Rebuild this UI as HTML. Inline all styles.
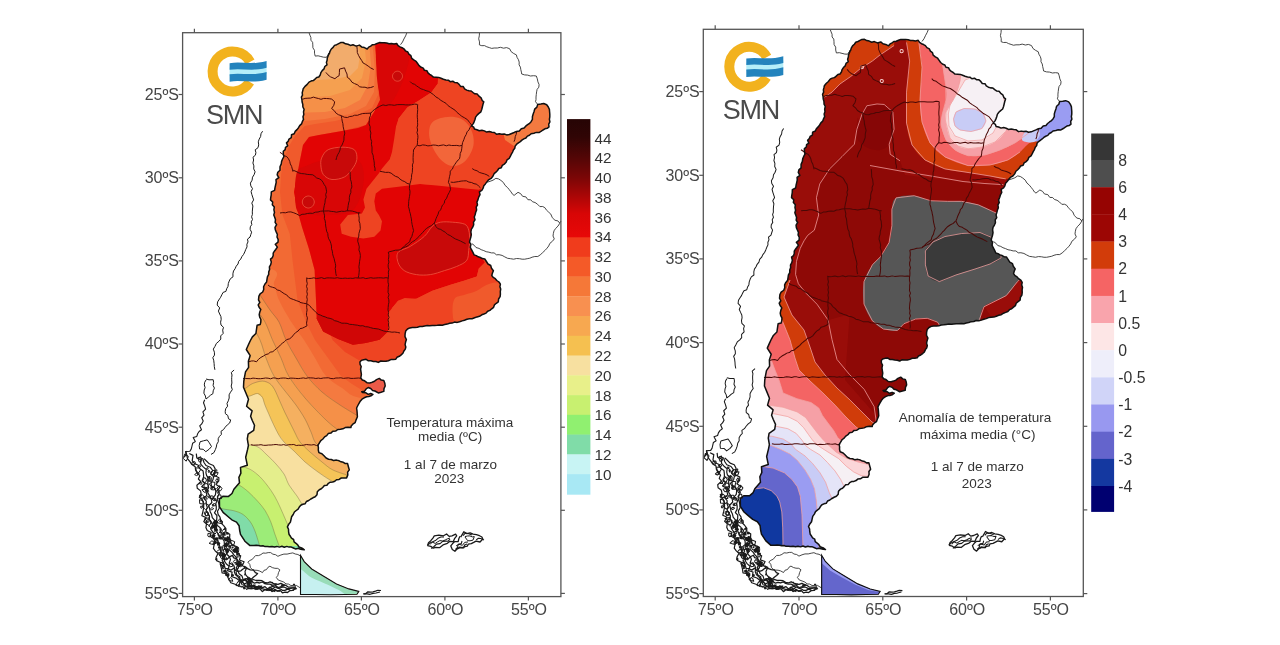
<!DOCTYPE html><html><head><meta charset="utf-8"><style>html,body{margin:0;padding:0;background:#fff;overflow:hidden}svg{display:block;filter:blur(0.35px)}</style></head><body><svg width="1280" height="645" viewBox="0 0 1280 645" style="font-family:'Liberation Sans',Arial,sans-serif">
<rect width="1280" height="645" fill="#fff"/>
<defs>
<clipPath id="arg"><path d="M329.3,53.8 L330.0,51.3 L331.3,49.0 L333.1,47.4 L334.5,45.4 L336.7,44.7 L338.7,43.6 L340.6,42.6 L343.2,42.5 L345.5,43.8 L348.0,44.3 L350.4,45.4 L353.0,44.8 L356.1,46.1 L359.4,45.1 L361.6,46.9 L364.4,47.6 L367.2,49.0 L368.7,47.1 L370.7,46.1 L372.5,44.7 L374.8,44.4 L377.1,43.5 L379.4,42.6 L381.9,42.7 L384.3,42.7 L386.7,43.0 L389.1,43.7 L391.5,43.6 L394.0,44.1 L396.7,43.5 L398.1,45.6 L400.0,46.9 L402.1,47.7 L403.9,48.8 L405.4,50.8 L407.8,52.0 L408.9,54.2 L410.9,55.7 L411.7,58.3 L413.8,59.9 L416.1,61.3 L417.6,63.5 L419.1,65.6 L421.2,67.3 L423.3,68.1 L424.4,70.3 L426.9,70.7 L428.0,72.9 L429.7,74.4 L431.6,75.5 L433.4,77.1 L436.1,77.2 L438.7,77.4 L441.0,78.3 L443.4,79.3 L445.9,80.0 L448.3,80.2 L450.2,81.7 L452.8,81.2 L454.8,82.6 L457.3,82.8 L459.1,84.4 L460.6,86.4 L463.3,86.6 L464.6,88.9 L466.7,90.1 L468.9,90.8 L471.2,91.0 L473.0,92.5 L474.8,93.8 L477.3,94.1 L479.0,96.2 L481.1,97.8 L482.2,100.5 L483.8,101.8 L483.0,104.3 L482.4,106.8 L481.8,109.3 L480.9,111.8 L478.9,113.4 L477.1,115.1 L475.6,117.1 L475.0,119.5 L474.2,121.6 L473.3,123.6 L471.5,125.8 L473.7,127.1 L474.4,129.1 L476.9,129.7 L479.3,130.8 L481.9,130.2 L484.4,130.9 L486.7,132.1 L489.4,131.6 L491.9,132.2 L494.4,132.5 L496.7,134.3 L499.3,133.8 L501.8,134.2 L504.2,134.0 L506.7,134.9 L509.3,134.5 L511.7,133.5 L514.1,132.5 L516.5,131.4 L519.3,130.9 L521.3,128.7 L524.1,128.1 L525.7,126.2 L527.6,124.7 L529.6,123.3 L531.1,121.7 L532.4,119.4 L532.4,116.7 L533.1,114.2 L534.0,111.7 L534.7,109.1 L536.9,107.1 L537.7,104.4 L540.8,104.0 L543.7,103.5 L546.7,104.7 L548.3,107.0 L549.4,109.4 L549.6,111.8 L549.8,114.3 L549.8,116.8 L549.4,119.3 L549.9,121.9 L548.7,124.2 L549.0,126.9 L547.2,128.3 L544.9,128.8 L543.0,130.0 L541.3,131.2 L539.0,132.6 L536.3,132.4 L533.9,133.2 L531.1,133.7 L529.4,135.2 L527.4,136.1 L525.9,138.0 L523.8,138.9 L521.9,140.1 L520.3,141.6 L518.4,142.9 L516.7,144.2 L515.2,145.9 L514.8,148.2 L513.4,149.9 L512.6,152.1 L511.5,153.9 L510.4,156.2 L509.2,158.4 L507.0,159.9 L506.1,162.3 L504.3,164.1 L502.3,165.4 L501.3,167.7 L498.8,168.5 L497.5,170.5 L495.9,172.2 L494.1,173.7 L492.9,176.3 L491.1,178.4 L488.6,179.8 L486.9,181.9 L485.4,183.9 L483.8,185.7 L483.1,188.2 L481.8,190.3 L479.4,191.8 L480.0,194.7 L478.7,197.1 L478.0,199.6 L476.9,202.1 L477.5,204.9 L476.2,207.2 L476.6,209.9 L475.7,212.3 L475.1,214.7 L474.3,217.1 L475.0,219.8 L473.5,222.1 L473.7,224.8 L472.7,227.2 L471.3,229.4 L470.9,232.0 L471.3,234.7 L470.8,237.3 L470.1,239.5 L469.5,242.1 L470.9,244.4 L470.3,247.2 L471.5,249.7 L472.8,252.1 L474.1,254.9 L476.3,255.6 L478.2,256.8 L480.4,257.5 L482.3,258.6 L484.8,259.0 L486.4,261.5 L488.0,264.0 L490.7,265.5 L491.5,268.2 L493.4,270.7 L492.4,273.1 L491.8,275.5 L493.2,277.4 L495.3,278.7 L496.8,280.5 L499.0,282.0 L500.4,284.2 L499.9,286.7 L500.7,289.1 L500.3,291.6 L500.4,294.1 L500.1,296.7 L498.6,299.0 L498.3,301.9 L496.3,303.3 L494.4,304.9 L493.6,307.3 L491.7,308.8 L489.9,310.4 L487.7,311.3 L486.1,313.1 L483.9,314.0 L481.8,314.8 L479.5,316.3 L477.0,316.9 L474.6,317.8 L472.1,318.7 L469.4,318.8 L466.9,319.2 L464.5,320.2 L462.1,320.9 L459.6,321.7 L457.2,322.4 L454.5,322.1 L452.1,323.1 L449.6,323.2 L447.2,324.1 L444.7,324.6 L442.3,325.2 L439.7,325.1 L437.2,325.3 L434.7,325.4 L432.2,325.5 L429.7,325.7 L427.2,325.6 L424.7,326.0 L422.3,326.4 L419.8,326.6 L417.4,327.2 L414.9,327.6 L412.3,327.5 L409.8,327.9 L407.5,329.0 L405.7,331.1 L405.1,333.8 L405.0,336.7 L406.4,339.6 L405.6,342.1 L405.1,344.6 L405.8,347.0 L405.3,349.1 L403.9,351.0 L402.9,353.3 L401.2,354.9 L399.3,356.3 L397.0,357.3 L395.8,359.2 L393.3,359.6 L390.8,359.6 L388.4,360.7 L385.9,361.3 L383.4,361.3 L380.8,361.0 L378.3,362.4 L375.9,361.5 L373.4,361.4 L370.9,360.8 L368.4,360.8 L366.1,359.3 L363.7,359.7 L361.3,360.4 L359.9,361.9 L360.1,364.3 L361.2,366.5 L360.6,369.2 L361.0,371.8 L361.4,374.4 L360.8,378.0 L362.3,380.0 L364.6,380.8 L366.9,382.7 L369.8,382.9 L372.2,382.3 L374.5,381.3 L376.5,379.6 L379.3,378.4 L381.3,380.1 L383.8,380.6 L384.8,383.2 L385.2,386.0 L384.0,388.6 L383.8,391.4 L381.0,392.2 L378.3,392.9 L374.9,391.0 L372.6,390.5 L370.7,388.5 L368.2,387.5 L366.2,388.9 L364.5,391.2 L361.7,391.7 L362.7,392.6 L365.6,392.7 L368.2,394.4 L370.7,393.5 L372.9,394.4 L371.0,395.8 L368.9,396.5 L366.6,396.7 L364.2,397.8 L362.0,399.2 L360.0,401.6 L358.1,405.0 L356.6,408.0 L357.0,410.9 L357.2,413.8 L357.4,416.7 L356.2,419.6 L355.1,422.7 L352.8,424.2 L351.2,426.0 L350.9,427.5 L348.1,427.3 L345.2,427.6 L342.9,428.8 L340.4,429.2 L337.8,429.5 L335.6,431.1 L332.8,431.3 L330.9,433.1 L328.2,433.6 L326.7,435.6 L324.6,436.9 L322.9,439.0 L320.8,440.6 L319.4,442.9 L317.9,445.4 L318.4,447.7 L318.3,450.0 L318.9,452.6 L321.9,453.7 L324.0,455.8 L326.1,458.0 L328.6,459.2 L331.3,459.5 L333.7,460.6 L336.5,460.1 L339.1,460.8 L341.1,461.8 L343.3,462.3 L345.3,463.6 L347.6,463.6 L348.4,466.7 L349.3,469.9 L347.6,472.1 L347.8,474.9 L346.6,477.9 L344.0,478.0 L341.3,478.0 L339.1,479.4 L336.5,479.7 L334.8,481.2 L332.7,482.0 L330.3,482.2 L328.4,483.3 L326.9,485.2 L324.4,485.4 L322.9,487.2 L321.3,488.8 L319.3,489.7 L317.3,491.8 L317.0,494.8 L315.2,496.8 L312.9,497.8 L310.8,499.0 L308.7,500.5 L306.4,501.5 L305.2,503.7 L302.8,504.3 L300.8,505.2 L299.3,507.0 L298.1,509.1 L296.2,510.5 L294.4,512.0 L293.2,514.5 L291.6,516.8 L291.0,519.5 L290.4,522.1 L288.7,524.3 L287.4,526.9 L288.5,529.3 L288.6,531.8 L289.1,534.5 L290.4,536.3 L291.5,538.2 L293.6,539.5 L294.1,541.9 L296.0,543.3 L297.7,544.9 L299.0,547.0 L302.1,548.1 L304.3,549.8 L302.1,549.5 L299.9,549.0 L297.8,548.4 L295.4,548.9 L293.4,548.0 L291.3,547.1 L289.0,547.1 L286.8,546.4 L284.3,547.2 L281.9,546.3 L279.4,547.1 L276.9,546.4 L274.4,547.0 L272.0,546.5 L269.5,546.7 L267.3,546.4 L265.1,546.6 L262.9,545.7 L260.7,545.9 L258.5,545.4 L256.2,545.3 L254.0,545.4 L251.8,545.4 L249.7,545.4 L244.9,541.2 L240.5,534.4 L239.6,530.0 L239.1,525.8 L236.5,522.1 L231.8,519.8 L227.9,516.5 L223.1,512.4 L219.5,506.9 L219.4,499.1 L222.8,496.3 L228.5,496.4 L232.0,493.5 L233.9,489.3 L239.5,482.8 L238.9,477.4 L240.9,473.1 L240.5,467.4 L247.3,465.2 L245.7,457.3 L247.6,449.4 L248.4,445.5 L247.3,438.9 L248.1,434.2 L253.7,430.4 L254.5,425.3 L252.3,420.5 L250.6,416.3 L252.1,410.9 L246.6,406.2 L248.5,399.3 L245.9,393.0 L243.5,387.2 L243.8,381.3 L244.6,376.6 L245.5,371.9 L248.6,367.4 L248.4,361.2 L250.2,355.6 L246.3,349.5 L248.4,344.8 L250.4,340.5 L252.4,336.9 L255.9,333.5 L256.6,328.6 L257.1,325.3 L260.2,324.5 L260.8,322.1 L260.9,319.5 L259.7,317.2 L259.2,314.7 L259.8,312.0 L260.8,309.5 L259.1,307.2 L258.2,304.9 L259.8,302.4 L258.5,299.9 L258.9,296.2 L260.1,293.9 L262.7,292.0 L263.7,289.5 L263.6,286.7 L264.8,284.2 L266.6,282.0 L267.0,279.3 L267.4,276.8 L268.7,274.4 L268.7,271.9 L269.6,269.5 L269.4,266.9 L270.7,264.6 L271.3,262.1 L270.5,259.1 L272.4,257.6 L273.2,255.5 L273.2,253.1 L274.4,251.2 L275.7,249.5 L277.4,247.1 L275.3,244.4 L278.0,242.1 L278.2,239.6 L277.0,237.0 L277.4,234.5 L276.3,232.1 L275.3,229.7 L275.0,227.3 L276.6,224.6 L275.1,222.3 L275.5,219.7 L274.7,217.3 L273.8,214.9 L274.5,212.4 L273.9,209.8 L274.3,206.9 L272.3,204.8 L272.7,202.0 L270.5,199.9 L270.7,197.8 L271.2,194.9 L271.3,191.9 L274.6,190.3 L275.0,187.6 L275.6,185.0 L276.2,182.4 L276.0,179.7 L278.8,177.7 L277.2,174.8 L277.8,172.3 L280.0,170.3 L280.0,166.8 L281.3,163.9 L281.6,161.4 L282.6,159.0 L283.9,156.7 L283.3,154.0 L283.3,151.2 L285.2,149.6 L285.5,147.3 L287.7,145.8 L286.5,142.9 L288.2,141.2 L289.0,139.1 L291.3,137.7 L291.5,134.8 L294.2,133.7 L295.2,131.4 L297.0,129.6 L298.5,127.7 L299.7,125.6 L301.5,123.9 L302.3,121.7 L303.5,119.4 L303.0,116.8 L303.8,114.4 L303.5,112.0 L304.1,109.3 L302.9,107.0 L302.8,104.4 L302.1,102.0 L301.9,99.5 L301.4,97.2 L302.5,95.1 L302.2,92.8 L302.8,90.6 L303.2,88.7 L305.0,86.4 L307.2,84.4 L309.0,82.1 L311.0,81.1 L313.3,80.6 L315.0,79.1 L316.7,77.5 L318.8,77.0 L320.2,75.0 L320.9,72.6 L322.2,70.6 L324.0,68.9 L324.8,66.5 L327.0,64.8 L326.4,62.4 L327.1,60.2 L327.3,57.9 L328.2,55.8 L328.9,53.6 Z"/><path d="M300.5,555.4 L304.2,561.6 L311.7,569.0 L324.1,576.5 L336.5,583.9 L348.9,588.9 L358.8,591.4 L357.0,594.2 L345.0,594.5 L330.0,594.8 L315.0,594.5 L300.5,594.5 Z"/></clipPath>
</defs>
<g>
<g clip-path="url(#arg)"><rect x="150" y="20" width="420" height="600" fill="#ee4422"/>
<path d="M376.0,40.0 L380.0,100.0 L374.0,112.0 L366.0,125.0 L342.0,131.0 L319.0,135.0 L309.0,137.0 L303.0,145.0 L300.0,160.0 L294.0,192.0 L297.0,209.0 L302.0,227.0 L309.0,249.0 L314.6,270.0 L316.0,300.0 L325.0,322.0 L332.5,340.0 L345.0,352.0 L362.0,362.0 L422.0,362.0 L422.0,620.0 L150.0,620.0 L150.0,20.0 L376.0,20.0 Z" fill="#f05a2c"/>
<path d="M374.0,40.0 L377.0,75.0 L378.0,95.0 L372.0,108.0 L355.0,116.0 L335.0,121.0 L315.0,124.0 L304.7,126.0 L295.0,136.0 L289.8,144.7 L283.6,159.6 L281.1,174.5 L280.0,191.9 L282.3,214.2 L289.8,234.1 L292.5,260.0 L297.5,300.0 L306.0,322.0 L315.0,340.0 L328.0,358.0 L341.0,376.0 L352.0,384.0 L365.0,392.0 L425.0,392.0 L425.0,620.0 L150.0,620.0 L150.0,20.0 L374.0,20.0 Z" fill="#f26a34"/>
<path d="M266.0,268.0 C286.7,270.8 271.8,279.7 274.0,285.0 C276.2,290.3 276.3,294.2 279.0,300.0 C281.7,305.8 285.8,313.3 290.0,320.0 C294.2,326.7 299.8,333.7 304.0,340.0 C308.2,346.3 311.3,352.0 315.0,358.0 C318.7,364.0 321.5,371.0 326.0,376.0 C330.5,381.0 336.0,384.3 342.0,388.0 C348.0,391.7 348.7,396.3 362.0,398.0 C375.3,399.7 412.0,371.0 422.0,398.0 C432.0,425.0 467.3,533.0 422.0,560.0 C376.7,587.0 195.3,608.7 150.0,560.0 C104.7,511.3 130.7,316.7 150.0,268.0 C169.3,219.3 245.3,265.2 266.0,268.0 Z" fill="#f47a40"/>
<path d="M372.0,40.0 L375.0,70.0 L374.0,92.0 L366.0,106.0 L350.0,114.0 L325.0,119.0 L305.0,121.0 L290.0,121.0 L250.0,121.0 L250.0,20.0 L372.0,20.0 Z" fill="#f47a40"/>
<path d="M258.0,292.0 L270.0,310.0 L279.0,322.0 L286.0,340.0 L296.0,358.0 L307.0,376.0 L322.0,392.0 L340.0,405.0 L358.0,416.0 L418.0,416.0 L418.0,560.0 L150.0,560.0 L150.0,292.0 Z" fill="#f59048"/>
<path d="M369.0,40.0 L371.0,65.0 L368.0,85.0 L360.0,100.0 L345.0,108.0 L325.0,112.0 L290.0,113.0 L250.0,113.0 L250.0,20.0 L369.0,20.0 Z" fill="#f59048"/>
<path d="M255.0,308.0 L265.0,322.0 L272.5,340.0 L281.0,358.0 L288.7,376.0 L305.0,398.0 L326.0,420.0 L338.0,430.0 L398.0,430.0 L398.0,560.0 L150.0,560.0 L150.0,308.0 Z" fill="#f5a050"/>
<path d="M364.0,40.0 L366.0,60.0 L362.0,78.0 L350.0,90.0 L330.0,96.0 L310.0,97.0 L290.0,99.0 L250.0,99.0 L250.0,20.0 L364.0,20.0 Z" fill="#f5a050"/>
<path d="M250.0,322.0 L260.0,340.0 L266.0,358.0 L274.0,376.0 L285.0,391.0 L296.0,405.0 L305.0,419.0 L311.0,432.0 L315.0,442.0 L322.0,448.0 L330.0,455.0 L345.0,462.0 L405.0,462.0 L405.0,560.0 L150.0,560.0 L150.0,322.0 Z" fill="#f5b060"/>
<path d="M358.0,40.0 L360.0,55.0 L358.0,68.0 L350.0,76.0 L335.0,79.0 L318.0,80.0 L290.0,86.0 L250.0,86.0 L250.0,20.0 L358.0,20.0 Z" fill="#f2ac6c"/>
<path d="M240.0,389.0 L245.0,388.5 L252.4,383.6 L262.3,381.1 L269.8,383.6 L274.7,389.8 L279.7,400.9 L284.7,412.1 L289.6,422.0 L294.6,432.0 L300.0,442.0 L310.0,452.0 L322.0,462.0 L333.0,470.0 L350.0,476.0 L410.0,476.0 L410.0,560.0 L150.0,560.0 L150.0,389.0 Z" fill="#f5c458"/>
<path d="M244.0,397.0 L250.0,396.0 L257.4,393.5 L262.3,397.2 L264.8,404.7 L268.5,413.3 L273.5,424.5 L278.5,434.4 L284.0,442.0 L294.0,451.0 L305.0,462.0 L318.0,472.0 L330.0,480.0 L345.0,488.0 L405.0,488.0 L405.0,560.0 L150.0,560.0 L150.0,397.0 Z" fill="#f8e0a0"/>
<path d="M240.0,445.0 L256.0,446.0 L267.0,455.0 L276.0,464.0 L284.0,474.0 L289.0,485.0 L297.0,496.0 L304.0,507.0 L312.0,514.0 L372.0,514.0 L372.0,560.0 L150.0,560.0 L150.0,445.0 Z" fill="#e4ee8c"/>
<path d="M232.0,466.0 L247.0,468.0 L258.0,475.0 L267.0,485.0 L274.5,496.0 L280.0,507.0 L285.7,520.0 L291.3,533.0 L296.0,542.0 L356.0,542.0 L356.0,560.0 L150.0,560.0 L150.0,466.0 Z" fill="#c8f070"/>
<path d="M230.0,482.0 L239.0,485.0 L248.5,492.0 L257.8,501.4 L265.2,510.7 L270.8,521.9 L274.5,533.0 L279.2,546.0 L339.2,546.0 L339.2,560.0 L150.0,560.0 L150.0,482.0 Z" fill="#9cec78"/>
<path d="M215.0,506.0 L222.4,508.8 L233.6,510.7 L242.9,514.4 L250.3,521.9 L255.0,531.2 L259.7,546.0 L319.7,546.0 L319.7,560.0 L150.0,560.0 L150.0,506.0 Z" fill="#80dca8"/>
<path d="M374.7,40.0 L440.0,40.0 L437.7,83.8 L431.2,92.4 L418.1,101.1 L407.3,107.6 L398.6,118.5 L396.0,126.4 L394.0,140.0 L392.0,152.0 L389.8,159.3 L420.0,184.0 L478.0,186.0 L490.0,200.0 L480.0,255.0 L484.8,262.5 L478.8,268.5 L476.8,276.6 L464.7,280.6 L450.6,284.7 L432.4,290.7 L416.3,298.8 L404.7,297.9 L398.1,300.8 L392.0,308.0 L387.9,331.4 L379.5,339.8 L365.6,343.1 L352.9,344.7 L338.0,339.1 L323.1,331.6 L316.6,318.6 L316.0,300.0 L314.6,270.0 L309.0,249.0 L302.0,227.0 L297.0,209.0 L294.0,192.0 L300.0,160.0 L303.0,145.0 L309.0,137.0 L319.0,135.0 L342.0,131.0 L358.0,128.0 L366.0,125.0 L374.0,112.0 L380.0,100.0 L378.0,80.0 Z" fill="#e20404"/>
<path d="M389.8,159.3 L394.4,150.0 L397.0,126.4 L398.6,118.5 L407.3,107.6 L418.1,101.1 L431.2,92.4 L437.7,83.8 L460.0,80.0 L500.0,100.0 L560.0,100.0 L560.0,180.0 L490.0,185.0 L478.7,189.7 L465.5,188.4 L439.2,185.8 L420.0,184.1 L406.8,185.7 L394.4,187.2 L382.0,188.8 L375.8,193.4 L374.3,201.2 L375.8,210.5 L378.9,215.1 L382.0,221.3 L380.5,230.6 L374.3,236.8 L363.4,238.4 L351.0,236.8 L341.7,233.7 L340.2,224.4 L347.9,215.1 L361.9,213.6 L365.0,207.4 L363.4,199.6 L366.5,188.8 L378.9,173.3 L382.0,168.6 Z" fill="#ee4422"/>
<path d="M388.1,312.9 L398.1,300.8 L416.3,298.8 L432.4,290.7 L450.6,284.7 L464.7,280.6 L476.8,276.6 L478.8,268.5 L484.8,262.5 L520.0,262.0 L520.0,340.0 L388.0,340.0 Z" fill="#ee4422"/>
<path d="M454.6,298.8 C456.6,295.8 461.0,296.2 464.7,294.8 C468.4,293.4 473.1,292.4 476.8,290.7 C480.5,289.0 483.5,286.0 486.9,284.7 C490.2,283.4 494.2,282.0 496.9,282.7 C499.6,283.4 502.3,285.7 503.0,288.7 C503.7,291.7 502.5,296.6 501.0,300.8 C499.5,305.0 497.2,310.5 494.0,314.0 C490.8,317.5 486.2,320.0 482.0,322.0 C477.8,324.0 472.9,325.2 468.7,326.0 C464.5,326.8 459.3,329.2 456.6,327.0 C453.9,324.8 452.9,317.6 452.6,312.9 C452.3,308.2 452.6,301.8 454.6,298.8 Z" fill="#f05a2c"/>
<path d="M431.2,123.7 C433.6,120.0 439.5,118.1 444.4,117.2 C449.2,116.3 455.9,116.5 460.3,118.5 C464.7,120.5 468.6,124.6 470.8,129.0 C473.0,133.4 474.4,139.6 473.5,144.9 C472.6,150.2 469.0,157.2 465.5,160.7 C462.0,164.2 456.7,166.4 452.3,166.0 C447.9,165.6 442.9,162.4 439.2,158.0 C435.5,153.6 431.2,145.3 429.9,139.6 C428.6,133.9 428.8,127.4 431.2,123.7 Z" fill="#f2663a"/>
<path d="M378.8,45.8 C383.4,41.6 398.8,42.7 403.8,44.5 C408.9,46.3 408.9,51.3 409.1,56.4 C409.3,61.5 406.9,69.1 405.0,75.0 C403.1,80.9 400.5,87.2 398.0,92.0 C395.5,96.8 392.5,101.7 390.0,104.0 C387.5,106.3 384.8,108.0 383.0,106.0 C381.2,104.0 380.1,98.1 379.0,92.0 C377.9,85.9 376.5,77.2 376.5,69.5 C376.5,61.8 374.2,50.0 378.8,45.8 Z" fill="#d80606"/>
<path d="M298.0,552.0 L330.0,568.0 L365.0,585.0 L365.0,600.0 L298.0,600.0 Z" fill="#98dcb8"/>
<path d="M298.0,570.0 C300.2,566.2 306.2,574.9 311.3,577.4 C316.4,579.9 323.1,582.5 328.4,585.1 C333.7,587.7 340.1,590.3 342.9,592.8 C345.7,595.3 352.5,598.8 345.0,600.0 C337.5,601.2 305.8,605.0 298.0,600.0 C290.2,595.0 295.8,573.8 298.0,570.0 Z" fill="#c6f0f0"/>
<path d="M500.0,120.0 L530.0,100.0 L560.0,100.0 L560.0,140.0 L520.0,150.0 L505.0,140.0 Z" fill="#f47a40"/>
<path d="M368.0,378.0 L376.0,376.0 L388.0,380.0 L388.0,396.0 L374.0,398.0 L369.0,386.0 Z" fill="#ec5a48"/>
<path d="M297.0,172.0 C298.8,167.2 302.2,167.8 306.0,166.0 C309.8,164.2 314.3,162.3 320.0,161.0 C325.7,159.7 333.7,158.2 340.0,158.0 C346.3,157.8 354.0,157.2 358.0,160.0 C362.0,162.8 363.7,168.7 364.0,175.0 C364.3,181.3 362.3,191.8 360.0,198.0 C357.7,204.2 355.0,209.2 350.0,212.0 C345.0,214.8 336.7,214.5 330.0,215.0 C323.3,215.5 315.3,215.5 310.0,215.0 C304.7,214.5 300.5,215.3 298.0,212.0 C295.5,208.7 295.2,201.7 295.0,195.0 C294.8,188.3 295.2,176.8 297.0,172.0 Z" fill="#d80606"/>
<path d="M398.1,252.4 C400.1,249.7 405.8,249.1 410.2,246.4 C414.6,243.7 420.7,239.7 424.4,236.3 C428.1,232.9 429.7,228.5 432.4,226.2 C435.1,223.8 437.1,222.9 440.5,222.2 C443.9,221.5 448.6,221.9 452.6,222.2 C456.6,222.5 462.0,222.9 464.7,224.2 C467.4,225.5 467.9,227.5 468.7,230.2 C469.5,232.9 469.7,236.9 469.7,240.3 C469.7,243.7 469.2,247.0 468.7,250.4 C468.2,253.8 468.7,257.8 466.7,260.5 C464.7,263.2 460.3,264.8 456.6,266.5 C452.9,268.2 448.9,269.2 444.5,270.6 C440.1,272.0 435.1,273.9 430.4,274.6 C425.7,275.3 420.7,275.3 416.3,274.6 C411.9,273.9 407.2,272.6 404.2,270.6 C401.2,268.6 399.1,265.5 398.1,262.5 C397.1,259.5 396.1,255.1 398.1,252.4 Z" fill="#c80909"/>
<path d="M322.0,157.1 C323.2,154.6 324.9,151.3 328.2,149.7 C331.5,148.0 337.5,147.2 341.9,147.2 C346.2,147.2 351.8,147.6 354.3,149.7 C356.8,151.8 357.2,156.3 356.8,159.6 C356.4,162.9 353.9,166.7 351.8,169.6 C349.7,172.5 347.7,175.3 344.4,177.0 C341.1,178.7 335.5,179.9 332.0,179.5 C328.5,179.1 325.2,177.0 323.3,174.5 C321.4,172.0 321.0,167.5 320.8,164.6 C320.6,161.7 320.8,159.6 322.0,157.1 Z" fill="#c80909"/>
<path d="M318.0,314.6 L341.8,323.0 L362.8,325.8 L386.5,331.4 L387.9,331.4 L379.5,339.8 L365.6,343.1 L352.9,344.7 L338.0,339.1 L323.1,331.6 L316.6,318.6 Z" fill="#d00606"/>
<path d="M314.3,202.0 C314.3,203.4 313.5,205.2 312.5,206.2 C311.5,207.2 309.7,208.0 308.3,208.0 C306.9,208.0 305.1,207.2 304.1,206.2 C303.1,205.2 302.3,203.4 302.3,202.0 C302.3,200.6 303.1,198.8 304.1,197.8 C305.1,196.8 306.9,196.0 308.3,196.0 C309.7,196.0 311.5,196.8 312.5,197.8 C313.5,198.8 314.3,200.6 314.3,202.0 Z" fill="#c80909"/>
<path d="M402.5,76.2 C402.5,77.4 401.9,78.9 401.0,79.7 C400.2,80.6 398.7,81.2 397.5,81.2 C396.3,81.2 394.8,80.6 394.0,79.7 C393.1,78.9 392.5,77.4 392.5,76.2 C392.5,75.0 393.1,73.5 394.0,72.7 C394.8,71.8 396.3,71.2 397.5,71.2 C398.7,71.2 400.2,71.8 401.0,72.7 C401.9,73.5 402.5,75.0 402.5,76.2 Z" fill="#c80909"/>
<path d="M258.0,292.0 C260.0,295.0 266.5,305.0 270.0,310.0 C273.5,315.0 276.3,317.0 279.0,322.0 C281.7,327.0 283.2,334.0 286.0,340.0 C288.8,346.0 292.5,352.0 296.0,358.0 C299.5,364.0 302.7,370.3 307.0,376.0 C311.3,381.7 316.5,387.2 322.0,392.0 C327.5,396.8 334.0,401.0 340.0,405.0 C346.0,409.0 355.0,414.2 358.0,416.0" fill="none" stroke="#6a5a38" stroke-width="0.75" opacity="0.5"/>
<path d="M255.0,308.0 C256.7,310.3 262.1,316.7 265.0,322.0 C267.9,327.3 269.8,334.0 272.5,340.0 C275.2,346.0 278.3,352.0 281.0,358.0 C283.7,364.0 284.7,369.3 288.7,376.0 C292.7,382.7 298.8,390.7 305.0,398.0 C311.2,405.3 320.5,414.7 326.0,420.0 C331.5,425.3 336.0,428.3 338.0,430.0" fill="none" stroke="#6a5a38" stroke-width="0.75" opacity="0.5"/>
<path d="M250.0,322.0 C251.7,325.0 257.3,334.0 260.0,340.0 C262.7,346.0 263.7,352.0 266.0,358.0 C268.3,364.0 270.8,370.5 274.0,376.0 C277.2,381.5 281.3,386.2 285.0,391.0 C288.7,395.8 292.7,400.3 296.0,405.0 C299.3,409.7 302.5,414.5 305.0,419.0 C307.5,423.5 309.3,428.2 311.0,432.0 C312.7,435.8 313.2,439.3 315.0,442.0 C316.8,444.7 319.5,445.8 322.0,448.0 C324.5,450.2 326.2,452.7 330.0,455.0 C333.8,457.3 342.5,460.8 345.0,462.0" fill="none" stroke="#6a5a38" stroke-width="0.75" opacity="0.5"/>
<path d="M240.0,389.0 C240.8,388.9 242.9,389.4 245.0,388.5 C247.1,387.6 249.5,384.8 252.4,383.6 C255.3,382.4 259.4,381.1 262.3,381.1 C265.2,381.1 267.7,382.2 269.8,383.6 C271.9,385.1 273.1,386.9 274.7,389.8 C276.3,392.7 278.0,397.2 279.7,400.9 C281.4,404.6 283.0,408.6 284.7,412.1 C286.4,415.6 288.0,418.7 289.6,422.0 C291.2,425.3 292.9,428.7 294.6,432.0 C296.3,435.3 297.4,438.7 300.0,442.0 C302.6,445.3 306.3,448.7 310.0,452.0 C313.7,455.3 318.2,459.0 322.0,462.0 C325.8,465.0 328.3,467.7 333.0,470.0 C337.7,472.3 347.2,475.0 350.0,476.0" fill="none" stroke="#6a5a38" stroke-width="0.75" opacity="0.5"/>
<path d="M244.0,397.0 C245.0,396.8 247.8,396.6 250.0,396.0 C252.2,395.4 255.3,393.3 257.4,393.5 C259.4,393.7 261.1,395.3 262.3,397.2 C263.5,399.1 263.8,402.0 264.8,404.7 C265.8,407.4 267.1,410.0 268.5,413.3 C269.9,416.6 271.8,421.0 273.5,424.5 C275.2,428.0 276.8,431.5 278.5,434.4 C280.2,437.3 281.4,439.2 284.0,442.0 C286.6,444.8 290.5,447.7 294.0,451.0 C297.5,454.3 301.0,458.5 305.0,462.0 C309.0,465.5 313.8,469.0 318.0,472.0 C322.2,475.0 325.5,477.3 330.0,480.0 C334.5,482.7 342.5,486.7 345.0,488.0" fill="none" stroke="#6a5a38" stroke-width="0.75" opacity="0.5"/>
<path d="M240.0,445.0 C242.7,445.2 251.5,444.3 256.0,446.0 C260.5,447.7 263.7,452.0 267.0,455.0 C270.3,458.0 273.2,460.8 276.0,464.0 C278.8,467.2 281.8,470.5 284.0,474.0 C286.2,477.5 286.8,481.3 289.0,485.0 C291.2,488.7 294.5,492.3 297.0,496.0 C299.5,499.7 301.5,504.0 304.0,507.0 C306.5,510.0 310.7,512.8 312.0,514.0" fill="none" stroke="#6a5a38" stroke-width="0.75" opacity="0.5"/>
<path d="M232.0,466.0 C234.5,466.3 242.7,466.5 247.0,468.0 C251.3,469.5 254.7,472.2 258.0,475.0 C261.3,477.8 264.2,481.5 267.0,485.0 C269.8,488.5 272.3,492.3 274.5,496.0 C276.7,499.7 278.1,503.0 280.0,507.0 C281.9,511.0 283.8,515.7 285.7,520.0 C287.6,524.3 289.6,529.3 291.3,533.0 C293.0,536.7 295.2,540.5 296.0,542.0" fill="none" stroke="#6a5a38" stroke-width="0.75" opacity="0.5"/>
<path d="M230.0,482.0 C231.5,482.5 235.9,483.3 239.0,485.0 C242.1,486.7 245.4,489.3 248.5,492.0 C251.6,494.7 255.0,498.3 257.8,501.4 C260.6,504.5 263.0,507.3 265.2,510.7 C267.4,514.1 269.2,518.2 270.8,521.9 C272.4,525.6 273.1,529.0 274.5,533.0 C275.9,537.0 278.4,543.8 279.2,546.0" fill="none" stroke="#6a5a38" stroke-width="0.75" opacity="0.5"/>
<path d="M215.0,506.0 C216.2,506.5 219.3,508.0 222.4,508.8 C225.5,509.6 230.2,509.8 233.6,510.7 C237.0,511.6 240.1,512.5 242.9,514.4 C245.7,516.3 248.3,519.1 250.3,521.9 C252.3,524.7 253.4,527.2 255.0,531.2 C256.6,535.2 258.9,543.5 259.7,546.0" fill="none" stroke="#6a5a38" stroke-width="0.75" opacity="0.5"/>
<path d="M398.1,252.4 C400.1,249.7 405.8,249.1 410.2,246.4 C414.6,243.7 420.7,239.7 424.4,236.3 C428.1,232.9 429.7,228.5 432.4,226.2 C435.1,223.8 437.1,222.9 440.5,222.2 C443.9,221.5 448.6,221.9 452.6,222.2 C456.6,222.5 462.0,222.9 464.7,224.2 C467.4,225.5 467.9,227.5 468.7,230.2 C469.5,232.9 469.7,236.9 469.7,240.3 C469.7,243.7 469.2,247.0 468.7,250.4 C468.2,253.8 468.7,257.8 466.7,260.5 C464.7,263.2 460.3,264.8 456.6,266.5 C452.9,268.2 448.9,269.2 444.5,270.6 C440.1,272.0 435.1,273.9 430.4,274.6 C425.7,275.3 420.7,275.3 416.3,274.6 C411.9,273.9 407.2,272.6 404.2,270.6 C401.2,268.6 399.1,265.5 398.1,262.5 C397.1,259.5 396.1,255.1 398.1,252.4 Z" fill="none" stroke="#f06048" stroke-width="0.9" opacity="0.8"/>
<path d="M322.0,157.1 C323.2,154.6 324.9,151.3 328.2,149.7 C331.5,148.0 337.5,147.2 341.9,147.2 C346.2,147.2 351.8,147.6 354.3,149.7 C356.8,151.8 357.2,156.3 356.8,159.6 C356.4,162.9 353.9,166.7 351.8,169.6 C349.7,172.5 347.7,175.3 344.4,177.0 C341.1,178.7 335.5,179.9 332.0,179.5 C328.5,179.1 325.2,177.0 323.3,174.5 C321.4,172.0 321.0,167.5 320.8,164.6 C320.6,161.7 320.8,159.6 322.0,157.1 Z" fill="none" stroke="#f06048" stroke-width="0.9" opacity="0.8"/>
<path d="M314.3,202.0 C314.3,203.4 313.5,205.2 312.5,206.2 C311.5,207.2 309.7,208.0 308.3,208.0 C306.9,208.0 305.1,207.2 304.1,206.2 C303.1,205.2 302.3,203.4 302.3,202.0 C302.3,200.6 303.1,198.8 304.1,197.8 C305.1,196.8 306.9,196.0 308.3,196.0 C309.7,196.0 311.5,196.8 312.5,197.8 C313.5,198.8 314.3,200.6 314.3,202.0 Z" fill="none" stroke="#f06048" stroke-width="0.9" opacity="0.8"/>
<path d="M402.5,76.2 C402.5,77.4 401.9,78.9 401.0,79.7 C400.2,80.6 398.7,81.2 397.5,81.2 C396.3,81.2 394.8,80.6 394.0,79.7 C393.1,78.9 392.5,77.4 392.5,76.2 C392.5,75.0 393.1,73.5 394.0,72.7 C394.8,71.8 396.3,71.2 397.5,71.2 C398.7,71.2 400.2,71.8 401.0,72.7 C401.9,73.5 402.5,75.0 402.5,76.2 Z" fill="none" stroke="#f06048" stroke-width="0.9" opacity="0.8"/>
</g>
<path d="M219.1,548.5 L218.1,548.3 L217.9,546.5 L219.1,546.2 L220.4,547.0 L220.8,548.1 Z" fill="#1a1a1a"/>
<path d="M228.8,545.4 L230.6,545.2 L231.4,546.3 L230.4,547.3 L229.4,547.2 L227.8,546.4 Z" fill="#1a1a1a"/>
<path d="M239.0,551.2 L239.0,552.5 L236.4,553.4 L234.5,551.8 L235.9,550.6 L237.7,549.7 Z" fill="#1a1a1a"/>
<path d="M229.0,576.2 L227.8,577.5 L226.7,576.8 L226.9,575.1 L227.8,574.2 L229.6,575.0 Z" fill="#1a1a1a"/>
<path d="M245.4,566.0 L245.9,567.5 L244.7,568.1 L243.9,568.0 L243.6,567.1 L244.0,565.7 Z" fill="#1a1a1a"/>
<path d="M245.6,573.6 L246.3,574.2 L245.6,575.0 L244.7,575.8 L244.1,574.3 L244.6,573.6 Z" fill="#1a1a1a"/>
<path d="M248.0,580.8 L247.3,578.9 L249.4,577.0 L251.6,578.9 L252.0,580.8 L249.7,581.5 Z" fill="#1a1a1a"/>
<path d="M226.6,570.7 L226.9,572.8 L224.6,572.8 L222.9,571.4 L223.7,570.0 L225.9,569.3 Z" fill="#1a1a1a"/>
<path d="M228.1,539.0 L226.9,541.4 L225.2,541.2 L223.6,539.4 L225.1,537.3 L226.4,537.2 Z" fill="#1a1a1a"/>
<path d="M239.3,566.6 L237.3,565.6 L236.8,564.2 L238.7,562.0 L241.2,563.7 L241.6,565.5 Z" fill="#1a1a1a"/>
<path d="M222.4,534.4 L222.9,532.0 L225.3,532.5 L225.6,533.7 L225.7,535.7 L223.5,535.8 Z" fill="#1a1a1a"/>
<path d="M224.6,543.5 L226.3,542.0 L228.2,544.3 L228.2,545.9 L226.2,547.4 L223.4,546.5 Z" fill="#1a1a1a"/>
<path d="M237.1,549.9 L235.5,549.0 L235.6,547.5 L237.1,546.5 L238.8,547.8 L238.0,548.8 Z" fill="#1a1a1a"/>
<path d="M219.4,537.2 L218.6,536.3 L219.4,535.2 L220.6,535.4 L220.8,536.3 L220.3,536.8 Z" fill="#1a1a1a"/>
<path d="M219.3,545.4 L217.3,545.7 L216.8,543.4 L217.2,541.7 L219.2,541.9 L220.4,543.2 Z" fill="#1a1a1a"/>
<path d="M240.1,562.9 L241.2,563.7 L242.3,564.5 L241.1,565.9 L239.9,565.5 L239.2,564.3 Z" fill="#1a1a1a"/>
<path d="M213.4,542.3 L214.5,541.6 L216.4,542.6 L214.8,544.1 L213.7,544.1 L212.2,543.4 Z" fill="#1a1a1a"/>
<path d="M236.8,551.7 L234.2,553.1 L232.5,551.2 L233.0,549.2 L234.1,548.6 L237.0,548.6 Z" fill="#1a1a1a"/>
<path d="M231.8,575.6 L231.3,574.5 L232.6,574.0 L234.0,574.7 L233.9,575.9 L232.4,576.6 Z" fill="#1a1a1a"/>
<path d="M219.3,522.5 L219.5,520.6 L220.3,520.2 L221.9,520.6 L222.0,521.8 L220.7,522.1 Z" fill="#1a1a1a"/>
<path d="M226.7,534.7 L225.9,534.0 L226.8,532.6 L227.8,531.9 L229.3,533.6 L228.3,534.6 Z" fill="#1a1a1a"/>
<path d="M223.9,529.0 L224.4,527.5 L225.5,528.2 L226.5,529.0 L225.6,529.8 L224.0,529.8 Z" fill="#1a1a1a"/>
<path d="M238.3,563.3 L238.8,564.8 L237.5,566.1 L236.3,565.3 L234.8,563.9 L236.7,562.1 Z" fill="#1a1a1a"/>
<path d="M207.1,522.9 L206.2,523.4 L205.9,521.8 L206.4,520.6 L207.3,521.2 L207.6,522.2 Z" fill="#1a1a1a"/>
<path d="M222.2,538.2 L221.6,539.7 L219.1,539.2 L218.4,537.3 L219.4,536.5 L221.5,536.3 Z" fill="#1a1a1a"/>
<path d="M239.4,562.2 L239.3,563.8 L238.1,563.2 L236.9,562.2 L237.8,561.4 L239.4,560.8 Z" fill="#1a1a1a"/>
<path d="M216.9,540.0 L214.1,540.3 L214.9,537.8 L216.1,537.3 L218.8,537.6 L218.6,539.5 Z" fill="#1a1a1a"/>
<path d="M227.0,536.0 L229.0,536.7 L230.2,539.8 L228.6,540.6 L226.4,541.3 L226.3,538.4 Z" fill="#1a1a1a"/>
<path d="M228.4,552.2 L227.3,554.2 L225.8,552.5 L224.8,549.5 L227.3,547.7 L228.9,549.5 Z" fill="#1a1a1a"/>
<path d="M245.4,586.7 L245.9,588.8 L243.8,589.6 L243.1,588.4 L242.5,586.6 L244.3,586.2 Z" fill="#1a1a1a"/>
<path d="M224.4,557.1 L222.0,558.7 L221.5,555.9 L221.5,553.5 L224.2,552.6 L226.4,555.7 Z" fill="#1a1a1a"/>
<path d="M226.1,550.9 L226.5,549.0 L227.9,548.4 L228.5,549.9 L229.1,552.0 L226.9,552.9 Z" fill="#1a1a1a"/>
<path d="M233.7,547.5 L232.7,548.8 L231.4,547.6 L232.1,546.4 L232.8,546.4 L233.8,546.6 Z" fill="#1a1a1a"/>
<path d="M209.8,525.2 L210.0,526.1 L209.8,527.1 L208.8,526.9 L208.7,526.0 L208.5,524.6 Z" fill="#1a1a1a"/>
<path d="M247.7,580.2 L250.2,579.8 L251.6,581.5 L251.4,583.8 L249.0,584.5 L247.5,582.5 Z" fill="#1a1a1a"/>
<path d="M212.6,522.5 L215.2,519.7 L217.7,521.3 L217.3,524.1 L215.9,524.8 L214.3,524.2 Z" fill="#1a1a1a"/>
<path d="M212.3,525.6 L213.5,524.6 L216.5,524.0 L216.1,526.7 L214.9,529.4 L212.8,527.6 Z" fill="#1a1a1a"/>
<path d="M212.5,537.9 L211.9,536.8 L211.1,535.2 L213.9,533.8 L215.6,535.3 L214.7,537.6 Z" fill="#1a1a1a"/>
<path d="M215.9,531.3 L213.8,530.4 L214.0,528.9 L216.3,527.8 L217.5,528.7 L218.3,530.4 Z" fill="#1a1a1a"/>
<path d="M229.4,574.6 L228.2,576.5 L226.6,576.1 L225.2,575.7 L225.6,574.1 L227.7,573.2 Z" fill="#1a1a1a"/>
<path d="M282.3,587.0 L282.6,587.5 L280.8,587.9 L279.8,587.0 L281.1,586.3 L282.4,586.2 Z" fill="#1a1a1a"/>
<path d="M248.7,582.3 L248.3,583.0 L247.2,582.7 L247.0,582.3 L247.3,582.0 L248.3,581.7 Z" fill="#1a1a1a"/>
<path d="M257.0,587.4 L255.8,588.3 L254.6,588.0 L253.0,587.4 L254.6,587.0 L255.7,586.3 Z" fill="#1a1a1a"/>
<path d="M259.7,589.0 L257.4,590.1 L256.1,589.8 L255.0,589.0 L255.4,588.1 L257.5,588.3 Z" fill="#1a1a1a"/>
<path d="M261.4,586.6 L259.8,587.7 L258.0,587.2 L257.4,586.6 L258.5,585.2 L259.9,586.0 Z" fill="#1a1a1a"/>
<path d="M297.2,588.9 L295.9,589.4 L294.6,589.9 L293.8,588.9 L294.6,588.2 L296.1,587.5 Z" fill="#1a1a1a"/>
<path d="M255.5,585.4 L255.1,586.8 L253.5,586.3 L251.7,585.4 L253.0,584.6 L255.7,584.5 Z" fill="#1a1a1a"/>
<path d="M295.1,584.8 L295.0,585.3 L293.1,585.6 L292.8,584.8 L293.1,583.8 L294.9,583.8 Z" fill="#1a1a1a"/>
<path d="M272.7,589.8 L270.3,590.8 L268.7,591.2 L267.9,589.8 L268.9,588.3 L270.3,588.3 Z" fill="#1a1a1a"/>
<path d="M275.2,586.3 L273.6,587.0 L271.2,587.5 L271.2,586.3 L271.2,584.9 L273.8,585.8 Z" fill="#1a1a1a"/>
<path d="M277.0,584.2 L276.4,584.8 L274.9,584.7 L274.0,584.2 L275.4,583.6 L276.2,583.3 Z" fill="#1a1a1a"/>
<path d="M294.5,590.2 L293.2,591.0 L292.2,590.7 L291.3,590.2 L292.2,589.5 L293.5,589.9 Z" fill="#1a1a1a"/>
<path d="M273.0,582.3 L273.1,582.9 L271.5,582.9 L270.8,582.3 L271.8,581.8 L272.8,581.9 Z" fill="#1a1a1a"/>
<path d="M286.0,585.2 L284.1,586.0 L282.1,586.7 L280.7,585.2 L281.9,583.9 L284.2,584.5 Z" fill="#1a1a1a"/>
<path d="M262.3,585.9 L262.0,586.7 L260.8,586.7 L260.7,585.9 L260.9,585.4 L262.1,585.5 Z" fill="#1a1a1a"/>
<path d="M275.6,590.8 L275.1,592.3 L273.5,591.4 L272.9,590.8 L273.8,589.9 L275.3,590.0 Z" fill="#1a1a1a"/>
<path d="M253.0,586.3 L251.7,587.3 L250.1,587.1 L249.7,586.3 L249.5,585.2 L251.4,585.5 Z" fill="#1a1a1a"/>
<path d="M262.3,587.1 L260.1,588.4 L258.2,588.4 L256.4,587.1 L257.9,586.3 L260.5,585.8 Z" fill="#1a1a1a"/>
<path d="M262.6,131.2 L261.0,133.7 L260.6,136.6 L259.2,139.1 L258.3,141.8 L258.7,144.9 L258.0,147.7 L255.2,149.8 L255.9,152.6 L255.4,155.2 L253.0,157.2 L253.6,160.0 L252.9,163.0 L253.9,165.9 L253.7,168.9 L255.1,171.8 L254.1,174.7 L252.5,177.2 L252.1,180.2 L250.4,183.1 L250.8,185.9 L252.5,188.6 L251.1,191.6 L251.8,194.4 L252.7,197.1 L253.6,199.9 L251.8,203.1 L252.9,206.0 L252.5,209.0 L252.3,211.9 L252.4,214.4 L251.6,216.8 L252.5,219.5 L251.2,221.9 L251.8,224.5 L250.3,226.8 L250.1,229.3 L251.6,232.2 L250.8,234.6 L250.0,237.1 L247.5,239.1 L248.0,241.9 L246.9,244.2 L247.0,246.9 L245.8,249.3 L244.8,251.9 L243.6,254.4 L241.9,256.6 L240.7,259.1 L238.7,261.3 L238.0,264.0 L236.2,266.2 L235.1,268.7 L233.5,271.0 L232.9,273.8 L233.0,276.8 L230.4,278.7 L229.2,281.1 L228.3,283.6 L228.0,286.4 L226.7,288.7 L225.9,291.4 L223.1,292.4 L221.8,294.8 L220.6,297.3 L219.5,298.9 L217.6,301.9 L217.2,305.1 L219.7,307.9 L218.4,311.1 L219.7,314.0 L220.9,316.5 L221.2,319.3 L220.6,322.2 L221.0,325.0 L223.5,327.3 L222.7,330.1 L223.2,333.4 L220.7,335.9 L220.8,339.1 L218.9,341.3 L216.4,343.4 L214.9,346.5 L213.3,349.1 L214.4,352.2 L214.5,355.1 L212.8,357.7 L213.7,360.2 L214.1,363.4 L214.3,366.6 L214.9,369.8" fill="none" stroke="#1a1a1a" stroke-width="1.0" stroke-linejoin="round"/>
<path d="M309.0,32.7 L309.9,35.1 L310.9,37.5 L310.9,40.2 L312.6,42.3 L312.8,44.9 L312.9,47.8 L314.5,50.3 L314.5,53.2 L315.2,56.1 L318.1,55.8 L320.8,56.5 L323.6,57.2 L326.4,57.3 L328.9,53.6" fill="none" stroke="#333" stroke-width="0.9" stroke-linejoin="round"/>
<path d="M406.9,32.7 L405.6,35.9 L403.9,39.0 L402.5,42.0 L400.5,44.7" fill="none" stroke="#333" stroke-width="0.9" stroke-linejoin="round"/>
<path d="M479.5,32.7 L479.3,35.8 L478.7,38.8 L479.5,41.9 L479.4,44.9 L481.8,45.7 L484.5,45.6 L486.8,46.8 L489.3,47.6 L491.7,48.4 L494.2,48.0 L497.4,48.0 L500.4,47.3 L503.6,48.2 L506.5,47.6 L509.6,48.7 L511.2,51.7 L513.7,53.5 L516.4,54.9 L517.0,57.3 L518.4,59.6 L519.2,62.1 L519.1,64.8 L520.4,67.1 L520.8,69.6 L521.4,72.1 L521.7,74.0 L524.6,74.9 L527.6,75.1 L530.5,76.0 L533.5,75.7 L536.3,76.0 L537.3,78.8 L537.9,81.8 L539.1,84.6 L538.8,87.2 L537.1,89.4 L536.6,91.9 L536.3,94.4 L536.0,97.0 L536.0,99.6 L535.5,101.7 L537.7,104.4" fill="none" stroke="#333" stroke-width="0.9" stroke-linejoin="round"/>
<path d="M487.2,182.2 L490.1,181.3 L493.0,180.2 L495.9,178.3 L498.5,178.9 L500.9,180.4 L503.4,182.5 L505.1,185.4 L507.5,187.5 L509.3,189.7 L511.0,191.9 L512.6,194.3 L514.1,195.4 L518.0,192.3 L520.7,193.7 L522.6,196.3 L525.9,196.9 L527.9,199.7 L530.7,199.8 L532.6,201.8 L535.1,202.5 L537.6,204.3 L539.9,206.6 L542.7,206.5 L544.9,207.7 L546.3,209.9 L548.6,212.1 L550.8,214.1 L552.3,217.7 L555.0,220.3 L557.9,220.9 L559.8,223.2 L558.0,226.1 L555.7,228.4 L554.0,230.8 L553.4,233.3 L553.0,236.0 L554.3,238.9 L552.4,241.3 L549.9,243.3 L548.7,246.0 L547.0,248.2 L545.1,250.3 L542.7,252.6 L540.2,254.9 L537.8,256.5 L534.8,256.5 L532.1,257.2 L529.8,258.2 L527.2,258.7 L524.7,259.2 L522.1,259.2 L519.6,258.7 L516.6,258.5 L513.6,259.2 L510.6,258.7 L507.6,258.3 L504.8,256.9 L502.1,255.4 L499.1,254.7 L496.4,254.8 L494.1,252.9 L491.4,252.9 L488.9,252.2 L486.2,251.7 L483.8,250.6 L481.2,249.7 L479.0,248.4 L476.0,247.5 L474.1,245.2 L471.8,243.6" fill="none" stroke="#333" stroke-width="0.9" stroke-linejoin="round"/>
<path d="M559.7,223.1 L561.0,221.0" fill="none" stroke="#333" stroke-width="0.9" stroke-linejoin="round"/>
<path d="M300.4,556.0 L297.9,554.5 L295.3,554.0 L292.8,552.9 L290.1,553.4 L287.1,554.1 L283.9,554.1 L280.9,555.0 L277.9,556.3 L275.6,554.7 L272.9,554.2 L270.7,552.6 L268.2,552.6 L265.7,553.2 L263.0,553.0 L260.9,554.6 L258.5,555.6 L255.7,555.6 L253.9,557.3 L252.3,559.4 L250.0,560.4 L247.8,562.1 L249.8,564.4 L250.4,567.4 L252.1,569.4 L254.6,570.2 L257.1,570.3 L259.6,571.0 L262.5,572.6 L263.9,570.4 L266.5,569.6 L267.9,567.4 L269.9,566.2 L272.3,567.6 L274.9,568.3 L277.7,568.4 L279.9,569.9 L278.5,572.6 L277.8,575.6 L276.3,577.4 L278.2,580.0 L281.0,581.0 L283.8,582.1 L286.0,583.9 L288.6,584.1 L290.9,585.5 L293.5,585.5 L296.3,585.4 L300.5,588.0" fill="none" stroke="#333" stroke-width="0.9" stroke-linejoin="round"/>
<path d="M243.0,378.7 L245.5,378.5 L248.0,378.6 L250.5,378.7 L253.0,378.1 L255.6,378.4 L258.1,378.7 L260.6,378.7 L263.1,378.4 L265.6,378.0 L268.1,378.2 L270.6,378.8 L273.1,377.9 L275.6,378.1 L278.1,378.8 L280.7,378.2 L283.2,378.0 L285.7,378.1 L288.2,378.7 L290.7,378.1 L293.2,378.2 L295.7,378.4 L298.2,378.6 L300.7,378.3 L303.3,377.9 L305.8,378.4 L308.3,377.8 L310.8,377.9 L313.3,378.0 L315.8,378.5 L318.3,378.1 L320.8,378.5 L323.3,378.0 L325.9,377.9 L328.4,377.8 L330.9,378.5 L333.4,378.7 L335.9,378.0 L338.4,378.0 L340.9,377.8 L343.4,378.4 L345.9,378.1 L348.4,377.9 L351.0,378.4 L353.5,378.4 L356.0,378.2 L358.5,378.0 L361.0,378.3" fill="none" stroke="#4a0806" stroke-width="1.0" stroke-linejoin="round"/>
<path d="M250.9,444.7 L253.4,445.2 L255.9,445.1 L258.5,445.0 L261.0,444.7 L263.5,445.3 L266.0,445.3 L268.6,445.0 L271.1,445.0 L273.6,444.7 L276.1,444.5 L278.6,444.9 L281.2,445.1 L283.7,444.6 L286.2,445.3 L288.7,444.7 L291.3,444.7 L293.8,444.5 L296.3,445.5 L298.8,445.2 L301.3,445.4 L303.9,445.1 L306.4,444.5 L308.9,444.8 L311.4,445.0 L314.0,444.6 L316.5,445.5 L319.0,445.0" fill="none" stroke="#4a0806" stroke-width="1.0" stroke-linejoin="round"/>
<path d="M248.7,361.9 L251.2,361.0 L253.7,360.9 L256.5,361.8 L258.5,359.3 L260.9,357.4 L263.7,355.9 L265.8,354.5 L268.3,353.9 L270.2,352.2 L272.8,351.7 L274.7,350.1 L276.7,348.4 L278.8,346.8 L280.5,344.8 L282.4,343.2 L284.6,341.6 L286.6,339.6 L289.4,338.9 L291.6,337.3 L293.5,334.9 L295.5,332.7 L298.1,331.0 L300.0,328.7 L302.5,328.1 L304.8,327.0 L307.0,325.8" fill="none" stroke="#4a0806" stroke-width="1.0" stroke-linejoin="round"/>
<path d="M299.9,302.4 L303.4,303.2 L306.7,303.8 L309.6,305.5 L311.6,308.2 L314.1,310.3 L316.0,312.5 L318.1,314.3 L320.5,315.1 L322.8,316.2 L325.2,316.9 L327.5,317.9 L330.1,318.4 L332.4,319.2 L334.6,320.7 L337.1,321.2 L339.4,322.2 L341.8,323.2 L344.4,323.2 L347.1,323.3 L349.6,324.3 L352.3,324.5 L354.9,324.9 L357.5,325.2 L360.1,325.9 L362.8,325.7 L365.4,326.7 L368.1,326.9 L370.7,327.7 L373.3,328.4 L376.0,328.7 L378.7,329.1 L381.2,330.1 L383.8,331.0 L386.5,331.5 L389.2,331.7 L391.9,332.2 L394.6,332.0 L397.3,332.4 L400.0,333.0" fill="none" stroke="#4a0806" stroke-width="1.0" stroke-linejoin="round"/>
<path d="M306.8,278.4 L306.7,281.0 L307.3,283.7 L306.5,286.3 L307.3,288.9 L306.8,291.6 L307.4,294.2 L306.7,296.8 L307.3,299.5 L306.8,302.1 L306.8,304.7 L306.7,307.4 L307.1,310.0 L306.6,312.6 L306.5,315.3 L307.4,317.9 L307.0,320.5 L306.5,323.2 L307.0,325.8" fill="none" stroke="#4a0806" stroke-width="1.0" stroke-linejoin="round"/>
<path d="M306.0,278.0 L308.6,278.5 L311.2,278.4 L313.8,277.8 L316.4,278.5 L319.0,278.2 L321.6,277.6 L324.2,278.6 L326.8,277.9 L329.4,277.9 L332.1,278.0 L334.7,278.2 L337.3,277.7 L339.9,278.3 L342.5,278.4 L345.1,278.1 L347.7,278.4 L350.3,278.2 L352.9,278.4 L355.5,277.8 L358.1,278.0 L360.6,278.1 L363.2,277.7 L365.7,278.6 L368.2,278.2 L370.8,277.7 L373.3,278.2 L375.8,278.0 L378.4,277.8 L380.9,277.8 L383.4,278.1 L386.0,277.7 L388.5,278.1" fill="none" stroke="#4a0806" stroke-width="1.0" stroke-linejoin="round"/>
<path d="M388.3,252.0 L388.8,254.5 L388.8,257.0 L388.4,259.5 L388.9,262.1 L388.2,264.6 L388.2,267.1 L389.0,269.6 L388.3,272.1 L388.5,274.6 L388.4,277.2 L388.0,279.7 L388.0,282.2 L388.6,284.7 L388.2,287.2 L388.2,289.7 L388.0,292.3 L389.0,294.8 L388.1,297.3 L388.8,299.8 L388.9,302.3 L388.4,304.8 L388.2,307.4 L388.0,309.9 L388.6,312.4 L388.2,314.9 L389.0,317.4 L388.0,319.9 L388.7,322.5 L388.5,325.0 L388.9,327.5 L388.5,330.0" fill="none" stroke="#4a0806" stroke-width="1.0" stroke-linejoin="round"/>
<path d="M300.0,301.9 L296.8,300.8 L293.7,299.6 L290.9,298.6 L288.6,297.2 L286.7,294.9 L284.2,293.7 L281.9,292.1 L279.8,290.6 L277.2,289.9 L275.2,288.1 L272.7,287.3 L270.1,286.6 L268.0,285.0" fill="none" stroke="#4a0806" stroke-width="1.0" stroke-linejoin="round"/>
<path d="M293.1,170.2 L296.0,171.4 L298.8,172.9 L301.7,173.6 L304.5,173.8 L307.2,174.4 L309.9,174.6 L312.8,174.8 L314.8,176.3 L316.7,178.0 L319.2,178.7 L321.5,180.2 L323.0,182.3 L324.2,184.6 L325.7,186.7 L326.2,189.1 L326.6,191.8 L325.7,194.5 L326.2,197.2 L325.2,199.8 L325.0,202.6 L324.3,205.3 L323.8,208.0 L323.4,210.8" fill="none" stroke="#4a0806" stroke-width="1.0" stroke-linejoin="round"/>
<path d="M280.0,213.0 L282.7,212.6 L285.5,212.8 L288.2,212.0 L290.9,211.9 L293.8,212.8 L296.7,214.0 L299.6,215.6 L302.1,214.3 L304.7,214.2 L307.3,213.5 L310.0,213.2 L312.7,213.4 L315.3,212.2 L318.0,212.0 L320.7,211.2 L323.4,211.0 L326.0,211.0 L328.6,210.9 L331.2,211.4 L333.8,211.6 L336.4,212.2 L339.0,211.7 L341.6,211.2 L344.3,211.4 L346.9,210.8 L349.5,210.8 L352.3,211.1 L354.9,211.8 L357.5,212.7 L360.3,212.9" fill="none" stroke="#4a0806" stroke-width="1.0" stroke-linejoin="round"/>
<path d="M323.4,210.8 L324.0,213.3 L324.6,215.8 L324.3,218.4 L325.2,220.9 L325.5,223.4 L325.7,226.0 L326.2,228.6 L326.6,231.2 L327.8,233.6 L328.0,236.3 L328.7,238.8 L330.1,241.1 L330.9,243.6 L331.5,246.1 L331.5,248.7 L332.3,251.1 L332.6,253.7 L333.2,256.1 L334.1,258.5 L334.6,261.0 L335.3,263.4 L335.7,265.9 L335.2,268.5 L335.6,270.9 L335.8,273.4 L336.4,275.9" fill="none" stroke="#4a0806" stroke-width="1.0" stroke-linejoin="round"/>
<path d="M350.0,171.6 L350.2,174.2 L350.3,176.8 L350.4,179.3 L351.3,181.8 L351.6,184.3 L351.9,187.0 L350.8,189.6 L350.9,192.4 L349.8,195.0 L349.3,197.8 L349.4,200.5 L348.6,203.0 L348.2,205.6 L347.8,208.2 L347.3,210.8" fill="none" stroke="#4a0806" stroke-width="1.0" stroke-linejoin="round"/>
<path d="M358.5,212.9 L358.8,215.6 L359.2,218.2 L359.0,220.9 L359.9,223.4 L360.1,226.0 L360.3,228.6 L359.6,231.1 L358.9,233.6 L358.8,236.1 L358.0,238.6 L357.7,241.2 L358.6,244.1 L359.3,246.9 L358.9,249.9 L359.9,252.7 L360.4,255.6 L360.1,258.5 L359.6,261.3 L359.3,264.1 L358.9,266.8 L359.3,269.7 L359.1,272.5 L358.8,275.3 L358.1,278.1" fill="none" stroke="#4a0806" stroke-width="1.0" stroke-linejoin="round"/>
<path d="M380.0,171.3 L382.8,171.8 L385.5,172.4 L388.4,172.3 L391.1,173.1 L393.2,174.8 L395.4,176.3 L398.0,177.2 L400.0,179.1 L402.2,180.6 L404.8,181.7 L407.1,183.4 L409.8,184.2" fill="none" stroke="#4a0806" stroke-width="1.0" stroke-linejoin="round"/>
<path d="M413.5,150.0 L413.4,152.5 L413.2,155.0 L413.1,157.5 L413.1,160.0 L413.3,162.5 L412.4,164.9 L412.6,167.5 L412.4,170.0 L412.3,172.5 L411.6,174.9 L411.5,177.7 L410.9,180.5 L410.1,183.2 L409.5,186.0 L409.4,188.6 L410.0,191.1 L409.9,193.7 L409.5,196.3 L409.1,198.8 L408.7,201.4 L408.6,203.9 L408.4,206.6 L409.2,209.0 L409.6,211.5 L410.4,213.9 L410.8,216.4 L411.4,218.9 L411.6,221.4 L412.1,224.5 L412.8,227.6 L413.6,230.7 L412.6,233.5 L411.9,236.4 L410.4,239.0 L409.7,241.8 L407.3,243.6 L405.0,245.4 L403.0,247.6 L400.6,249.7 L398.1,250.1 L395.4,250.2 L392.9,250.9 L388.5,252.0" fill="none" stroke="#4a0806" stroke-width="1.0" stroke-linejoin="round"/>
<path d="M458.1,160.0 L456.4,162.1 L454.9,164.3 L453.4,166.5 L452.4,169.1 L450.2,171.1 L450.2,174.0 L449.5,176.7 L449.0,179.5 L448.4,182.4 L449.7,184.7 L450.2,187.3 L450.5,189.7 L449.2,192.5 L447.7,195.2 L446.6,198.2 L444.7,200.7 L444.3,203.3 L442.4,205.2 L441.5,207.5 L440.6,209.9 L438.8,211.7 L438.1,214.2 L437.0,216.4 L436.0,218.7 L435.2,221.1 L434.3,223.2 L436.0,226.6 L437.9,228.7 L440.7,229.4 L442.9,230.9 L445.3,232.2 L447.5,234.4 L450.3,235.6 L452.7,237.3 L455.3,238.9 L458.1,240.0 L460.6,241.1 L463.1,242.4 L465.6,243.7" fill="none" stroke="#4a0806" stroke-width="1.0" stroke-linejoin="round"/>
<path d="M450.7,182.1 L453.4,182.4 L456.0,182.0 L458.6,181.6 L461.1,181.1 L463.6,180.9 L466.4,180.8 L468.9,182.1 L471.6,182.5 L474.0,183.7 L476.7,184.2 L478.6,186.1 L480.5,187.9" fill="none" stroke="#4a0806" stroke-width="1.0" stroke-linejoin="round"/>
<path d="M433.9,223.2 L431.7,225.5 L428.9,226.9 L426.3,228.6 L424.4,230.4 L422.8,232.5 L420.8,234.3 L419.2,236.3 L417.2,238.1 L415.1,240.3 L412.4,241.7 L410.2,243.6 L408.0,245.8 L405.5,246.9 L402.9,247.9 L400.5,249.3" fill="none" stroke="#4a0806" stroke-width="1.0" stroke-linejoin="round"/>
<path d="M279.9,152.3 L282.2,153.8 L284.2,155.6 L286.8,156.7 L288.5,158.8 L289.7,161.3 L290.3,163.9 L291.6,166.4 L292.3,169.1 L293.0,171.7" fill="none" stroke="#4a0806" stroke-width="1.0" stroke-linejoin="round"/>
<path d="M417.7,104.4 L417.5,107.0 L417.7,109.5 L417.5,112.1 L417.3,114.7 L417.3,117.2 L417.6,119.8 L417.5,122.3 L417.7,124.9 L417.1,127.5 L417.6,130.0 L417.0,132.6 L417.8,135.2 L417.9,137.7 L417.5,140.3 L417.5,142.8 L417.2,145.2 L415.2,147.5 L413.5,150.0" fill="none" stroke="#4a0806" stroke-width="1.0" stroke-linejoin="round"/>
<path d="M417.4,145.4 L420.0,145.8 L422.6,144.9 L425.3,145.2 L427.9,145.9 L430.5,145.6 L433.1,145.0 L435.8,145.2 L438.4,145.8 L441.0,145.3 L443.6,144.9 L446.3,145.8 L448.9,145.0 L451.5,145.5 L454.1,145.5 L456.8,145.4 L459.4,145.9 L462.0,145.4" fill="none" stroke="#4a0806" stroke-width="1.0" stroke-linejoin="round"/>
<path d="M462.1,145.4 L461.8,148.2 L461.4,150.9 L460.2,153.5 L460.0,156.3 L459.5,158.8 L458.1,160.0" fill="none" stroke="#4a0806" stroke-width="1.0" stroke-linejoin="round"/>
<path d="M462.1,145.4 L462.6,142.5 L463.8,139.8 L464.7,137.1 L466.2,134.5 L467.1,131.8 L469.0,129.9 L470.0,127.3 L472.0,125.5" fill="none" stroke="#4a0806" stroke-width="1.0" stroke-linejoin="round"/>
<path d="M410.2,81.6 L412.1,83.5 L414.6,84.3 L416.6,85.9 L418.7,87.3 L420.9,88.8 L423.5,89.6 L426.0,90.7 L428.7,91.4 L431.0,92.9 L433.6,94.7 L435.8,96.9 L438.5,98.4 L440.9,100.4 L443.5,101.9 L446.1,103.4 L448.1,105.7 L450.6,107.4 L453.0,108.9 L455.3,110.4 L457.1,112.5 L459.2,114.2 L461.8,116.3 L464.7,117.9 L467.5,119.7 L469.7,122.6 L472.0,125.5" fill="none" stroke="#4a0806" stroke-width="1.0" stroke-linejoin="round"/>
<path d="M356.8,46.2 L357.2,49.3 L357.3,52.5 L358.5,55.3 L360.0,58.0 L361.7,60.5 L363.1,63.0 L365.7,64.4 L368.2,66.1 L370.6,67.9 L373.7,69.5" fill="none" stroke="#4a0806" stroke-width="1.0" stroke-linejoin="round"/>
<path d="M325.9,72.4 L328.0,74.9 L330.4,76.8 L334.9,78.7 L337.1,76.9 L339.1,75.7 L339.4,72.6 L339.5,69.1 L344.5,67.8 L345.6,71.1 L347.0,74.0 L347.3,77.3 L350.0,79.3 L351.9,82.2 L354.5,83.6 L357.3,84.7 L359.7,86.8 L362.3,87.2 L365.0,87.2 L367.5,88.0 L370.7,87.5 L373.7,86.5" fill="none" stroke="#4a0806" stroke-width="1.0" stroke-linejoin="round"/>
<path d="M302.5,99.3 L305.1,98.4 L307.9,98.2 L310.6,98.1 L313.4,97.1 L315.9,97.9 L318.4,98.5 L321.0,99.3 L323.7,98.4 L326.4,98.5 L329.2,98.7 L331.7,99.1 L334.7,101.8 L333.8,105.3 L331.6,108.5 L334.2,110.6 L336.2,113.3 L338.6,114.8 L341.3,115.6 L344.2,117.2 L347.4,117.5 L349.8,116.5 L352.4,116.2 L354.7,115.2 L357.4,115.3 L359.8,114.4 L362.4,113.6 L365.2,113.4 L367.9,113.3 L370.8,113.1 L372.5,111.2 L374.5,109.5 L376.7,108.1 L379.7,106.3 L383.0,104.9 L385.8,105.5 L388.7,104.8 L391.5,104.9 L394.3,105.3 L397.2,104.7 L400.0,104.6 L402.9,104.6 L405.8,104.9 L408.7,104.9 L411.6,104.8 L414.5,104.1 L417.4,104.4" fill="none" stroke="#4a0806" stroke-width="1.0" stroke-linejoin="round"/>
<path d="M341.3,116.0 L341.8,118.6 L342.2,121.1 L342.9,123.7 L343.2,126.8 L343.9,129.9 L344.8,133.1 L344.0,136.5 L343.9,140.2 L343.0,142.6 L342.0,145.1 L340.4,147.3 L340.0,150.0 L339.0,152.5 L337.6,154.8 L336.6,157.4 L336.0,160.0" fill="none" stroke="#4a0806" stroke-width="1.0" stroke-linejoin="round"/>
<path d="M370.6,112.9 L370.5,115.5 L369.4,118.0 L369.3,120.6 L369.0,123.8 L370.2,126.8 L370.0,129.9 L370.9,133.0 L370.4,135.9 L370.7,138.7 L371.7,141.5 L371.4,144.3 L372.0,147.1 L372.0,150.0 L372.0,152.7 L373.1,155.2 L373.4,157.8 L373.9,160.4 L374.3,163.1 L374.3,165.7 L375.0,168.3 L375.0,171.0" fill="none" stroke="#4a0806" stroke-width="1.0" stroke-linejoin="round"/>
<path d="M472.2,168.6 L474.5,170.0 L477.1,170.8 L479.3,172.4 L481.9,173.2 L484.5,173.9 L487.0,174.9 L489.3,176.4" fill="none" stroke="#4a0806" stroke-width="1.0" stroke-linejoin="round"/>
<path d="M516.6,131.7 L516.2,134.3 L515.2,136.7 L514.9,139.3 L514.0,141.7" fill="none" stroke="#4a0806" stroke-width="1.0" stroke-linejoin="round"/>
<path d="M185.8,451.0 L186.7,454.9 L187.5,458.7 L189.9,461.6 L191.9,464.6 L195.2,466.8 L195.6,470.2 L197.2,473.0 L199.8,475.7 L198.4,479.0 L200.8,481.7 L196.9,485.3 L197.3,488.3 L200.6,490.9 L201.1,493.9 L199.3,497.2 L202.4,499.7 L203.1,502.7 L203.7,505.7 L203.5,508.9 L202.8,512.1 L201.9,515.7 L206.2,517.6 L203.8,521.6 L206.5,524.1 L205.9,527.6 L207.2,530.5 L211.2,532.5 L210.0,536.2 L213.4,538.4 L214.9,541.2 L214.1,544.8 L213.4,548.4 L215.4,551.1 L218.0,553.6 L216.0,557.5 L216.6,560.6 L220.6,562.5 L220.8,565.9 L221.6,569.3 L222.1,572.9 L226.7,573.7 L228.3,578.2 L230.8,582.8 L235.8,584.5 L239.0,586.5 L242.8,587.0" fill="none" stroke="#1a1a1a" stroke-width="1.2" stroke-linejoin="round"/>
<path d="M189.3,453.5 L193.0,455.4 L192.2,460.6 L194.4,463.5 L198.3,465.2 L199.6,468.6 L203.1,471.1 L203.5,474.1 L203.6,477.1 L202.1,480.4 L204.9,483.1 L201.7,486.6 L206.3,489.1 L206.1,492.1 L206.9,495.1 L204.0,498.5 L206.3,501.2 L206.2,504.3 L207.3,507.2 L206.2,510.4 L207.8,513.2 L209.5,515.9 L209.4,519.2 L210.9,522.0 L212.7,524.6 L210.6,528.9 L212.5,531.6 L213.7,534.6 L214.0,538.0 L217.4,540.1 L218.6,543.1 L219.7,546.2 L220.9,549.1 L220.8,552.6 L224.9,554.5 L223.9,558.2 L224.6,561.4 L226.4,564.0 L229.1,566.3 L227.6,570.7 L232.1,572.1 L231.5,576.5 L236.0,578.1 L239.2,580.5 L241.0,582.5 L242.4,585.3" fill="none" stroke="#1a1a1a" stroke-width="1.2" stroke-linejoin="round"/>
<path d="M196.3,453.6 L196.8,457.9 L200.7,459.7 L200.7,464.2 L203.2,466.9 L206.3,469.5 L205.9,472.7 L206.6,475.7 L209.6,478.2 L207.8,481.6 L207.9,484.7 L208.7,487.6 L207.2,490.8 L208.2,493.7 L210.2,496.5 L211.3,499.5 L211.9,502.5 L208.8,505.7 L209.6,508.7 L210.2,511.7 L211.6,514.5 L212.3,517.6 L214.5,520.2 L214.0,523.7 L216.8,525.9 L216.1,529.8 L217.5,532.9 L218.7,536.0 L222.0,538.1 L224.1,540.8 L224.4,544.3 L224.3,548.0 L226.4,550.6 L226.5,554.0 L229.2,556.5 L230.5,559.4 L229.2,563.2 L233.6,565.0 L234.7,568.0 L234.3,571.8 L235.6,574.9 L238.4,577.4 L240.4,580.8 L243.6,583.4 L245.2,585.8 L247.8,586.6" fill="none" stroke="#1a1a1a" stroke-width="1.2" stroke-linejoin="round"/>
<path d="M198.5,457.3 L202.8,458.8 L204.0,462.5 L206.0,465.5 L210.2,467.2 L212.7,470.5 L210.7,474.0 L213.6,476.6 L212.9,479.8 L211.0,483.2 L211.5,486.0 L215.4,488.7 L215.8,491.7 L215.4,494.8 L212.8,498.0 L216.8,500.9 L215.8,503.9 L216.3,506.9 L216.2,509.8 L214.5,512.9 L216.9,515.5 L216.8,518.8 L216.2,522.2 L217.3,525.4 L220.2,527.7 L220.2,531.5 L222.7,534.1 L223.2,537.7 L227.3,539.3 L228.4,542.6 L229.2,546.1 L229.1,549.8 L231.9,552.1 L233.9,554.8 L236.3,557.4 L237.4,560.6 L238.7,563.4 L236.3,567.7 L237.9,570.6 L239.1,573.7 L242.0,576.0 L243.1,579.4 L246.5,581.2 L248.9,584.8 L252.4,587.9" fill="none" stroke="#1a1a1a" stroke-width="1.2" stroke-linejoin="round"/>
<path d="M204.0,458.6 L206.7,461.2 L209.3,463.8 L213.4,465.5 L215.2,468.9 L214.4,472.4 L214.6,475.5 L218.9,477.7 L218.8,480.9 L216.0,484.4 L220.0,487.1 L217.6,490.2 L219.4,493.1 L218.0,496.2 L217.2,499.1 L218.4,502.2 L219.1,505.2 L219.2,508.3 L217.5,511.3 L218.1,514.4 L220.0,517.1 L220.7,520.2 L221.3,523.3 L223.7,525.6 L225.8,528.4 L226.0,532.4 L229.8,534.2 L229.6,538.4 L230.6,542.0 L232.3,545.0 L236.6,546.6 L237.5,550.0 L236.8,554.1 L240.7,555.9 L239.4,560.0 L244.1,561.7 L242.2,565.7 L246.8,567.5 L245.0,571.5 L245.5,574.7 L247.9,577.3 L248.7,580.5 L249.5,584.5 L253.5,586.2" fill="none" stroke="#1a1a1a" stroke-width="1.2" stroke-linejoin="round"/>
<path d="M202.3,494.5 L204.7,497.3 L201.3,498.5 L200.4,495.7 L202.3,494.5" fill="none" stroke="#1a1a1a" stroke-width="1.0" stroke-linejoin="round"/>
<path d="M197.8,458.2 L200.6,456.7 L201.8,460.9 L199.3,462.1 L197.8,458.2" fill="none" stroke="#1a1a1a" stroke-width="1.0" stroke-linejoin="round"/>
<path d="M221.2,565.4 L221.8,564.0 L223.0,562.8 L224.3,564.2 L223.6,566.0 L221.2,565.4" fill="none" stroke="#1a1a1a" stroke-width="1.0" stroke-linejoin="round"/>
<path d="M233.5,561.3 L235.2,559.6 L236.0,560.6 L237.4,561.8 L236.0,562.2 L234.5,563.1 L233.5,561.3" fill="none" stroke="#1a1a1a" stroke-width="1.0" stroke-linejoin="round"/>
<path d="M222.8,530.3 L224.3,528.7 L225.5,530.3 L224.8,532.1 L224.1,533.5 L222.3,531.6 L222.8,530.3" fill="none" stroke="#1a1a1a" stroke-width="1.0" stroke-linejoin="round"/>
<path d="M212.4,506.0 L212.4,505.2 L212.3,504.6 L213.4,504.3 L213.6,504.8 L213.8,505.5 L213.3,506.3 L212.4,506.0" fill="none" stroke="#1a1a1a" stroke-width="1.0" stroke-linejoin="round"/>
<path d="M238.7,549.1 L238.7,550.4 L237.5,552.0 L236.2,550.1 L235.4,549.1 L236.3,546.5 L238.5,547.4 L238.7,549.1" fill="none" stroke="#1a1a1a" stroke-width="1.0" stroke-linejoin="round"/>
<path d="M222.7,537.8 L222.6,537.1 L222.8,536.3 L223.7,536.2 L224.0,537.0 L224.3,538.3 L223.4,537.8 L222.7,537.8" fill="none" stroke="#1a1a1a" stroke-width="1.0" stroke-linejoin="round"/>
<path d="M202.9,480.0 L204.8,477.4 L206.5,480.0 L205.6,482.4 L204.3,482.8 L202.2,481.6 L202.9,480.0" fill="none" stroke="#1a1a1a" stroke-width="1.0" stroke-linejoin="round"/>
<path d="M217.1,478.4 L217.9,480.4 L216.9,482.7 L215.7,480.3 L217.1,478.4" fill="none" stroke="#1a1a1a" stroke-width="1.0" stroke-linejoin="round"/>
<path d="M215.9,524.1 L216.4,526.8 L215.4,527.7 L214.1,527.6 L213.6,525.1 L215.9,524.1" fill="none" stroke="#1a1a1a" stroke-width="1.0" stroke-linejoin="round"/>
<path d="M244.6,583.5 L243.7,585.2 L241.9,587.0 L238.5,585.1 L240.4,581.8 L243.2,582.6 L244.6,583.5" fill="none" stroke="#1a1a1a" stroke-width="1.0" stroke-linejoin="round"/>
<path d="M230.4,543.6 L231.1,540.2 L234.7,541.7 L233.9,544.9 L231.4,544.6 L230.4,543.6" fill="none" stroke="#1a1a1a" stroke-width="1.0" stroke-linejoin="round"/>
<path d="M195.6,467.9 L199.4,468.0 L200.7,469.6 L198.7,472.8 L196.6,471.4 L195.6,467.9" fill="none" stroke="#1a1a1a" stroke-width="1.0" stroke-linejoin="round"/>
<path d="M216.8,471.4 L216.2,472.3 L214.7,472.0 L215.5,470.0 L216.9,469.8 L216.8,471.4" fill="none" stroke="#1a1a1a" stroke-width="1.0" stroke-linejoin="round"/>
<path d="M229.1,564.3 L231.3,562.9 L232.6,563.1 L232.7,566.3 L230.1,566.8 L229.1,564.3" fill="none" stroke="#1a1a1a" stroke-width="1.0" stroke-linejoin="round"/>
<path d="M210.3,496.1 L210.2,497.8 L208.2,497.6 L207.6,496.3 L210.3,496.1" fill="none" stroke="#1a1a1a" stroke-width="1.0" stroke-linejoin="round"/>
<path d="M218.5,494.9 L220.8,494.9 L221.4,498.6 L218.4,498.4 L217.0,497.1 L218.5,494.9" fill="none" stroke="#1a1a1a" stroke-width="1.0" stroke-linejoin="round"/>
<path d="M222.6,568.9 L222.4,568.2 L222.6,567.0 L223.1,566.5 L223.9,567.4 L223.8,568.1 L223.9,568.5 L222.6,568.9" fill="none" stroke="#1a1a1a" stroke-width="1.0" stroke-linejoin="round"/>
<path d="M228.1,576.0 L225.9,575.2 L225.4,573.1 L227.1,571.8 L229.0,573.9 L228.1,576.0" fill="none" stroke="#1a1a1a" stroke-width="1.0" stroke-linejoin="round"/>
<path d="M214.1,498.6 L210.1,498.5 L210.8,495.9 L212.7,495.9 L214.1,498.6" fill="none" stroke="#1a1a1a" stroke-width="1.0" stroke-linejoin="round"/>
<path d="M238.8,566.4 L238.7,564.3 L240.6,562.1 L241.9,563.3 L242.2,565.6 L240.8,566.7 L238.8,566.4" fill="none" stroke="#1a1a1a" stroke-width="1.0" stroke-linejoin="round"/>
<path d="M212.2,536.4 L212.7,534.9 L214.1,535.5 L213.6,536.7 L212.2,536.4" fill="none" stroke="#1a1a1a" stroke-width="1.0" stroke-linejoin="round"/>
<path d="M195.7,473.6 L197.0,472.7 L197.6,473.9 L198.1,474.7 L196.5,475.6 L194.6,474.6 L195.7,473.6" fill="none" stroke="#1a1a1a" stroke-width="1.0" stroke-linejoin="round"/>
<path d="M205.6,483.3 L208.0,484.3 L208.3,485.4 L208.2,487.5 L207.3,487.2 L204.6,488.4 L203.9,485.8 L205.6,483.3" fill="none" stroke="#1a1a1a" stroke-width="1.0" stroke-linejoin="round"/>
<path d="M230.6,539.6 L227.4,539.5 L227.4,537.6 L229.3,537.4 L230.6,539.6" fill="none" stroke="#1a1a1a" stroke-width="1.0" stroke-linejoin="round"/>
<path d="M206.5,515.7 L204.4,514.1 L204.3,512.3 L206.3,511.7 L208.7,512.9 L208.2,514.2 L206.5,515.7" fill="none" stroke="#1a1a1a" stroke-width="1.0" stroke-linejoin="round"/>
<path d="M200.9,506.0 L201.6,506.6 L202.6,506.8 L202.0,508.1 L200.9,508.1 L200.5,507.4 L200.9,506.0" fill="none" stroke="#1a1a1a" stroke-width="1.0" stroke-linejoin="round"/>
<path d="M212.4,470.6 L214.4,470.3 L215.9,472.4 L214.4,474.1 L211.6,474.6 L210.0,472.5 L211.8,471.3 L212.4,470.6" fill="none" stroke="#1a1a1a" stroke-width="1.0" stroke-linejoin="round"/>
<path d="M199.5,499.6 L203.3,501.0 L203.9,504.1 L199.7,503.6 L199.5,499.6" fill="none" stroke="#1a1a1a" stroke-width="1.0" stroke-linejoin="round"/>
<path d="M213.7,541.5 L215.5,542.7 L214.2,544.7 L211.3,544.1 L209.1,543.3 L211.8,540.9 L213.7,541.5" fill="none" stroke="#1a1a1a" stroke-width="1.0" stroke-linejoin="round"/>
<path d="M208.6,478.3 L209.6,477.0 L210.0,479.1 L210.3,480.7 L208.9,480.8 L207.2,480.1 L208.6,478.3" fill="none" stroke="#1a1a1a" stroke-width="1.0" stroke-linejoin="round"/>
<path d="M212.8,527.9 L212.7,528.7 L211.5,528.5 L210.2,528.0 L210.7,527.4 L211.6,526.1 L212.2,526.7 L212.8,527.9" fill="none" stroke="#1a1a1a" stroke-width="1.0" stroke-linejoin="round"/>
<path d="M216.8,522.2 L219.7,518.9 L222.3,521.0 L222.5,523.4 L219.5,523.4 L216.8,522.2" fill="none" stroke="#1a1a1a" stroke-width="1.0" stroke-linejoin="round"/>
<path d="M207.3,499.1 L205.4,498.9 L204.4,498.5 L203.2,497.2 L205.1,496.4 L206.2,497.1 L206.4,497.4 L207.3,499.1" fill="none" stroke="#1a1a1a" stroke-width="1.0" stroke-linejoin="round"/>
<path d="M217.0,492.1 L216.5,490.6 L218.1,489.6 L219.2,490.6 L219.2,492.0 L217.9,493.5 L217.0,492.1" fill="none" stroke="#1a1a1a" stroke-width="1.0" stroke-linejoin="round"/>
<path d="M210.4,508.8 L211.7,507.8 L212.5,507.9 L213.7,508.6 L212.8,509.4 L211.6,510.0 L210.4,508.8" fill="none" stroke="#1a1a1a" stroke-width="1.0" stroke-linejoin="round"/>
<path d="M206.5,468.3 L207.0,467.6 L208.1,467.9 L208.1,468.4 L208.1,469.2 L207.3,469.2 L207.1,469.4 L206.5,468.3" fill="none" stroke="#1a1a1a" stroke-width="1.0" stroke-linejoin="round"/>
<path d="M214.3,505.7 L212.5,504.8 L214.0,503.5 L215.6,504.1 L215.6,504.9 L215.2,505.9 L214.3,505.7" fill="none" stroke="#1a1a1a" stroke-width="1.0" stroke-linejoin="round"/>
<path d="M251.2,586.1 L247.0,586.4 L247.7,582.7 L252.3,580.9 L251.2,586.1" fill="none" stroke="#1a1a1a" stroke-width="1.0" stroke-linejoin="round"/>
<path d="M213.6,527.6 L212.4,525.3 L213.1,522.4 L216.0,524.7 L213.6,527.6" fill="none" stroke="#1a1a1a" stroke-width="1.0" stroke-linejoin="round"/>
<path d="M215.7,558.7 L216.9,558.4 L217.1,559.7 L215.8,560.0 L215.7,558.7" fill="none" stroke="#1a1a1a" stroke-width="1.0" stroke-linejoin="round"/>
<path d="M216.3,532.5 L215.1,534.0 L213.3,532.4 L215.3,531.5 L216.3,532.5" fill="none" stroke="#1a1a1a" stroke-width="1.0" stroke-linejoin="round"/>
<path d="M248.6,586.3 L247.1,584.9 L247.4,583.3 L249.3,583.9 L248.6,586.3" fill="none" stroke="#1a1a1a" stroke-width="1.0" stroke-linejoin="round"/>
<path d="M223.3,549.5 L223.8,551.9 L222.3,553.4 L221.6,550.8 L223.3,549.5" fill="none" stroke="#1a1a1a" stroke-width="1.0" stroke-linejoin="round"/>
<path d="M220.1,555.2 L223.2,555.6 L225.6,554.4 L224.5,557.2 L224.5,559.2 L221.6,558.5 L220.6,557.7 L220.1,555.2" fill="none" stroke="#1a1a1a" stroke-width="1.0" stroke-linejoin="round"/>
<path d="M200.5,496.8 L199.4,495.3 L200.6,494.4 L201.6,495.0 L201.3,495.7 L200.5,496.8" fill="none" stroke="#1a1a1a" stroke-width="1.0" stroke-linejoin="round"/>
<path d="M202.0,489.7 L206.7,488.6 L208.8,491.2 L204.1,492.3 L202.0,489.7" fill="none" stroke="#1a1a1a" stroke-width="1.0" stroke-linejoin="round"/>
<path d="M215.2,527.1 L214.8,527.4 L213.5,527.4 L211.6,527.0 L212.2,525.4 L213.8,525.6 L215.7,525.6 L215.2,527.1" fill="none" stroke="#1a1a1a" stroke-width="1.0" stroke-linejoin="round"/>
<path d="M212.5,489.8 L211.0,488.7 L212.5,486.6 L213.3,486.3 L214.5,487.7 L214.5,489.9 L212.5,489.8" fill="none" stroke="#1a1a1a" stroke-width="1.0" stroke-linejoin="round"/>
<path d="M222.1,562.0 L223.7,565.1 L220.9,565.9 L219.9,563.6 L222.1,562.0" fill="none" stroke="#1a1a1a" stroke-width="1.0" stroke-linejoin="round"/>
<path d="M191.8,464.2 L192.2,462.0 L194.9,461.7 L195.4,463.0 L194.6,465.0 L191.8,464.2" fill="none" stroke="#1a1a1a" stroke-width="1.0" stroke-linejoin="round"/>
<path d="M254.4,589.2 L254.4,587.2 L256.3,587.7 L257.4,588.5 L255.9,589.5 L254.4,589.2" fill="none" stroke="#1a1a1a" stroke-width="1.0" stroke-linejoin="round"/>
<path d="M219.7,555.9 L218.8,554.1 L219.0,553.1 L220.4,552.4 L220.4,554.2 L219.7,555.9" fill="none" stroke="#1a1a1a" stroke-width="1.0" stroke-linejoin="round"/>
<path d="M188.2,456.1 L188.0,457.5 L186.2,461.2 L183.4,458.6 L184.6,454.2 L188.2,456.1" fill="none" stroke="#1a1a1a" stroke-width="1.0" stroke-linejoin="round"/>
<path d="M208.6,515.7 L205.4,515.6 L205.3,513.0 L207.5,511.8 L208.6,515.7" fill="none" stroke="#1a1a1a" stroke-width="1.0" stroke-linejoin="round"/>
<path d="M214.5,542.5 L214.8,541.7 L215.2,541.0 L216.0,541.2 L216.3,542.2 L215.3,543.1 L214.5,542.5" fill="none" stroke="#1a1a1a" stroke-width="1.0" stroke-linejoin="round"/>
<path d="M204.4,508.7 L202.0,505.6 L205.6,503.2 L208.9,505.3 L207.7,508.2 L205.5,509.5 L204.4,508.7" fill="none" stroke="#1a1a1a" stroke-width="1.0" stroke-linejoin="round"/>
<path d="M197.2,473.7 L197.1,472.7 L198.3,473.0 L199.1,473.4 L198.7,474.1 L197.7,474.7 L197.2,473.7" fill="none" stroke="#1a1a1a" stroke-width="1.0" stroke-linejoin="round"/>
<path d="M230.1,580.6 L228.2,579.7 L230.3,577.6 L231.8,578.4 L232.8,581.3 L230.1,580.6" fill="none" stroke="#1a1a1a" stroke-width="1.0" stroke-linejoin="round"/>
<path d="M229.8,539.1 L231.0,540.8 L229.4,541.6 L227.8,541.5 L227.0,539.6 L229.8,539.1" fill="none" stroke="#1a1a1a" stroke-width="1.0" stroke-linejoin="round"/>
<path d="M221.9,530.3 L220.8,530.4 L220.2,529.9 L220.4,528.8 L221.3,528.7 L221.5,529.3 L221.9,530.3" fill="none" stroke="#1a1a1a" stroke-width="1.0" stroke-linejoin="round"/>
<path d="M209.3,517.7 L208.8,519.3 L209.1,521.8 L207.4,522.4 L206.7,520.3 L204.2,519.0 L206.6,518.4 L209.3,517.7" fill="none" stroke="#1a1a1a" stroke-width="1.0" stroke-linejoin="round"/>
<path d="M239.3,556.2 L238.6,557.0 L237.1,557.2 L237.0,553.7 L239.5,553.4 L239.3,556.2" fill="none" stroke="#1a1a1a" stroke-width="1.0" stroke-linejoin="round"/>
<path d="M221.4,553.1 L217.8,552.8 L216.8,551.7 L218.4,550.0 L220.5,549.7 L220.5,551.4 L221.4,553.1" fill="none" stroke="#1a1a1a" stroke-width="1.0" stroke-linejoin="round"/>
<path d="M217.0,475.3 L214.6,476.7 L213.7,475.2 L213.5,472.8 L215.3,473.0 L218.1,472.5 L217.4,474.7 L217.0,475.3" fill="none" stroke="#1a1a1a" stroke-width="1.0" stroke-linejoin="round"/>
<path d="M218.5,489.8 L216.7,488.6 L218.2,486.7 L219.8,485.8 L222.0,488.5 L220.6,490.8 L218.5,489.8" fill="none" stroke="#1a1a1a" stroke-width="1.0" stroke-linejoin="round"/>
<path d="M219.5,555.5 L219.3,554.5 L220.4,554.4 L221.5,554.1 L222.2,555.0 L221.5,556.0 L220.5,556.4 L219.5,555.5" fill="none" stroke="#1a1a1a" stroke-width="1.0" stroke-linejoin="round"/>
<path d="M222.7,565.9 L223.4,565.7 L223.5,567.2 L222.4,566.8 L221.6,566.3 L222.7,565.9" fill="none" stroke="#1a1a1a" stroke-width="1.0" stroke-linejoin="round"/>
<path d="M219.9,535.1 L218.2,535.3 L218.4,533.9 L218.6,533.3 L220.8,531.2 L221.0,533.8 L221.7,535.4 L219.9,535.1" fill="none" stroke="#1a1a1a" stroke-width="1.0" stroke-linejoin="round"/>
<path d="M229.6,541.3 L228.5,541.8 L227.2,541.2 L227.2,539.8 L228.2,539.0 L228.9,539.3 L229.6,541.3" fill="none" stroke="#1a1a1a" stroke-width="1.0" stroke-linejoin="round"/>
<path d="M211.2,486.9 L212.2,487.0 L212.6,488.3 L211.8,489.8 L210.9,489.3 L210.9,487.8 L211.2,486.9" fill="none" stroke="#1a1a1a" stroke-width="1.0" stroke-linejoin="round"/>
<path d="M214.1,487.4 L211.8,487.6 L209.3,483.9 L211.9,481.9 L215.0,482.4 L214.5,484.8 L214.1,487.4" fill="none" stroke="#1a1a1a" stroke-width="1.0" stroke-linejoin="round"/>
<path d="M236.0,585.7 L236.9,583.2 L238.6,581.0 L239.8,583.7 L239.4,585.0 L236.0,585.7" fill="none" stroke="#1a1a1a" stroke-width="1.0" stroke-linejoin="round"/>
<path d="M208.7,470.0 L209.6,471.0 L208.8,472.6 L208.2,471.2 L208.7,470.0" fill="none" stroke="#1a1a1a" stroke-width="1.0" stroke-linejoin="round"/>
<path d="M248.4,579.9 L246.8,579.0 L247.7,577.3 L248.6,577.1 L248.9,578.2 L248.4,579.9" fill="none" stroke="#1a1a1a" stroke-width="1.0" stroke-linejoin="round"/>
<path d="M218.1,541.3 L217.8,542.4 L216.2,543.1 L215.4,540.9 L216.3,540.5 L217.9,540.0 L218.1,541.3" fill="none" stroke="#1a1a1a" stroke-width="1.0" stroke-linejoin="round"/>
<path d="M224.5,556.3 L226.6,557.6 L226.9,559.8 L224.0,559.7 L223.3,558.6 L224.5,556.3" fill="none" stroke="#1a1a1a" stroke-width="1.0" stroke-linejoin="round"/>
<path d="M235.4,547.1 L233.9,550.6 L231.7,549.8 L231.1,549.1 L230.1,546.0 L233.8,545.0 L235.4,547.1" fill="none" stroke="#1a1a1a" stroke-width="1.0" stroke-linejoin="round"/>
<path d="M200.5,465.8 L200.7,466.6 L199.7,467.4 L198.9,467.1 L197.6,466.7 L198.0,466.0 L199.3,465.1 L200.5,465.8" fill="none" stroke="#1a1a1a" stroke-width="1.0" stroke-linejoin="round"/>
<path d="M210.5,533.9 L210.7,536.3 L208.9,537.0 L207.8,535.9 L208.0,533.3 L210.5,533.9" fill="none" stroke="#1a1a1a" stroke-width="1.0" stroke-linejoin="round"/>
<path d="M208.3,519.1 L211.3,521.1 L210.2,524.6 L208.2,525.3 L205.3,521.9 L208.3,519.1" fill="none" stroke="#1a1a1a" stroke-width="1.0" stroke-linejoin="round"/>
<path d="M215.8,541.7 L216.2,542.7 L215.6,543.6 L214.5,543.1 L214.5,541.9 L215.8,541.7" fill="none" stroke="#1a1a1a" stroke-width="1.0" stroke-linejoin="round"/>
<path d="M226.2,548.1 L225.2,549.0 L223.6,550.2 L222.4,548.5 L222.2,546.3 L224.5,544.6 L226.5,546.1 L226.2,548.1" fill="none" stroke="#1a1a1a" stroke-width="1.0" stroke-linejoin="round"/>
<path d="M200.3,484.1 L199.7,484.0 L199.6,482.8 L200.7,482.5 L201.6,482.6 L201.8,483.8 L201.6,484.2 L200.3,484.1" fill="none" stroke="#1a1a1a" stroke-width="1.0" stroke-linejoin="round"/>
<path d="M229.2,541.7 L229.5,543.0 L229.4,543.4 L227.7,544.3 L226.9,542.5 L227.3,541.8 L228.7,540.9 L229.2,541.7" fill="none" stroke="#1a1a1a" stroke-width="1.0" stroke-linejoin="round"/>
<path d="M212.7,500.0 L212.2,498.5 L214.8,498.0 L216.1,499.3 L215.1,500.9 L212.7,500.0" fill="none" stroke="#1a1a1a" stroke-width="1.0" stroke-linejoin="round"/>
<path d="M221.0,550.5 L219.1,548.3 L220.7,547.0 L222.1,547.1 L222.0,549.5 L221.0,550.5" fill="none" stroke="#1a1a1a" stroke-width="1.0" stroke-linejoin="round"/>
<path d="M208.4,481.2 L207.0,477.9 L210.0,476.2 L211.3,477.7 L211.1,481.3 L208.4,481.2" fill="none" stroke="#1a1a1a" stroke-width="1.0" stroke-linejoin="round"/>
<path d="M205.1,487.2 L206.5,487.8 L207.3,488.7 L206.8,489.9 L205.7,491.0 L205.0,489.6 L204.5,488.7 L205.1,487.2" fill="none" stroke="#1a1a1a" stroke-width="1.0" stroke-linejoin="round"/>
<path d="M244.1,584.3 L246.6,582.9 L249.0,581.2 L252.0,581.5 L254.4,583.2 L257.0,582.3 L259.5,583.0 L262.3,582.0 L264.6,583.5 L267.1,584.1 L269.8,584.2 L272.1,585.2 L275.1,585.0 L277.9,587.6 L281.0,586.8 L284.0,587.0 L286.9,588.3 L289.9,588.6 L293.1,587.9 L295.5,588.0 L292.9,590.3 L290.1,590.6 L287.5,592.5 L285.0,592.1 L282.4,592.8 L280.1,590.4 L277.5,590.8 L275.1,590.1 L272.5,591.2 L270.1,589.4 L267.6,589.7 L265.1,589.4 L262.4,591.6 L260.2,589.0 L257.2,588.2 L254.1,588.3 L251.0,588.7 L248.3,587.7 L245.5,586.5 L244.0,584.0" fill="none" stroke="#1a1a1a" stroke-width="1.3" stroke-linejoin="round"/>
<path d="M248.0,585.7 L250.9,587.1 L254.0,586.5 L257.0,586.6 L260.1,586.2 L262.5,587.7 L265.0,586.6 L267.4,588.9 L270.1,586.9 L272.4,589.2 L275.2,586.8 L277.5,588.2 L280.0,588.8 L282.3,590.3 L284.9,590.4 L287.6,589.1 L290.0,590.0" fill="none" stroke="#1a1a1a" stroke-width="1.3" stroke-linejoin="round"/>
<path d="M245.9,589.4 L248.7,588.3 L251.3,588.5 L254.0,588.4 L256.7,587.7 L259.4,587.4 L262.0,588.7 L264.6,589.3 L267.1,590.4 L269.8,589.4 L272.1,591.5 L275.0,589.3 L277.4,591.2 L280.0,591.0" fill="none" stroke="#1a1a1a" stroke-width="1.3" stroke-linejoin="round"/>
<path d="M240.0,578.6 L242.5,581.4 L245.0,579.1 L247.5,581.5 L249.9,581.3 L253.1,579.5 L256.0,580.5 L259.0,580.4 L262.0,580.7 L264.5,582.4 L267.2,583.0 L270.1,581.8 L272.6,583.1 L275.2,584.0 L278.0,584.3 L280.8,583.3 L283.2,584.5 L285.7,585.3 L288.1,587.0 L290.7,587.1 L293.3,587.1 L296.0,587.0" fill="none" stroke="#1a1a1a" stroke-width="1.3" stroke-linejoin="round"/>
<path d="M221.6,559.0 L224.4,558.8 L227.4,559.0 L229.4,556.9 L232.5,555.4 L233.7,557.9 L236.3,558.5 L237.8,560.7 L240.7,562.4 L238.0,564.3 L238.5,567.9 L235.9,570.6 L233.8,568.2 L230.8,570.2 L228.4,568.8 L225.2,568.4 L224.3,565.5 L223.5,562.6 L222.0,560.0" fill="none" stroke="#1a1a1a" stroke-width="1.3" stroke-linejoin="round"/>
<path d="M235.7,571.1 L238.5,571.4 L240.9,570.8 L243.0,569.0 L245.3,567.9 L247.6,568.7 L250.3,569.8 L253.5,570.2 L255.4,572.7 L257.6,573.6 L255.6,575.6 L253.3,577.3 L252.0,578.6 L249.0,579.5 L246.0,578.6 L243.0,580.0 L239.4,580.3 L239.8,576.8 L236.7,575.0 L236.0,572.0" fill="none" stroke="#1a1a1a" stroke-width="1.3" stroke-linejoin="round"/>
<path d="M427.5,545.6 L428.5,542.7 L430.8,540.7 L432.9,538.1 L434.3,535.9 L438.9,535.2 L443.5,535.8 L446.6,534.0 L449.1,536.4 L452.0,535.8 L455.6,534.2 L456.7,535.8 L454.7,538.3 L453.2,541.7 L449.6,541.5 L447.4,543.3 L443.0,544.9 L439.5,547.7 L435.4,547.4 L433.4,548.2 L430.8,546.4 L427.5,545.6" fill="none" stroke="#1a1a1a" stroke-width="1.3" stroke-linejoin="round"/>
<path d="M460.7,537.1 L463.8,531.8 L466.9,533.6 L470.1,532.8 L473.1,534.2 L476.4,534.7 L479.5,535.7 L481.9,537.0 L482.8,539.0 L480.0,542.0 L476.0,541.1 L473.7,542.4 L471.3,543.6 L468.3,544.1 L467.4,546.1 L464.9,546.7 L462.5,547.7 L459.4,547.2 L457.0,549.0 L454.9,551.3 L452.3,549.5 L450.8,545.9 L452.6,543.6 L454.8,541.6 L458.2,541.5 L458.8,538.8 L460.0,536.3" fill="none" stroke="#1a1a1a" stroke-width="1.3" stroke-linejoin="round"/>
<path d="M464.9,536.6 L467.4,536.0 L469.9,535.9 L472.3,536.9 L474.3,536.6 L473.0,540.1 L470.0,540.8 L467.7,540.7 L465.0,537.0" fill="none" stroke="#1a1a1a" stroke-width="1.0" stroke-linejoin="round"/>
<path d="M430.1,544.5 L432.2,542.1 L435.3,543.4 L437.5,541.9 L439.9,540.6 L442.7,541.0 L445.2,540.0 L447.5,538.8 L450.0,538.0" fill="none" stroke="#1a1a1a" stroke-width="1.0" stroke-linejoin="round"/>
<path d="M456.1,545.9 L459.0,544.3 L462.4,545.3 L464.8,542.3 L468.0,542.0" fill="none" stroke="#1a1a1a" stroke-width="1.0" stroke-linejoin="round"/>
<path d="M206.0,379.0 L209.0,379.8 L213.2,379.7 L213.6,382.4 L213.1,385.4 L214.4,388.1 L213.2,390.8 L212.9,393.7 L210.5,395.2 L208.3,397.2 L206.0,399.0 L205.4,396.0 L203.9,393.2 L204.2,390.0 L205.1,387.6 L204.3,384.9 L204.7,382.3 L206.0,380.0" fill="none" stroke="#1a1a1a" stroke-width="1.0" stroke-linejoin="round"/>
<path d="M234.1,370.0 L231.3,372.5 L232.0,375.0 L231.7,377.5 L231.7,379.8 L231.9,383.0 L231.2,386.1 L232.3,389.7 L230.5,392.2 L229.1,394.8 L229.2,398.0 L228.3,400.8 L227.0,403.4 L227.6,406.2 L225.7,408.7 L225.2,411.4 L225.4,413.7 L227.8,415.5 L228.5,418.8 L230.7,419.9 L229.7,423.0 L227.3,424.9 L225.2,427.2 L223.5,429.6 L221.0,431.3 L221.4,434.4 L219.5,436.3 L218.2,438.7 L218.3,441.7 L216.8,444.2 L216.3,447.0 L215.4,449.5 L213.9,452.7 L211.0,454.4" fill="none" stroke="#1a1a1a" stroke-width="1.0" stroke-linejoin="round"/>
<path d="M200.0,441.8 L203.5,440.8 L207.2,439.9 L209.3,442.8 L211.5,446.5 L209.2,449.2 L205.8,451.7 L203.2,449.3 L199.6,449.0 L199.2,445.5 L200.0,442.0" fill="none" stroke="#1a1a1a" stroke-width="1.0" stroke-linejoin="round"/>
<path d="M204.7,399.8 L203.5,402.7 L204.7,405.9 L205.6,409.2 L202.9,411.8 L204.0,415.1 L201.7,417.8 L203.2,421.1 L201.7,423.9 L199.7,425.8 L201.5,429.7 L199.1,431.5 L197.6,433.8 L196.8,436.4 L193.2,437.6 L195.3,441.6 L192.6,443.3 L192.0,446.0 L191.3,448.9 L189.9,451.2 L185.6,451.5 L186.0,455.1 L184.0,457.0" fill="none" stroke="#1a1a1a" stroke-width="1.1" stroke-linejoin="round"/>
<path d="M427.4,545.4 L429.9,542.9 L433.3,541.4 L435.9,540.2 L438.0,538.3 L440.9,537.0 L444.0,537.0" fill="none" stroke="#1a1a1a" stroke-width="1.1" stroke-linejoin="round"/>
<path d="M431.3,548.6 L434.0,546.5 L436.5,544.1 L440.1,543.6 L442.7,541.4 L445.4,541.1 L448.2,541.2 L450.0,539.0" fill="none" stroke="#1a1a1a" stroke-width="1.1" stroke-linejoin="round"/>
<path d="M455.5,549.5 L457.5,547.5 L458.2,544.4 L461.3,543.6 L462.0,541.0" fill="none" stroke="#1a1a1a" stroke-width="1.1" stroke-linejoin="round"/>
<path d="M457.4,549.0 L460.0,547.7 L463.7,548.0 L464.6,545.0 L467.0,544.0" fill="none" stroke="#1a1a1a" stroke-width="1.1" stroke-linejoin="round"/>
<path d="M476.2,539.9 L478.4,538.2 L480.7,538.5 L484.0,540.0" fill="none" stroke="#1a1a1a" stroke-width="1.1" stroke-linejoin="round"/>
<path d="M463.1,535.7 L465.2,533.2 L468.1,533.5 L472.0,535.0" fill="none" stroke="#1a1a1a" stroke-width="1.1" stroke-linejoin="round"/>
<path d="M363.1,593.8 L365.6,593.7 L367.9,591.8 L370.5,592.1 L373.0,591.8 L375.5,591.1 L377.9,590.3 L381.0,590.5" fill="none" stroke="#1a1a1a" stroke-width="1.2" stroke-linejoin="round"/>
<path d="M363.9,593.9 L367.0,593.9 L370.1,594.3 L373.0,593.4 L376.0,593.0 L380.0,592.0" fill="none" stroke="#1a1a1a" stroke-width="1.2" stroke-linejoin="round"/>
<path d="M329.3,53.8 L330.0,51.3 L331.3,49.0 L333.1,47.4 L334.5,45.4 L336.7,44.7 L338.7,43.6 L340.6,42.6 L343.2,42.5 L345.5,43.8 L348.0,44.3 L350.4,45.4 L353.0,44.8 L356.1,46.1 L359.4,45.1 L361.6,46.9 L364.4,47.6 L367.2,49.0 L368.7,47.1 L370.7,46.1 L372.5,44.7 L374.8,44.4 L377.1,43.5 L379.4,42.6 L381.9,42.7 L384.3,42.7 L386.7,43.0 L389.1,43.7 L391.5,43.6 L394.0,44.1 L396.7,43.5 L398.1,45.6 L400.0,46.9 L402.1,47.7 L403.9,48.8 L405.4,50.8 L407.8,52.0 L408.9,54.2 L410.9,55.7 L411.7,58.3 L413.8,59.9 L416.1,61.3 L417.6,63.5 L419.1,65.6 L421.2,67.3 L423.3,68.1 L424.4,70.3 L426.9,70.7 L428.0,72.9 L429.7,74.4 L431.6,75.5 L433.4,77.1 L436.1,77.2 L438.7,77.4 L441.0,78.3 L443.4,79.3 L445.9,80.0 L448.3,80.2 L450.2,81.7 L452.8,81.2 L454.8,82.6 L457.3,82.8 L459.1,84.4 L460.6,86.4 L463.3,86.6 L464.6,88.9 L466.7,90.1 L468.9,90.8 L471.2,91.0 L473.0,92.5 L474.8,93.8 L477.3,94.1 L479.0,96.2 L481.1,97.8 L482.2,100.5 L483.8,101.8 L483.0,104.3 L482.4,106.8 L481.8,109.3 L480.9,111.8 L478.9,113.4 L477.1,115.1 L475.6,117.1 L475.0,119.5 L474.2,121.6 L473.3,123.6 L471.5,125.8 L473.7,127.1 L474.4,129.1 L476.9,129.7 L479.3,130.8 L481.9,130.2 L484.4,130.9 L486.7,132.1 L489.4,131.6 L491.9,132.2 L494.4,132.5 L496.7,134.3 L499.3,133.8 L501.8,134.2 L504.2,134.0 L506.7,134.9 L509.3,134.5 L511.7,133.5 L514.1,132.5 L516.5,131.4 L519.3,130.9 L521.3,128.7 L524.1,128.1 L525.7,126.2 L527.6,124.7 L529.6,123.3 L531.1,121.7 L532.4,119.4 L532.4,116.7 L533.1,114.2 L534.0,111.7 L534.7,109.1 L536.9,107.1 L537.7,104.4 L540.8,104.0 L543.7,103.5 L546.7,104.7 L548.3,107.0 L549.4,109.4 L549.6,111.8 L549.8,114.3 L549.8,116.8 L549.4,119.3 L549.9,121.9 L548.7,124.2 L549.0,126.9 L547.2,128.3 L544.9,128.8 L543.0,130.0 L541.3,131.2 L539.0,132.6 L536.3,132.4 L533.9,133.2 L531.1,133.7 L529.4,135.2 L527.4,136.1 L525.9,138.0 L523.8,138.9 L521.9,140.1 L520.3,141.6 L518.4,142.9 L516.7,144.2 L515.2,145.9 L514.8,148.2 L513.4,149.9 L512.6,152.1 L511.5,153.9 L510.4,156.2 L509.2,158.4 L507.0,159.9 L506.1,162.3 L504.3,164.1 L502.3,165.4 L501.3,167.7 L498.8,168.5 L497.5,170.5 L495.9,172.2 L494.1,173.7 L492.9,176.3 L491.1,178.4 L488.6,179.8 L486.9,181.9 L485.4,183.9 L483.8,185.7 L483.1,188.2 L481.8,190.3 L479.4,191.8 L480.0,194.7 L478.7,197.1 L478.0,199.6 L476.9,202.1 L477.5,204.9 L476.2,207.2 L476.6,209.9 L475.7,212.3 L475.1,214.7 L474.3,217.1 L475.0,219.8 L473.5,222.1 L473.7,224.8 L472.7,227.2 L471.3,229.4 L470.9,232.0 L471.3,234.7 L470.8,237.3 L470.1,239.5 L469.5,242.1 L470.9,244.4 L470.3,247.2 L471.5,249.7 L472.8,252.1 L474.1,254.9 L476.3,255.6 L478.2,256.8 L480.4,257.5 L482.3,258.6 L484.8,259.0 L486.4,261.5 L488.0,264.0 L490.7,265.5 L491.5,268.2 L493.4,270.7 L492.4,273.1 L491.8,275.5 L493.2,277.4 L495.3,278.7 L496.8,280.5 L499.0,282.0 L500.4,284.2 L499.9,286.7 L500.7,289.1 L500.3,291.6 L500.4,294.1 L500.1,296.7 L498.6,299.0 L498.3,301.9 L496.3,303.3 L494.4,304.9 L493.6,307.3 L491.7,308.8 L489.9,310.4 L487.7,311.3 L486.1,313.1 L483.9,314.0 L481.8,314.8 L479.5,316.3 L477.0,316.9 L474.6,317.8 L472.1,318.7 L469.4,318.8 L466.9,319.2 L464.5,320.2 L462.1,320.9 L459.6,321.7 L457.2,322.4 L454.5,322.1 L452.1,323.1 L449.6,323.2 L447.2,324.1 L444.7,324.6 L442.3,325.2 L439.7,325.1 L437.2,325.3 L434.7,325.4 L432.2,325.5 L429.7,325.7 L427.2,325.6 L424.7,326.0 L422.3,326.4 L419.8,326.6 L417.4,327.2 L414.9,327.6 L412.3,327.5 L409.8,327.9 L407.5,329.0 L405.7,331.1 L405.1,333.8 L405.0,336.7 L406.4,339.6 L405.6,342.1 L405.1,344.6 L405.8,347.0 L405.3,349.1 L403.9,351.0 L402.9,353.3 L401.2,354.9 L399.3,356.3 L397.0,357.3 L395.8,359.2 L393.3,359.6 L390.8,359.6 L388.4,360.7 L385.9,361.3 L383.4,361.3 L380.8,361.0 L378.3,362.4 L375.9,361.5 L373.4,361.4 L370.9,360.8 L368.4,360.8 L366.1,359.3 L363.7,359.7 L361.3,360.4 L359.9,361.9 L360.1,364.3 L361.2,366.5 L360.6,369.2 L361.0,371.8 L361.4,374.4 L360.8,378.0 L362.3,380.0 L364.6,380.8 L366.9,382.7 L369.8,382.9 L372.2,382.3 L374.5,381.3 L376.5,379.6 L379.3,378.4 L381.3,380.1 L383.8,380.6 L384.8,383.2 L385.2,386.0 L384.0,388.6 L383.8,391.4 L381.0,392.2 L378.3,392.9 L374.9,391.0 L372.6,390.5 L370.7,388.5 L368.2,387.5 L366.2,388.9 L364.5,391.2 L361.7,391.7 L362.7,392.6 L365.6,392.7 L368.2,394.4 L370.7,393.5 L372.9,394.4 L371.0,395.8 L368.9,396.5 L366.6,396.7 L364.2,397.8 L362.0,399.2 L360.0,401.6 L358.1,405.0 L356.6,408.0 L357.0,410.9 L357.2,413.8 L357.4,416.7 L356.2,419.6 L355.1,422.7 L352.8,424.2 L351.2,426.0 L350.9,427.5 L348.1,427.3 L345.2,427.6 L342.9,428.8 L340.4,429.2 L337.8,429.5 L335.6,431.1 L332.8,431.3 L330.9,433.1 L328.2,433.6 L326.7,435.6 L324.6,436.9 L322.9,439.0 L320.8,440.6 L319.4,442.9 L317.9,445.4 L318.4,447.7 L318.3,450.0 L318.9,452.6 L321.9,453.7 L324.0,455.8 L326.1,458.0 L328.6,459.2 L331.3,459.5 L333.7,460.6 L336.5,460.1 L339.1,460.8 L341.1,461.8 L343.3,462.3 L345.3,463.6 L347.6,463.6 L348.4,466.7 L349.3,469.9 L347.6,472.1 L347.8,474.9 L346.6,477.9 L344.0,478.0 L341.3,478.0 L339.1,479.4 L336.5,479.7 L334.8,481.2 L332.7,482.0 L330.3,482.2 L328.4,483.3 L326.9,485.2 L324.4,485.4 L322.9,487.2 L321.3,488.8 L319.3,489.7 L317.3,491.8 L317.0,494.8 L315.2,496.8 L312.9,497.8 L310.8,499.0 L308.7,500.5 L306.4,501.5 L305.2,503.7 L302.8,504.3 L300.8,505.2 L299.3,507.0 L298.1,509.1 L296.2,510.5 L294.4,512.0 L293.2,514.5 L291.6,516.8 L291.0,519.5 L290.4,522.1 L288.7,524.3 L287.4,526.9 L288.5,529.3 L288.6,531.8 L289.1,534.5 L290.4,536.3 L291.5,538.2 L293.6,539.5 L294.1,541.9 L296.0,543.3 L297.7,544.9 L299.0,547.0 L302.1,548.1 L304.3,549.8 L302.1,549.5 L299.9,549.0 L297.8,548.4 L295.4,548.9 L293.4,548.0 L291.3,547.1 L289.0,547.1 L286.8,546.4 L284.3,547.2 L281.9,546.3 L279.4,547.1 L276.9,546.4 L274.4,547.0 L272.0,546.5 L269.5,546.7 L267.3,546.4 L265.1,546.6 L262.9,545.7 L260.7,545.9 L258.5,545.4 L256.2,545.3 L254.0,545.4 L251.8,545.4 L249.7,545.4 L244.9,541.2 L240.5,534.4 L239.6,530.0 L239.1,525.8 L236.5,522.1 L231.8,519.8 L227.9,516.5 L223.1,512.4 L219.5,506.9 L219.4,499.1 L222.8,496.3 L228.5,496.4 L232.0,493.5 L233.9,489.3 L239.5,482.8 L238.9,477.4 L240.9,473.1 L240.5,467.4 L247.3,465.2 L245.7,457.3 L247.6,449.4 L248.4,445.5 L247.3,438.9 L248.1,434.2 L253.7,430.4 L254.5,425.3 L252.3,420.5 L250.6,416.3 L252.1,410.9 L246.6,406.2 L248.5,399.3 L245.9,393.0 L243.5,387.2 L243.8,381.3 L244.6,376.6 L245.5,371.9 L248.6,367.4 L248.4,361.2 L250.2,355.6 L246.3,349.5 L248.4,344.8 L250.4,340.5 L252.4,336.9 L255.9,333.5 L256.6,328.6 L257.1,325.3 L260.2,324.5 L260.8,322.1 L260.9,319.5 L259.7,317.2 L259.2,314.7 L259.8,312.0 L260.8,309.5 L259.1,307.2 L258.2,304.9 L259.8,302.4 L258.5,299.9 L258.9,296.2 L260.1,293.9 L262.7,292.0 L263.7,289.5 L263.6,286.7 L264.8,284.2 L266.6,282.0 L267.0,279.3 L267.4,276.8 L268.7,274.4 L268.7,271.9 L269.6,269.5 L269.4,266.9 L270.7,264.6 L271.3,262.1 L270.5,259.1 L272.4,257.6 L273.2,255.5 L273.2,253.1 L274.4,251.2 L275.7,249.5 L277.4,247.1 L275.3,244.4 L278.0,242.1 L278.2,239.6 L277.0,237.0 L277.4,234.5 L276.3,232.1 L275.3,229.7 L275.0,227.3 L276.6,224.6 L275.1,222.3 L275.5,219.7 L274.7,217.3 L273.8,214.9 L274.5,212.4 L273.9,209.8 L274.3,206.9 L272.3,204.8 L272.7,202.0 L270.5,199.9 L270.7,197.8 L271.2,194.9 L271.3,191.9 L274.6,190.3 L275.0,187.6 L275.6,185.0 L276.2,182.4 L276.0,179.7 L278.8,177.7 L277.2,174.8 L277.8,172.3 L280.0,170.3 L280.0,166.8 L281.3,163.9 L281.6,161.4 L282.6,159.0 L283.9,156.7 L283.3,154.0 L283.3,151.2 L285.2,149.6 L285.5,147.3 L287.7,145.8 L286.5,142.9 L288.2,141.2 L289.0,139.1 L291.3,137.7 L291.5,134.8 L294.2,133.7 L295.2,131.4 L297.0,129.6 L298.5,127.7 L299.7,125.6 L301.5,123.9 L302.3,121.7 L303.5,119.4 L303.0,116.8 L303.8,114.4 L303.5,112.0 L304.1,109.3 L302.9,107.0 L302.8,104.4 L302.1,102.0 L301.9,99.5 L301.4,97.2 L302.5,95.1 L302.2,92.8 L302.8,90.6 L303.2,88.7 L305.0,86.4 L307.2,84.4 L309.0,82.1 L311.0,81.1 L313.3,80.6 L315.0,79.1 L316.7,77.5 L318.8,77.0 L320.2,75.0 L320.9,72.6 L322.2,70.6 L324.0,68.9 L324.8,66.5 L327.0,64.8 L326.4,62.4 L327.1,60.2 L327.3,57.9 L328.2,55.8 L328.9,53.6 Z" fill="none" stroke="#111" stroke-width="1.5" stroke-linejoin="round"/>
<path d="M300.5,555.4 L304.2,561.6 L311.7,569.0 L324.1,576.5 L336.5,583.9 L348.9,588.9 L358.8,591.4 L357.0,594.2 L345.0,594.5 L330.0,594.8 L315.0,594.5 L300.5,594.5 Z" fill="none" stroke="#111" stroke-width="1.1"/>
</g>
<rect x="182.6" y="32.7" width="378.3" height="563.9" fill="none" stroke="#555" stroke-width="1.3"/>
<line x1="194.4" y1="32.7" x2="194.4" y2="28.700000000000003" stroke="#555" stroke-width="1.2"/>
<line x1="194.4" y1="596.6" x2="194.4" y2="600.6" stroke="#555" stroke-width="1.2"/>
<line x1="277.9" y1="32.7" x2="277.9" y2="28.700000000000003" stroke="#555" stroke-width="1.2"/>
<line x1="277.9" y1="596.6" x2="277.9" y2="600.6" stroke="#555" stroke-width="1.2"/>
<line x1="361.4" y1="32.7" x2="361.4" y2="28.700000000000003" stroke="#555" stroke-width="1.2"/>
<line x1="361.4" y1="596.6" x2="361.4" y2="600.6" stroke="#555" stroke-width="1.2"/>
<line x1="444.9" y1="32.7" x2="444.9" y2="28.700000000000003" stroke="#555" stroke-width="1.2"/>
<line x1="444.9" y1="596.6" x2="444.9" y2="600.6" stroke="#555" stroke-width="1.2"/>
<line x1="528.4" y1="32.7" x2="528.4" y2="28.700000000000003" stroke="#555" stroke-width="1.2"/>
<line x1="528.4" y1="596.6" x2="528.4" y2="600.6" stroke="#555" stroke-width="1.2"/>
<line x1="182.6" y1="94.5" x2="178.6" y2="94.5" stroke="#555" stroke-width="1.2"/>
<line x1="560.9" y1="94.5" x2="564.9" y2="94.5" stroke="#555" stroke-width="1.2"/>
<line x1="182.6" y1="177.8" x2="178.6" y2="177.8" stroke="#555" stroke-width="1.2"/>
<line x1="560.9" y1="177.8" x2="564.9" y2="177.8" stroke="#555" stroke-width="1.2"/>
<line x1="182.6" y1="260.9" x2="178.6" y2="260.9" stroke="#555" stroke-width="1.2"/>
<line x1="560.9" y1="260.9" x2="564.9" y2="260.9" stroke="#555" stroke-width="1.2"/>
<line x1="182.6" y1="344" x2="178.6" y2="344" stroke="#555" stroke-width="1.2"/>
<line x1="560.9" y1="344" x2="564.9" y2="344" stroke="#555" stroke-width="1.2"/>
<line x1="182.6" y1="427.2" x2="178.6" y2="427.2" stroke="#555" stroke-width="1.2"/>
<line x1="560.9" y1="427.2" x2="564.9" y2="427.2" stroke="#555" stroke-width="1.2"/>
<line x1="182.6" y1="510.3" x2="178.6" y2="510.3" stroke="#555" stroke-width="1.2"/>
<line x1="560.9" y1="510.3" x2="564.9" y2="510.3" stroke="#555" stroke-width="1.2"/>
<line x1="182.6" y1="593.4" x2="178.6" y2="593.4" stroke="#555" stroke-width="1.2"/>
<line x1="560.9" y1="593.4" x2="564.9" y2="593.4" stroke="#555" stroke-width="1.2"/>
<text x="195.0" y="615.0" text-anchor="middle" font-size="16" fill="#454545">75ºO</text>
<text x="278.5" y="615.0" text-anchor="middle" font-size="16" fill="#454545">70ºO</text>
<text x="362.0" y="615.0" text-anchor="middle" font-size="16" fill="#454545">65ºO</text>
<text x="445.5" y="615.0" text-anchor="middle" font-size="16" fill="#454545">60ºO</text>
<text x="529.0" y="615.0" text-anchor="middle" font-size="16" fill="#454545">55ºO</text>
<text x="179.0" y="99.9" text-anchor="end" font-size="16" fill="#454545">25ºS</text>
<text x="179.0" y="183.20000000000002" text-anchor="end" font-size="16" fill="#454545">30ºS</text>
<text x="179.0" y="266.29999999999995" text-anchor="end" font-size="16" fill="#454545">35ºS</text>
<text x="179.0" y="349.4" text-anchor="end" font-size="16" fill="#454545">40ºS</text>
<text x="179.0" y="432.59999999999997" text-anchor="end" font-size="16" fill="#454545">45ºS</text>
<text x="179.0" y="515.7" text-anchor="end" font-size="16" fill="#454545">50ºS</text>
<text x="179.0" y="598.8" text-anchor="end" font-size="16" fill="#454545">55ºS</text>
<path d="M250.1,61.8 A20.0,20.0 0 1 0 249.7,81.8" fill="none" stroke="#f2b21e" stroke-width="10.0"/>
<path d="M229.6,67.5 C241.6,65.5 251.6,69.5 266.6,65.2 L266.6,74.0 C251.6,78.0 241.6,74.0 229.6,76.0 Z" fill="#b4eef9"/>
<path d="M229.6,63.2 C241.6,61.2 251.6,65.2 266.6,60.900000000000006 L266.6,67.8 C251.6,71.8 241.6,67.8 229.6,69.8 Z" fill="#2383bd"/>
<path d="M229.6,74.3 C241.6,72.3 251.6,76.3 266.6,72.0 L266.6,79.7 C251.6,83.7 241.6,79.7 229.6,81.7 Z" fill="#2383bd"/>
<text x="206.0" y="123.5" font-size="27" fill="#4a4a4a" letter-spacing="-1.2">SMN</text>
<g transform="matrix(1.0033 0 0 1.0059 520.16 -3.46)">
<g>
<g clip-path="url(#arg)"><rect x="150" y="20" width="420" height="600" fill="#990d09"/>
<path d="M342.9,109.3 L355.9,107.1 L368.8,111.5 L371.0,124.4 L366.7,141.7 L368.8,156.8 L378.6,163.3 L383.6,177.4 L412.2,180.8 L476.2,186.4 L488.2,202.3 L508.2,281.8 L378.6,301.7 L308.3,321.4 L306.9,321.6 L295.9,305.9 L284.7,294.7 L277.3,285.5 L274.5,276.2 L275.4,263.3 L279.1,250.4 L282.9,242.9 L286.6,237.4 L293.2,232.3 L297.5,217.2 L295.3,200.0 L297.5,187.1 L306.1,171.9 L319.1,158.9 L332.0,150.4 L334.2,135.3 L336.4,120.2 L478.3,331.5 L358.7,421.0 L323.8,381.2 Z" fill="#8e0906"/>
<path d="M340.7,117.2 C342.4,113.3 343.0,110.3 345.5,108.6 C348.0,106.9 352.8,107.0 355.7,106.8 C358.6,106.6 360.2,106.0 362.8,107.3 C365.5,108.7 369.9,110.7 371.5,114.8 C373.2,118.9 373.3,126.6 372.7,132.0 C372.1,137.3 370.2,143.4 367.8,146.8 C365.5,150.2 362.2,151.9 358.7,152.6 C355.1,153.2 350.4,152.2 346.7,150.6 C343.0,148.9 338.6,145.7 336.7,142.6 C334.9,139.5 335.0,136.2 335.6,132.0 C336.3,127.7 339.1,121.1 340.7,117.2 Z" fill="#860606"/>
<path d="M269.0,281.8 L263.0,298.7 L270.9,316.6 L282.9,331.5 L288.9,348.4 L293.9,363.3 L303.8,376.2 L315.8,389.2 L328.8,401.1 L340.7,413.0 L350.7,423.0 L368.6,430.9 L428.4,430.9 L428.4,639.7 L159.3,639.7 L159.3,281.8 Z" fill="#d03c0a"/>
<path d="M254.0,319.6 L261.0,321.6 L269.0,341.4 L273.9,359.3 L277.9,371.3 L288.9,382.2 L301.8,394.1 L313.8,406.1 L323.8,417.0 L334.7,427.9 L344.7,434.9 L358.7,440.9 L418.5,440.9 L418.5,639.7 L159.3,639.7 L159.3,319.6 Z" fill="#f46464"/>
<path d="M244.0,341.4 L248.0,355.4 L254.0,371.3 L258.0,381.2 L262.0,394.1 L275.9,399.8 L289.9,403.6 L297.6,409.0 L301.3,416.6 L306.8,424.0 L312.5,431.5 L316.3,438.1 L323.8,445.8 L338.7,452.8 L398.5,452.8 L398.5,639.7 L159.3,639.7 L159.3,341.4 Z" fill="#f6a0a6"/>
<path d="M239.1,405.1 L249.0,406.4 L262.1,408.3 L276.1,412.9 L284.5,418.5 L290.1,425.9 L295.8,433.4 L301.3,439.9 L306.9,445.5 L314.8,452.8 L324.8,458.8 L336.7,462.7 L353.7,466.7 L413.5,466.7 L413.5,639.7 L159.3,639.7 L159.3,405.1 Z" fill="#fbd6d8"/>
<path d="M239.1,414.0 L252.7,414.7 L266.8,417.6 L276.1,422.2 L282.6,428.7 L287.3,435.3 L292.0,441.8 L298.9,447.8 L306.8,452.8 L317.5,459.4 L325.0,466.9 L332.4,472.6 L339.9,476.3 L358.7,478.6 L418.5,478.6 L418.5,639.7 L159.3,639.7 L159.3,414.0 Z" fill="#f6f0f4"/>
<path d="M239.1,425.9 L252.7,426.8 L266.8,429.6 L275.1,434.3 L280.8,440.9 L284.9,446.8 L289.5,450.2 L298.9,455.8 L306.3,463.2 L313.8,471.6 L319.4,480.0 L323.1,487.5 L328.8,498.5 L348.7,505.5 L408.5,505.5 L408.5,639.7 L159.3,639.7 L159.3,425.9 Z" fill="#e4e4f8"/>
<path d="M239.1,436.9 L250.9,437.1 L262.1,439.9 L269.6,444.5 L274.5,450.2 L283.9,456.7 L291.4,464.1 L298.9,473.5 L304.4,482.8 L308.1,493.1 L313.8,505.5 L323.8,520.4 L383.6,520.4 L383.6,639.7 L159.3,639.7 L159.3,436.9 Z" fill="#c8ccf6"/>
<path d="M239.1,445.8 L250.2,446.4 L259.6,450.2 L269.0,454.9 L276.4,461.3 L283.9,470.7 L289.5,480.0 L293.3,489.3 L295.1,500.5 L296.9,520.4 L297.9,548.2 L357.7,548.2 L357.7,639.7 L159.3,639.7 L159.3,445.8 Z" fill="#9a9cf2"/>
<path d="M224.1,466.7 L239.9,466.9 L252.1,468.8 L263.4,473.5 L270.8,480.0 L276.4,487.5 L279.2,496.7 L280.9,515.4 L281.9,548.2 L341.7,548.2 L341.7,639.7 L159.3,639.7 L159.3,466.7 Z" fill="#6466cc"/>
<path d="M209.1,500.5 L219.6,499.5 L227.1,492.6 L235.3,489.3 L242.7,488.4 L250.2,491.2 L255.9,496.7 L258.7,502.5 L260.8,512.4 L261.7,528.3 L262.0,548.2 L321.8,548.2 L321.8,639.7 L159.3,639.7 L159.3,500.5 Z" fill="#1038a0"/>
<path d="M298.9,560.2 L318.8,570.1 L338.7,580.0 L363.6,592.0 L363.6,604.9 L298.9,604.9 Z" fill="#6466cc"/>
<path d="M293.9,550.2 L300.5,563.1 L308.8,570.6 L320.8,577.6 L333.7,584.5 L346.7,590.0 L363.6,593.0 L368.6,550.2 Z" fill="#9a9cf2"/>
<path d="M374.6,23.3 L372.7,48.7 L358.7,58.1 L351.1,64.1 L338.7,72.0 L329.5,79.5 L318.8,86.9 L310.8,95.0 L298.9,102.9 L278.9,102.9 L278.9,23.3 Z" fill="#d03c0a"/>
<path d="M385.1,23.3 C356.2,27.0 384.6,38.8 385.1,45.6 C385.6,52.4 388.2,55.8 388.2,64.1 C388.2,72.3 385.6,84.7 385.1,95.0 C384.6,105.3 384.2,117.1 385.1,125.8 C386.0,134.6 387.5,141.5 390.6,147.6 C393.6,153.7 398.0,158.5 403.5,162.5 C409.0,166.5 416.3,169.4 423.4,171.4 C430.6,173.5 438.9,173.8 446.4,174.9 C453.8,176.1 462.0,177.3 468.3,178.4 C474.6,179.5 477.4,182.0 484.0,181.3 C490.7,180.6 495.8,179.2 508.2,174.4 C520.5,169.6 549.7,177.7 558.0,152.6 C566.3,127.4 586.8,44.9 558.0,23.3 C529.2,1.8 413.9,19.6 385.1,23.3 Z" fill="#d03c0a"/>
<path d="M397.4,23.3 C370.7,27.0 396.9,37.8 397.4,45.6 C397.9,53.4 400.3,60.7 400.5,70.2 C400.7,79.8 398.5,93.8 398.5,102.9 C398.5,111.9 398.9,117.6 400.5,124.7 C402.2,131.8 404.7,139.8 408.5,145.6 C412.3,151.4 417.1,155.8 423.4,159.5 C429.8,163.3 438.9,166.7 446.4,168.1 C453.8,169.4 461.6,168.4 468.3,167.5 C474.9,166.5 481.3,164.7 486.2,162.5 C491.2,160.3 493.7,157.9 498.2,154.5 C502.7,151.2 503.2,147.1 513.1,142.6 C523.1,138.1 550.5,147.6 558.0,127.7 C565.5,107.8 584.8,40.7 558.0,23.3 C531.2,5.9 424.2,19.6 397.4,23.3 Z" fill="#f46464"/>
<path d="M418.5,23.3 C401.9,28.5 418.0,43.5 419.0,54.1 C419.9,64.8 423.1,79.3 424.0,87.4 C425.0,95.6 425.0,97.8 424.4,102.9 C423.8,107.9 421.3,113.6 420.5,117.8 C419.6,121.9 418.8,123.6 419.5,127.7 C420.1,131.8 422.1,138.5 424.4,142.6 C426.8,146.8 429.8,149.9 433.4,152.6 C437.1,155.2 441.4,157.5 446.4,158.3 C451.4,159.2 458.0,158.5 463.3,157.5 C468.6,156.6 473.3,154.5 478.3,152.6 C483.2,150.6 488.2,148.6 493.2,145.6 C498.2,142.6 504.0,138.8 508.2,134.7 C512.3,130.5 516.5,139.3 518.1,120.7 C519.8,102.2 534.7,39.6 518.1,23.3 C501.5,7.1 435.0,18.2 418.5,23.3 Z" fill="#f6a0a6"/>
<path d="M436.4,23.3 C427.4,31.9 439.3,63.4 439.4,74.5 C439.5,85.6 438.2,85.2 436.9,89.9 C435.6,94.7 433.5,98.7 431.4,102.9 C429.3,107.0 425.7,111.3 424.4,114.8 C423.2,118.3 423.4,119.4 424.0,123.7 C424.7,128.0 426.4,136.5 428.4,140.6 C430.5,144.8 433.4,146.8 436.4,148.6 C439.4,150.4 442.4,151.2 446.4,151.4 C450.4,151.5 455.8,150.7 460.3,149.6 C464.8,148.5 469.5,147.1 473.3,144.6 C477.1,142.1 480.4,139.1 483.2,134.7 C486.1,130.2 488.6,123.1 490.2,117.8 C491.9,112.5 492.7,118.6 493.2,102.9 C493.7,87.1 502.7,36.6 493.2,23.3 C483.7,10.1 445.4,14.8 436.4,23.3 Z" fill="#fbd6d8"/>
<path d="M453.3,79.0 C449.2,79.3 446.2,80.3 443.4,83.0 C440.6,85.6 438.9,90.8 436.4,94.9 C433.9,99.0 430.0,104.2 428.4,107.8 C426.8,111.5 427.0,113.3 426.8,116.8 C426.7,120.3 426.3,125.1 427.4,128.7 C428.5,132.3 430.3,136.2 433.4,138.6 C436.6,141.1 441.9,142.9 446.4,143.6 C450.9,144.3 456.2,143.9 460.3,142.6 C464.5,141.3 468.3,139.0 471.3,135.7 C474.3,132.3 476.3,127.4 478.3,122.7 C480.3,118.1 482.9,113.1 483.2,107.8 C483.6,102.5 482.7,95.4 480.3,90.9 C477.8,86.4 472.8,83.0 468.3,81.0 C463.8,79.0 457.5,78.7 453.3,79.0 Z" fill="#f6f0f4"/>
<path d="M431.9,121.7 C432.1,119.4 432.7,116.5 434.4,114.8 C436.2,113.0 439.2,111.8 442.4,111.3 C445.5,110.8 450.2,111.1 453.3,111.8 C456.5,112.5 459.5,113.8 461.3,115.8 C463.1,117.8 464.5,121.2 464.3,123.7 C464.1,126.3 462.8,129.4 460.3,131.2 C457.8,132.9 453.0,133.9 449.4,134.2 C445.7,134.4 441.1,133.6 438.4,132.7 C435.7,131.8 434.5,130.5 433.4,128.7 C432.3,126.9 431.7,124.1 431.9,121.7 Z" fill="#c8ccf6"/>
<path d="M508.2,143.6 L518.1,130.7 L536.1,102.9 L563.0,92.9 L563.0,147.6 Z" fill="#9a9cf2"/>
<path d="M500.2,142.6 C499.2,140.3 503.8,133.0 506.2,130.7 C508.5,128.4 512.1,127.7 514.1,128.7 C516.1,129.7 518.5,134.0 518.1,136.7 C517.8,139.3 515.1,143.6 512.1,144.6 C509.2,145.6 501.2,144.9 500.2,142.6 Z" fill="#c8ccf6"/>
<path d="M374.6,200.2 C378.3,198.0 386.9,197.5 392.7,198.0 C398.5,198.5 403.8,202.0 409.4,203.0 C415.0,203.9 421.0,203.5 426.1,203.6 C431.2,203.7 434.9,203.0 440.0,203.6 C445.1,204.2 451.4,205.4 456.7,207.1 C462.1,208.9 466.7,211.6 472.0,214.1 C477.2,216.6 483.0,215.8 488.2,222.1 C493.4,228.5 499.9,243.7 503.2,252.0 C506.5,260.3 509.4,266.6 508.2,271.9 C506.9,277.1 499.6,279.1 495.7,283.4 C491.8,287.6 490.1,293.1 484.5,297.3 C479.0,301.5 466.9,304.0 462.3,308.4 C457.7,312.9 460.7,320.9 456.7,324.0 C452.7,327.2 443.9,326.6 438.4,327.5 C432.8,328.4 426.8,329.5 423.4,329.5 C420.1,329.5 419.7,328.5 418.5,327.5 C417.2,326.6 418.1,325.0 416.0,323.7 C413.9,322.5 409.4,320.4 405.8,319.9 C402.2,319.3 398.0,319.7 394.1,320.6 C390.3,321.5 385.5,323.4 382.5,325.3 C379.5,327.2 379.4,331.1 376.0,332.0 C372.6,332.9 366.3,332.2 362.1,330.6 C358.0,329.0 354.2,326.4 351.0,322.3 C347.7,318.1 344.1,312.1 342.7,305.7 C341.3,299.2 341.3,289.9 342.7,283.4 C344.1,276.9 348.2,270.9 351.0,266.8 C353.8,262.6 356.6,262.1 359.4,258.4 C362.1,254.7 365.9,249.7 367.7,244.6 C369.6,239.5 370.1,233.5 370.5,227.9 C371.0,222.4 369.8,215.9 370.5,211.3 C371.2,206.7 370.9,202.4 374.6,200.2 Z" fill="#565656"/>
<path d="M403.9,252.9 C405.2,249.1 408.2,246.4 411.5,244.0 C414.7,241.6 418.7,240.0 423.4,238.6 C428.2,237.1 434.2,236.2 440.0,235.6 C445.8,234.9 453.1,233.8 458.3,234.6 C463.5,235.3 467.8,237.8 471.3,240.0 C474.8,242.3 477.9,244.7 479.3,248.0 C480.6,251.3 481.1,256.9 479.3,259.9 C477.4,262.9 472.6,264.1 468.3,265.9 C464.0,267.7 459.0,269.0 453.3,270.9 C447.7,272.7 440.3,274.7 434.4,276.8 C428.5,278.9 422.4,283.2 417.8,283.4 C413.1,283.6 409.0,280.7 406.7,277.9 C404.4,275.2 404.4,271.0 403.9,266.8 C403.4,262.6 402.6,256.7 403.9,252.9 Z" fill="#3a3a3a"/>
<path d="M269.0,281.8 L263.0,298.7 L270.9,316.6 L282.9,331.5 L288.9,348.4 L293.9,363.3 L303.8,376.2 L315.8,389.2 L328.8,401.1 L340.7,413.0 L350.7,423.0 L368.6,430.9" fill="none" stroke="#f2a0a0" stroke-width="0.9" opacity="0.85"/>
<path d="M254.0,319.6 L261.0,321.6 L269.0,341.4 L273.9,359.3 L277.9,371.3 L288.9,382.2 L301.8,394.1 L313.8,406.1 L323.8,417.0 L334.7,427.9 L344.7,434.9 L358.7,440.9" fill="none" stroke="#f2a0a0" stroke-width="0.9" opacity="0.85"/>
<path d="M244.0,341.4 L248.0,355.4 L254.0,371.3 L258.0,381.2 L262.0,394.1 L275.9,399.8 L289.9,403.6 L297.6,409.0 L301.3,416.6 L306.8,424.0 L312.5,431.5 L316.3,438.1 L323.8,445.8 L338.7,452.8" fill="none" stroke="#f2a0a0" stroke-width="0.9" opacity="0.85"/>
<path d="M239.1,405.1 L249.0,406.4 L262.1,408.3 L276.1,412.9 L284.5,418.5 L290.1,425.9 L295.8,433.4 L301.3,439.9 L306.9,445.5 L314.8,452.8 L324.8,458.8 L336.7,462.7 L353.7,466.7" fill="none" stroke="#f2a0a0" stroke-width="0.9" opacity="0.85"/>
<path d="M239.1,414.0 L252.7,414.7 L266.8,417.6 L276.1,422.2 L282.6,428.7 L287.3,435.3 L292.0,441.8 L298.9,447.8 L306.8,452.8 L317.5,459.4 L325.0,466.9 L332.4,472.6 L339.9,476.3 L358.7,478.6" fill="none" stroke="#f2a0a0" stroke-width="0.9" opacity="0.85"/>
<path d="M239.1,425.9 L252.7,426.8 L266.8,429.6 L275.1,434.3 L280.8,440.9 L284.9,446.8 L289.5,450.2 L298.9,455.8 L306.3,463.2 L313.8,471.6 L319.4,480.0 L323.1,487.5 L328.8,498.5 L348.7,505.5" fill="none" stroke="#f2a0a0" stroke-width="0.9" opacity="0.85"/>
<path d="M239.1,436.9 L250.9,437.1 L262.1,439.9 L269.6,444.5 L274.5,450.2 L283.9,456.7 L291.4,464.1 L298.9,473.5 L304.4,482.8 L308.1,493.1 L313.8,505.5 L323.8,520.4" fill="none" stroke="#f2a0a0" stroke-width="0.9" opacity="0.85"/>
<path d="M239.1,445.8 L250.2,446.4 L259.6,450.2 L269.0,454.9 L276.4,461.3 L283.9,470.7 L289.5,480.0 L293.3,489.3 L295.1,500.5 L296.9,520.4 L297.9,548.2" fill="none" stroke="#f2a0a0" stroke-width="0.9" opacity="0.85"/>
<path d="M224.1,466.7 L239.9,466.9 L252.1,468.8 L263.4,473.5 L270.8,480.0 L276.4,487.5 L279.2,496.7 L280.9,515.4 L281.9,548.2" fill="none" stroke="#f2a0a0" stroke-width="0.9" opacity="0.85"/>
<path d="M209.1,500.5 L219.6,499.5 L227.1,492.6 L235.3,489.3 L242.7,488.4 L250.2,491.2 L255.9,496.7 L258.7,502.5 L260.8,512.4 L261.7,528.3 L262.0,548.2" fill="none" stroke="#f2a0a0" stroke-width="0.9" opacity="0.85"/>
<path d="M340.7,117.2 L345.5,108.6 L355.7,106.8 L362.8,107.3 L371.5,114.8 L372.7,132.0 L367.8,146.8 L368.8,156.8 L378.6,163.3" fill="none" stroke="#f2a0a0" stroke-width="0.9" opacity="0.85"/>
<path d="M340.7,117.2 L335.6,132.0 L333.1,146.8 L320.8,159.1 L308.4,171.4 L298.6,186.3 L295.3,200.0 L297.5,217.2 L293.2,232.3 L286.6,237.4 L282.9,242.9 L279.1,250.4 L275.4,263.3 L274.5,276.2 L277.3,285.5 L284.7,294.7 L295.9,305.9 L306.9,321.6 L310.8,341.0 L315.8,360.8 L328.1,375.6 L342.9,390.5 L352.8,407.7 L355.3,425.0" fill="none" stroke="#f2a0a0" stroke-width="0.9" opacity="0.85"/>
<path d="M348.7,168.0 L378.6,173.4 L409.5,178.4 L441.4,183.9 L463.3,185.9 L481.6,187.0" fill="none" stroke="#f2a0a0" stroke-width="0.9" opacity="0.85"/>
<path d="M372.7,48.7 L358.7,58.1 L351.1,64.1 L338.7,72.0 L329.5,79.5 L318.8,86.9 L310.8,95.0 L303.5,100.0" fill="none" stroke="#f2a0a0" stroke-width="0.9" opacity="0.85"/>
<path d="M385.1,45.6 L388.2,64.1 L385.1,95.0 L385.1,125.8 L390.6,147.6 L403.5,162.5 L423.4,171.4 L446.4,174.9 L468.3,178.4 L484.0,181.3" fill="none" stroke="#f2a0a0" stroke-width="0.9" opacity="0.85"/>
<path d="M397.4,45.6 L400.5,70.2 L398.5,102.9 L400.5,124.7 L408.5,145.6 L423.4,159.5 L446.4,168.1 L468.3,167.5 L486.2,162.5 L498.2,154.5" fill="none" stroke="#f2a0a0" stroke-width="0.9" opacity="0.85"/>
<path d="M419.0,54.1 L424.0,87.4 L424.4,102.9 L420.5,117.8 L419.5,127.7 L424.4,142.6 L433.4,152.6 L446.4,158.3 L463.3,157.5 L478.3,152.6 L493.2,145.6 L508.2,134.7" fill="none" stroke="#f2a0a0" stroke-width="0.9" opacity="0.85"/>
<path d="M439.4,74.5 L436.9,89.9 L431.4,102.9 L424.4,114.8 L424.0,123.7 L428.4,140.6 L436.4,148.6 L446.4,151.4 L460.3,149.6 L473.3,144.6 L483.2,134.7" fill="none" stroke="#f2a0a0" stroke-width="0.9" opacity="0.85"/>
<path d="M453.3,79.0 L443.4,83.0 L436.4,94.9 L428.4,107.8 L426.8,116.8 L427.4,128.7 L433.4,138.6 L446.4,143.6 L460.3,142.6 L471.3,135.7 L478.3,122.7 L483.2,107.8 L480.3,90.9 L468.3,81.0 L453.3,79.0" fill="none" stroke="#f2a0a0" stroke-width="0.9" opacity="0.85"/>
<path d="M431.9,121.7 L434.4,114.8 L442.4,111.3 L453.3,111.8 L461.3,115.8 L464.3,123.7 L460.3,131.2 L449.4,134.2 L438.4,132.7 L433.4,128.7 L431.9,121.7" fill="none" stroke="#f2a0a0" stroke-width="0.9" opacity="0.85"/>
<path d="M374.6,200.2 L392.7,198.0 L409.4,203.0 L426.1,203.6 L440.0,203.6 L456.7,207.1 L472.0,214.1 L488.2,222.1 L503.2,252.0 L508.2,271.9 L495.7,283.4 L484.5,297.3 L462.3,308.4 L456.7,324.0 L438.4,327.5 L423.4,329.5 L418.5,327.5 L416.0,323.7 L405.8,319.9 L394.1,320.6 L382.5,325.3 L376.0,332.0 L362.1,330.6 L351.0,322.3 L342.7,305.7 L342.7,283.4 L351.0,266.8 L359.4,258.4 L367.7,244.6 L370.5,227.9 L370.5,211.3 L374.6,200.2" fill="none" stroke="#f2a0a0" stroke-width="0.9" opacity="0.85"/>
<path d="M403.9,252.9 L411.5,244.0 L423.4,238.6 L440.0,235.6 L458.3,234.6 L471.3,240.0 L479.3,248.0 L479.3,259.9 L468.3,265.9 L453.3,270.9 L434.4,276.8 L417.8,283.4 L406.7,277.9 L403.9,266.8 L403.9,252.9" fill="none" stroke="#f2a0a0" stroke-width="0.9" opacity="0.85"/>
<circle cx="380.2" cy="54.3" r="1.6" fill="none" stroke="#f8d0d0" stroke-width="1"/>
<circle cx="360.4" cy="84.0" r="1.6" fill="none" stroke="#f8d0d0" stroke-width="1"/>
<circle cx="340.6" cy="70.3" r="1.6" fill="none" stroke="#f8d0d0" stroke-width="1"/>
</g>
<path d="M219.1,548.5 L218.1,548.3 L217.9,546.5 L219.1,546.2 L220.4,547.0 L220.8,548.1 Z" fill="#1a1a1a"/>
<path d="M228.8,545.4 L230.6,545.2 L231.4,546.3 L230.4,547.3 L229.4,547.2 L227.8,546.4 Z" fill="#1a1a1a"/>
<path d="M239.0,551.2 L239.0,552.5 L236.4,553.4 L234.5,551.8 L235.9,550.6 L237.7,549.7 Z" fill="#1a1a1a"/>
<path d="M229.0,576.2 L227.8,577.5 L226.7,576.8 L226.9,575.1 L227.8,574.2 L229.6,575.0 Z" fill="#1a1a1a"/>
<path d="M245.4,566.0 L245.9,567.5 L244.7,568.1 L243.9,568.0 L243.6,567.1 L244.0,565.7 Z" fill="#1a1a1a"/>
<path d="M245.6,573.6 L246.3,574.2 L245.6,575.0 L244.7,575.8 L244.1,574.3 L244.6,573.6 Z" fill="#1a1a1a"/>
<path d="M248.0,580.8 L247.3,578.9 L249.4,577.0 L251.6,578.9 L252.0,580.8 L249.7,581.5 Z" fill="#1a1a1a"/>
<path d="M226.6,570.7 L226.9,572.8 L224.6,572.8 L222.9,571.4 L223.7,570.0 L225.9,569.3 Z" fill="#1a1a1a"/>
<path d="M228.1,539.0 L226.9,541.4 L225.2,541.2 L223.6,539.4 L225.1,537.3 L226.4,537.2 Z" fill="#1a1a1a"/>
<path d="M239.3,566.6 L237.3,565.6 L236.8,564.2 L238.7,562.0 L241.2,563.7 L241.6,565.5 Z" fill="#1a1a1a"/>
<path d="M222.4,534.4 L222.9,532.0 L225.3,532.5 L225.6,533.7 L225.7,535.7 L223.5,535.8 Z" fill="#1a1a1a"/>
<path d="M224.6,543.5 L226.3,542.0 L228.2,544.3 L228.2,545.9 L226.2,547.4 L223.4,546.5 Z" fill="#1a1a1a"/>
<path d="M237.1,549.9 L235.5,549.0 L235.6,547.5 L237.1,546.5 L238.8,547.8 L238.0,548.8 Z" fill="#1a1a1a"/>
<path d="M219.4,537.2 L218.6,536.3 L219.4,535.2 L220.6,535.4 L220.8,536.3 L220.3,536.8 Z" fill="#1a1a1a"/>
<path d="M219.3,545.4 L217.3,545.7 L216.8,543.4 L217.2,541.7 L219.2,541.9 L220.4,543.2 Z" fill="#1a1a1a"/>
<path d="M240.1,562.9 L241.2,563.7 L242.3,564.5 L241.1,565.9 L239.9,565.5 L239.2,564.3 Z" fill="#1a1a1a"/>
<path d="M213.4,542.3 L214.5,541.6 L216.4,542.6 L214.8,544.1 L213.7,544.1 L212.2,543.4 Z" fill="#1a1a1a"/>
<path d="M236.8,551.7 L234.2,553.1 L232.5,551.2 L233.0,549.2 L234.1,548.6 L237.0,548.6 Z" fill="#1a1a1a"/>
<path d="M231.8,575.6 L231.3,574.5 L232.6,574.0 L234.0,574.7 L233.9,575.9 L232.4,576.6 Z" fill="#1a1a1a"/>
<path d="M219.3,522.5 L219.5,520.6 L220.3,520.2 L221.9,520.6 L222.0,521.8 L220.7,522.1 Z" fill="#1a1a1a"/>
<path d="M226.7,534.7 L225.9,534.0 L226.8,532.6 L227.8,531.9 L229.3,533.6 L228.3,534.6 Z" fill="#1a1a1a"/>
<path d="M223.9,529.0 L224.4,527.5 L225.5,528.2 L226.5,529.0 L225.6,529.8 L224.0,529.8 Z" fill="#1a1a1a"/>
<path d="M238.3,563.3 L238.8,564.8 L237.5,566.1 L236.3,565.3 L234.8,563.9 L236.7,562.1 Z" fill="#1a1a1a"/>
<path d="M207.1,522.9 L206.2,523.4 L205.9,521.8 L206.4,520.6 L207.3,521.2 L207.6,522.2 Z" fill="#1a1a1a"/>
<path d="M222.2,538.2 L221.6,539.7 L219.1,539.2 L218.4,537.3 L219.4,536.5 L221.5,536.3 Z" fill="#1a1a1a"/>
<path d="M239.4,562.2 L239.3,563.8 L238.1,563.2 L236.9,562.2 L237.8,561.4 L239.4,560.8 Z" fill="#1a1a1a"/>
<path d="M216.9,540.0 L214.1,540.3 L214.9,537.8 L216.1,537.3 L218.8,537.6 L218.6,539.5 Z" fill="#1a1a1a"/>
<path d="M227.0,536.0 L229.0,536.7 L230.2,539.8 L228.6,540.6 L226.4,541.3 L226.3,538.4 Z" fill="#1a1a1a"/>
<path d="M228.4,552.2 L227.3,554.2 L225.8,552.5 L224.8,549.5 L227.3,547.7 L228.9,549.5 Z" fill="#1a1a1a"/>
<path d="M245.4,586.7 L245.9,588.8 L243.8,589.6 L243.1,588.4 L242.5,586.6 L244.3,586.2 Z" fill="#1a1a1a"/>
<path d="M224.4,557.1 L222.0,558.7 L221.5,555.9 L221.5,553.5 L224.2,552.6 L226.4,555.7 Z" fill="#1a1a1a"/>
<path d="M226.1,550.9 L226.5,549.0 L227.9,548.4 L228.5,549.9 L229.1,552.0 L226.9,552.9 Z" fill="#1a1a1a"/>
<path d="M233.7,547.5 L232.7,548.8 L231.4,547.6 L232.1,546.4 L232.8,546.4 L233.8,546.6 Z" fill="#1a1a1a"/>
<path d="M209.8,525.2 L210.0,526.1 L209.8,527.1 L208.8,526.9 L208.7,526.0 L208.5,524.6 Z" fill="#1a1a1a"/>
<path d="M247.7,580.2 L250.2,579.8 L251.6,581.5 L251.4,583.8 L249.0,584.5 L247.5,582.5 Z" fill="#1a1a1a"/>
<path d="M212.6,522.5 L215.2,519.7 L217.7,521.3 L217.3,524.1 L215.9,524.8 L214.3,524.2 Z" fill="#1a1a1a"/>
<path d="M212.3,525.6 L213.5,524.6 L216.5,524.0 L216.1,526.7 L214.9,529.4 L212.8,527.6 Z" fill="#1a1a1a"/>
<path d="M212.5,537.9 L211.9,536.8 L211.1,535.2 L213.9,533.8 L215.6,535.3 L214.7,537.6 Z" fill="#1a1a1a"/>
<path d="M215.9,531.3 L213.8,530.4 L214.0,528.9 L216.3,527.8 L217.5,528.7 L218.3,530.4 Z" fill="#1a1a1a"/>
<path d="M229.4,574.6 L228.2,576.5 L226.6,576.1 L225.2,575.7 L225.6,574.1 L227.7,573.2 Z" fill="#1a1a1a"/>
<path d="M282.3,587.0 L282.6,587.5 L280.8,587.9 L279.8,587.0 L281.1,586.3 L282.4,586.2 Z" fill="#1a1a1a"/>
<path d="M248.7,582.3 L248.3,583.0 L247.2,582.7 L247.0,582.3 L247.3,582.0 L248.3,581.7 Z" fill="#1a1a1a"/>
<path d="M257.0,587.4 L255.8,588.3 L254.6,588.0 L253.0,587.4 L254.6,587.0 L255.7,586.3 Z" fill="#1a1a1a"/>
<path d="M259.7,589.0 L257.4,590.1 L256.1,589.8 L255.0,589.0 L255.4,588.1 L257.5,588.3 Z" fill="#1a1a1a"/>
<path d="M261.4,586.6 L259.8,587.7 L258.0,587.2 L257.4,586.6 L258.5,585.2 L259.9,586.0 Z" fill="#1a1a1a"/>
<path d="M297.2,588.9 L295.9,589.4 L294.6,589.9 L293.8,588.9 L294.6,588.2 L296.1,587.5 Z" fill="#1a1a1a"/>
<path d="M255.5,585.4 L255.1,586.8 L253.5,586.3 L251.7,585.4 L253.0,584.6 L255.7,584.5 Z" fill="#1a1a1a"/>
<path d="M295.1,584.8 L295.0,585.3 L293.1,585.6 L292.8,584.8 L293.1,583.8 L294.9,583.8 Z" fill="#1a1a1a"/>
<path d="M272.7,589.8 L270.3,590.8 L268.7,591.2 L267.9,589.8 L268.9,588.3 L270.3,588.3 Z" fill="#1a1a1a"/>
<path d="M275.2,586.3 L273.6,587.0 L271.2,587.5 L271.2,586.3 L271.2,584.9 L273.8,585.8 Z" fill="#1a1a1a"/>
<path d="M277.0,584.2 L276.4,584.8 L274.9,584.7 L274.0,584.2 L275.4,583.6 L276.2,583.3 Z" fill="#1a1a1a"/>
<path d="M294.5,590.2 L293.2,591.0 L292.2,590.7 L291.3,590.2 L292.2,589.5 L293.5,589.9 Z" fill="#1a1a1a"/>
<path d="M273.0,582.3 L273.1,582.9 L271.5,582.9 L270.8,582.3 L271.8,581.8 L272.8,581.9 Z" fill="#1a1a1a"/>
<path d="M286.0,585.2 L284.1,586.0 L282.1,586.7 L280.7,585.2 L281.9,583.9 L284.2,584.5 Z" fill="#1a1a1a"/>
<path d="M262.3,585.9 L262.0,586.7 L260.8,586.7 L260.7,585.9 L260.9,585.4 L262.1,585.5 Z" fill="#1a1a1a"/>
<path d="M275.6,590.8 L275.1,592.3 L273.5,591.4 L272.9,590.8 L273.8,589.9 L275.3,590.0 Z" fill="#1a1a1a"/>
<path d="M253.0,586.3 L251.7,587.3 L250.1,587.1 L249.7,586.3 L249.5,585.2 L251.4,585.5 Z" fill="#1a1a1a"/>
<path d="M262.3,587.1 L260.1,588.4 L258.2,588.4 L256.4,587.1 L257.9,586.3 L260.5,585.8 Z" fill="#1a1a1a"/>
<path d="M262.6,131.2 L261.0,133.7 L260.6,136.6 L259.2,139.1 L258.3,141.8 L258.7,144.9 L258.0,147.7 L255.2,149.8 L255.9,152.6 L255.4,155.2 L253.0,157.2 L253.6,160.0 L252.9,163.0 L253.9,165.9 L253.7,168.9 L255.1,171.8 L254.1,174.7 L252.5,177.2 L252.1,180.2 L250.4,183.1 L250.8,185.9 L252.5,188.6 L251.1,191.6 L251.8,194.4 L252.7,197.1 L253.6,199.9 L251.8,203.1 L252.9,206.0 L252.5,209.0 L252.3,211.9 L252.4,214.4 L251.6,216.8 L252.5,219.5 L251.2,221.9 L251.8,224.5 L250.3,226.8 L250.1,229.3 L251.6,232.2 L250.8,234.6 L250.0,237.1 L247.5,239.1 L248.0,241.9 L246.9,244.2 L247.0,246.9 L245.8,249.3 L244.8,251.9 L243.6,254.4 L241.9,256.6 L240.7,259.1 L238.7,261.3 L238.0,264.0 L236.2,266.2 L235.1,268.7 L233.5,271.0 L232.9,273.8 L233.0,276.8 L230.4,278.7 L229.2,281.1 L228.3,283.6 L228.0,286.4 L226.7,288.7 L225.9,291.4 L223.1,292.4 L221.8,294.8 L220.6,297.3 L219.5,298.9 L217.6,301.9 L217.2,305.1 L219.7,307.9 L218.4,311.1 L219.7,314.0 L220.9,316.5 L221.2,319.3 L220.6,322.2 L221.0,325.0 L223.5,327.3 L222.7,330.1 L223.2,333.4 L220.7,335.9 L220.8,339.1 L218.9,341.3 L216.4,343.4 L214.9,346.5 L213.3,349.1 L214.4,352.2 L214.5,355.1 L212.8,357.7 L213.7,360.2 L214.1,363.4 L214.3,366.6 L214.9,369.8" fill="none" stroke="#1a1a1a" stroke-width="1.0" stroke-linejoin="round"/>
<path d="M309.0,32.7 L309.9,35.1 L310.9,37.5 L310.9,40.2 L312.6,42.3 L312.8,44.9 L312.9,47.8 L314.5,50.3 L314.5,53.2 L315.2,56.1 L318.1,55.8 L320.8,56.5 L323.6,57.2 L326.4,57.3 L328.9,53.6" fill="none" stroke="#333" stroke-width="0.9" stroke-linejoin="round"/>
<path d="M406.9,32.7 L405.6,35.9 L403.9,39.0 L402.5,42.0 L400.5,44.7" fill="none" stroke="#333" stroke-width="0.9" stroke-linejoin="round"/>
<path d="M479.5,32.7 L479.3,35.8 L478.7,38.8 L479.5,41.9 L479.4,44.9 L481.8,45.7 L484.5,45.6 L486.8,46.8 L489.3,47.6 L491.7,48.4 L494.2,48.0 L497.4,48.0 L500.4,47.3 L503.6,48.2 L506.5,47.6 L509.6,48.7 L511.2,51.7 L513.7,53.5 L516.4,54.9 L517.0,57.3 L518.4,59.6 L519.2,62.1 L519.1,64.8 L520.4,67.1 L520.8,69.6 L521.4,72.1 L521.7,74.0 L524.6,74.9 L527.6,75.1 L530.5,76.0 L533.5,75.7 L536.3,76.0 L537.3,78.8 L537.9,81.8 L539.1,84.6 L538.8,87.2 L537.1,89.4 L536.6,91.9 L536.3,94.4 L536.0,97.0 L536.0,99.6 L535.5,101.7 L537.7,104.4" fill="none" stroke="#333" stroke-width="0.9" stroke-linejoin="round"/>
<path d="M487.2,182.2 L490.1,181.3 L493.0,180.2 L495.9,178.3 L498.5,178.9 L500.9,180.4 L503.4,182.5 L505.1,185.4 L507.5,187.5 L509.3,189.7 L511.0,191.9 L512.6,194.3 L514.1,195.4 L518.0,192.3 L520.7,193.7 L522.6,196.3 L525.9,196.9 L527.9,199.7 L530.7,199.8 L532.6,201.8 L535.1,202.5 L537.6,204.3 L539.9,206.6 L542.7,206.5 L544.9,207.7 L546.3,209.9 L548.6,212.1 L550.8,214.1 L552.3,217.7 L555.0,220.3 L557.9,220.9 L559.8,223.2 L558.0,226.1 L555.7,228.4 L554.0,230.8 L553.4,233.3 L553.0,236.0 L554.3,238.9 L552.4,241.3 L549.9,243.3 L548.7,246.0 L547.0,248.2 L545.1,250.3 L542.7,252.6 L540.2,254.9 L537.8,256.5 L534.8,256.5 L532.1,257.2 L529.8,258.2 L527.2,258.7 L524.7,259.2 L522.1,259.2 L519.6,258.7 L516.6,258.5 L513.6,259.2 L510.6,258.7 L507.6,258.3 L504.8,256.9 L502.1,255.4 L499.1,254.7 L496.4,254.8 L494.1,252.9 L491.4,252.9 L488.9,252.2 L486.2,251.7 L483.8,250.6 L481.2,249.7 L479.0,248.4 L476.0,247.5 L474.1,245.2 L471.8,243.6" fill="none" stroke="#333" stroke-width="0.9" stroke-linejoin="round"/>
<path d="M559.7,223.1 L561.0,221.0" fill="none" stroke="#333" stroke-width="0.9" stroke-linejoin="round"/>
<path d="M300.4,556.0 L297.9,554.5 L295.3,554.0 L292.8,552.9 L290.1,553.4 L287.1,554.1 L283.9,554.1 L280.9,555.0 L277.9,556.3 L275.6,554.7 L272.9,554.2 L270.7,552.6 L268.2,552.6 L265.7,553.2 L263.0,553.0 L260.9,554.6 L258.5,555.6 L255.7,555.6 L253.9,557.3 L252.3,559.4 L250.0,560.4 L247.8,562.1 L249.8,564.4 L250.4,567.4 L252.1,569.4 L254.6,570.2 L257.1,570.3 L259.6,571.0 L262.5,572.6 L263.9,570.4 L266.5,569.6 L267.9,567.4 L269.9,566.2 L272.3,567.6 L274.9,568.3 L277.7,568.4 L279.9,569.9 L278.5,572.6 L277.8,575.6 L276.3,577.4 L278.2,580.0 L281.0,581.0 L283.8,582.1 L286.0,583.9 L288.6,584.1 L290.9,585.5 L293.5,585.5 L296.3,585.4 L300.5,588.0" fill="none" stroke="#333" stroke-width="0.9" stroke-linejoin="round"/>
<path d="M243.0,378.7 L245.5,378.5 L248.0,378.6 L250.5,378.7 L253.0,378.1 L255.6,378.4 L258.1,378.7 L260.6,378.7 L263.1,378.4 L265.6,378.0 L268.1,378.2 L270.6,378.8 L273.1,377.9 L275.6,378.1 L278.1,378.8 L280.7,378.2 L283.2,378.0 L285.7,378.1 L288.2,378.7 L290.7,378.1 L293.2,378.2 L295.7,378.4 L298.2,378.6 L300.7,378.3 L303.3,377.9 L305.8,378.4 L308.3,377.8 L310.8,377.9 L313.3,378.0 L315.8,378.5 L318.3,378.1 L320.8,378.5 L323.3,378.0 L325.9,377.9 L328.4,377.8 L330.9,378.5 L333.4,378.7 L335.9,378.0 L338.4,378.0 L340.9,377.8 L343.4,378.4 L345.9,378.1 L348.4,377.9 L351.0,378.4 L353.5,378.4 L356.0,378.2 L358.5,378.0 L361.0,378.3" fill="none" stroke="#4a0806" stroke-width="1.0" stroke-linejoin="round"/>
<path d="M250.9,444.7 L253.4,445.2 L255.9,445.1 L258.5,445.0 L261.0,444.7 L263.5,445.3 L266.0,445.3 L268.6,445.0 L271.1,445.0 L273.6,444.7 L276.1,444.5 L278.6,444.9 L281.2,445.1 L283.7,444.6 L286.2,445.3 L288.7,444.7 L291.3,444.7 L293.8,444.5 L296.3,445.5 L298.8,445.2 L301.3,445.4 L303.9,445.1 L306.4,444.5 L308.9,444.8 L311.4,445.0 L314.0,444.6 L316.5,445.5 L319.0,445.0" fill="none" stroke="#4a0806" stroke-width="1.0" stroke-linejoin="round"/>
<path d="M248.7,361.9 L251.2,361.0 L253.7,360.9 L256.5,361.8 L258.5,359.3 L260.9,357.4 L263.7,355.9 L265.8,354.5 L268.3,353.9 L270.2,352.2 L272.8,351.7 L274.7,350.1 L276.7,348.4 L278.8,346.8 L280.5,344.8 L282.4,343.2 L284.6,341.6 L286.6,339.6 L289.4,338.9 L291.6,337.3 L293.5,334.9 L295.5,332.7 L298.1,331.0 L300.0,328.7 L302.5,328.1 L304.8,327.0 L307.0,325.8" fill="none" stroke="#4a0806" stroke-width="1.0" stroke-linejoin="round"/>
<path d="M299.9,302.4 L303.4,303.2 L306.7,303.8 L309.6,305.5 L311.6,308.2 L314.1,310.3 L316.0,312.5 L318.1,314.3 L320.5,315.1 L322.8,316.2 L325.2,316.9 L327.5,317.9 L330.1,318.4 L332.4,319.2 L334.6,320.7 L337.1,321.2 L339.4,322.2 L341.8,323.2 L344.4,323.2 L347.1,323.3 L349.6,324.3 L352.3,324.5 L354.9,324.9 L357.5,325.2 L360.1,325.9 L362.8,325.7 L365.4,326.7 L368.1,326.9 L370.7,327.7 L373.3,328.4 L376.0,328.7 L378.7,329.1 L381.2,330.1 L383.8,331.0 L386.5,331.5 L389.2,331.7 L391.9,332.2 L394.6,332.0 L397.3,332.4 L400.0,333.0" fill="none" stroke="#4a0806" stroke-width="1.0" stroke-linejoin="round"/>
<path d="M306.8,278.4 L306.7,281.0 L307.3,283.7 L306.5,286.3 L307.3,288.9 L306.8,291.6 L307.4,294.2 L306.7,296.8 L307.3,299.5 L306.8,302.1 L306.8,304.7 L306.7,307.4 L307.1,310.0 L306.6,312.6 L306.5,315.3 L307.4,317.9 L307.0,320.5 L306.5,323.2 L307.0,325.8" fill="none" stroke="#4a0806" stroke-width="1.0" stroke-linejoin="round"/>
<path d="M306.0,278.0 L308.6,278.5 L311.2,278.4 L313.8,277.8 L316.4,278.5 L319.0,278.2 L321.6,277.6 L324.2,278.6 L326.8,277.9 L329.4,277.9 L332.1,278.0 L334.7,278.2 L337.3,277.7 L339.9,278.3 L342.5,278.4 L345.1,278.1 L347.7,278.4 L350.3,278.2 L352.9,278.4 L355.5,277.8 L358.1,278.0 L360.6,278.1 L363.2,277.7 L365.7,278.6 L368.2,278.2 L370.8,277.7 L373.3,278.2 L375.8,278.0 L378.4,277.8 L380.9,277.8 L383.4,278.1 L386.0,277.7 L388.5,278.1" fill="none" stroke="#4a0806" stroke-width="1.0" stroke-linejoin="round"/>
<path d="M388.3,252.0 L388.8,254.5 L388.8,257.0 L388.4,259.5 L388.9,262.1 L388.2,264.6 L388.2,267.1 L389.0,269.6 L388.3,272.1 L388.5,274.6 L388.4,277.2 L388.0,279.7 L388.0,282.2 L388.6,284.7 L388.2,287.2 L388.2,289.7 L388.0,292.3 L389.0,294.8 L388.1,297.3 L388.8,299.8 L388.9,302.3 L388.4,304.8 L388.2,307.4 L388.0,309.9 L388.6,312.4 L388.2,314.9 L389.0,317.4 L388.0,319.9 L388.7,322.5 L388.5,325.0 L388.9,327.5 L388.5,330.0" fill="none" stroke="#4a0806" stroke-width="1.0" stroke-linejoin="round"/>
<path d="M300.0,301.9 L296.8,300.8 L293.7,299.6 L290.9,298.6 L288.6,297.2 L286.7,294.9 L284.2,293.7 L281.9,292.1 L279.8,290.6 L277.2,289.9 L275.2,288.1 L272.7,287.3 L270.1,286.6 L268.0,285.0" fill="none" stroke="#4a0806" stroke-width="1.0" stroke-linejoin="round"/>
<path d="M293.1,170.2 L296.0,171.4 L298.8,172.9 L301.7,173.6 L304.5,173.8 L307.2,174.4 L309.9,174.6 L312.8,174.8 L314.8,176.3 L316.7,178.0 L319.2,178.7 L321.5,180.2 L323.0,182.3 L324.2,184.6 L325.7,186.7 L326.2,189.1 L326.6,191.8 L325.7,194.5 L326.2,197.2 L325.2,199.8 L325.0,202.6 L324.3,205.3 L323.8,208.0 L323.4,210.8" fill="none" stroke="#4a0806" stroke-width="1.0" stroke-linejoin="round"/>
<path d="M280.0,213.0 L282.7,212.6 L285.5,212.8 L288.2,212.0 L290.9,211.9 L293.8,212.8 L296.7,214.0 L299.6,215.6 L302.1,214.3 L304.7,214.2 L307.3,213.5 L310.0,213.2 L312.7,213.4 L315.3,212.2 L318.0,212.0 L320.7,211.2 L323.4,211.0 L326.0,211.0 L328.6,210.9 L331.2,211.4 L333.8,211.6 L336.4,212.2 L339.0,211.7 L341.6,211.2 L344.3,211.4 L346.9,210.8 L349.5,210.8 L352.3,211.1 L354.9,211.8 L357.5,212.7 L360.3,212.9" fill="none" stroke="#4a0806" stroke-width="1.0" stroke-linejoin="round"/>
<path d="M323.4,210.8 L324.0,213.3 L324.6,215.8 L324.3,218.4 L325.2,220.9 L325.5,223.4 L325.7,226.0 L326.2,228.6 L326.6,231.2 L327.8,233.6 L328.0,236.3 L328.7,238.8 L330.1,241.1 L330.9,243.6 L331.5,246.1 L331.5,248.7 L332.3,251.1 L332.6,253.7 L333.2,256.1 L334.1,258.5 L334.6,261.0 L335.3,263.4 L335.7,265.9 L335.2,268.5 L335.6,270.9 L335.8,273.4 L336.4,275.9" fill="none" stroke="#4a0806" stroke-width="1.0" stroke-linejoin="round"/>
<path d="M350.0,171.6 L350.2,174.2 L350.3,176.8 L350.4,179.3 L351.3,181.8 L351.6,184.3 L351.9,187.0 L350.8,189.6 L350.9,192.4 L349.8,195.0 L349.3,197.8 L349.4,200.5 L348.6,203.0 L348.2,205.6 L347.8,208.2 L347.3,210.8" fill="none" stroke="#4a0806" stroke-width="1.0" stroke-linejoin="round"/>
<path d="M358.5,212.9 L358.8,215.6 L359.2,218.2 L359.0,220.9 L359.9,223.4 L360.1,226.0 L360.3,228.6 L359.6,231.1 L358.9,233.6 L358.8,236.1 L358.0,238.6 L357.7,241.2 L358.6,244.1 L359.3,246.9 L358.9,249.9 L359.9,252.7 L360.4,255.6 L360.1,258.5 L359.6,261.3 L359.3,264.1 L358.9,266.8 L359.3,269.7 L359.1,272.5 L358.8,275.3 L358.1,278.1" fill="none" stroke="#4a0806" stroke-width="1.0" stroke-linejoin="round"/>
<path d="M380.0,171.3 L382.8,171.8 L385.5,172.4 L388.4,172.3 L391.1,173.1 L393.2,174.8 L395.4,176.3 L398.0,177.2 L400.0,179.1 L402.2,180.6 L404.8,181.7 L407.1,183.4 L409.8,184.2" fill="none" stroke="#4a0806" stroke-width="1.0" stroke-linejoin="round"/>
<path d="M413.5,150.0 L413.4,152.5 L413.2,155.0 L413.1,157.5 L413.1,160.0 L413.3,162.5 L412.4,164.9 L412.6,167.5 L412.4,170.0 L412.3,172.5 L411.6,174.9 L411.5,177.7 L410.9,180.5 L410.1,183.2 L409.5,186.0 L409.4,188.6 L410.0,191.1 L409.9,193.7 L409.5,196.3 L409.1,198.8 L408.7,201.4 L408.6,203.9 L408.4,206.6 L409.2,209.0 L409.6,211.5 L410.4,213.9 L410.8,216.4 L411.4,218.9 L411.6,221.4 L412.1,224.5 L412.8,227.6 L413.6,230.7 L412.6,233.5 L411.9,236.4 L410.4,239.0 L409.7,241.8 L407.3,243.6 L405.0,245.4 L403.0,247.6 L400.6,249.7 L398.1,250.1 L395.4,250.2 L392.9,250.9 L388.5,252.0" fill="none" stroke="#4a0806" stroke-width="1.0" stroke-linejoin="round"/>
<path d="M458.1,160.0 L456.4,162.1 L454.9,164.3 L453.4,166.5 L452.4,169.1 L450.2,171.1 L450.2,174.0 L449.5,176.7 L449.0,179.5 L448.4,182.4 L449.7,184.7 L450.2,187.3 L450.5,189.7 L449.2,192.5 L447.7,195.2 L446.6,198.2 L444.7,200.7 L444.3,203.3 L442.4,205.2 L441.5,207.5 L440.6,209.9 L438.8,211.7 L438.1,214.2 L437.0,216.4 L436.0,218.7 L435.2,221.1 L434.3,223.2 L436.0,226.6 L437.9,228.7 L440.7,229.4 L442.9,230.9 L445.3,232.2 L447.5,234.4 L450.3,235.6 L452.7,237.3 L455.3,238.9 L458.1,240.0 L460.6,241.1 L463.1,242.4 L465.6,243.7" fill="none" stroke="#4a0806" stroke-width="1.0" stroke-linejoin="round"/>
<path d="M450.7,182.1 L453.4,182.4 L456.0,182.0 L458.6,181.6 L461.1,181.1 L463.6,180.9 L466.4,180.8 L468.9,182.1 L471.6,182.5 L474.0,183.7 L476.7,184.2 L478.6,186.1 L480.5,187.9" fill="none" stroke="#4a0806" stroke-width="1.0" stroke-linejoin="round"/>
<path d="M433.9,223.2 L431.7,225.5 L428.9,226.9 L426.3,228.6 L424.4,230.4 L422.8,232.5 L420.8,234.3 L419.2,236.3 L417.2,238.1 L415.1,240.3 L412.4,241.7 L410.2,243.6 L408.0,245.8 L405.5,246.9 L402.9,247.9 L400.5,249.3" fill="none" stroke="#4a0806" stroke-width="1.0" stroke-linejoin="round"/>
<path d="M279.9,152.3 L282.2,153.8 L284.2,155.6 L286.8,156.7 L288.5,158.8 L289.7,161.3 L290.3,163.9 L291.6,166.4 L292.3,169.1 L293.0,171.7" fill="none" stroke="#4a0806" stroke-width="1.0" stroke-linejoin="round"/>
<path d="M417.7,104.4 L417.5,107.0 L417.7,109.5 L417.5,112.1 L417.3,114.7 L417.3,117.2 L417.6,119.8 L417.5,122.3 L417.7,124.9 L417.1,127.5 L417.6,130.0 L417.0,132.6 L417.8,135.2 L417.9,137.7 L417.5,140.3 L417.5,142.8 L417.2,145.2 L415.2,147.5 L413.5,150.0" fill="none" stroke="#4a0806" stroke-width="1.0" stroke-linejoin="round"/>
<path d="M417.4,145.4 L420.0,145.8 L422.6,144.9 L425.3,145.2 L427.9,145.9 L430.5,145.6 L433.1,145.0 L435.8,145.2 L438.4,145.8 L441.0,145.3 L443.6,144.9 L446.3,145.8 L448.9,145.0 L451.5,145.5 L454.1,145.5 L456.8,145.4 L459.4,145.9 L462.0,145.4" fill="none" stroke="#4a0806" stroke-width="1.0" stroke-linejoin="round"/>
<path d="M462.1,145.4 L461.8,148.2 L461.4,150.9 L460.2,153.5 L460.0,156.3 L459.5,158.8 L458.1,160.0" fill="none" stroke="#4a0806" stroke-width="1.0" stroke-linejoin="round"/>
<path d="M462.1,145.4 L462.6,142.5 L463.8,139.8 L464.7,137.1 L466.2,134.5 L467.1,131.8 L469.0,129.9 L470.0,127.3 L472.0,125.5" fill="none" stroke="#4a0806" stroke-width="1.0" stroke-linejoin="round"/>
<path d="M410.2,81.6 L412.1,83.5 L414.6,84.3 L416.6,85.9 L418.7,87.3 L420.9,88.8 L423.5,89.6 L426.0,90.7 L428.7,91.4 L431.0,92.9 L433.6,94.7 L435.8,96.9 L438.5,98.4 L440.9,100.4 L443.5,101.9 L446.1,103.4 L448.1,105.7 L450.6,107.4 L453.0,108.9 L455.3,110.4 L457.1,112.5 L459.2,114.2 L461.8,116.3 L464.7,117.9 L467.5,119.7 L469.7,122.6 L472.0,125.5" fill="none" stroke="#4a0806" stroke-width="1.0" stroke-linejoin="round"/>
<path d="M356.8,46.2 L357.2,49.3 L357.3,52.5 L358.5,55.3 L360.0,58.0 L361.7,60.5 L363.1,63.0 L365.7,64.4 L368.2,66.1 L370.6,67.9 L373.7,69.5" fill="none" stroke="#4a0806" stroke-width="1.0" stroke-linejoin="round"/>
<path d="M325.9,72.4 L328.0,74.9 L330.4,76.8 L334.9,78.7 L337.1,76.9 L339.1,75.7 L339.4,72.6 L339.5,69.1 L344.5,67.8 L345.6,71.1 L347.0,74.0 L347.3,77.3 L350.0,79.3 L351.9,82.2 L354.5,83.6 L357.3,84.7 L359.7,86.8 L362.3,87.2 L365.0,87.2 L367.5,88.0 L370.7,87.5 L373.7,86.5" fill="none" stroke="#4a0806" stroke-width="1.0" stroke-linejoin="round"/>
<path d="M302.5,99.3 L305.1,98.4 L307.9,98.2 L310.6,98.1 L313.4,97.1 L315.9,97.9 L318.4,98.5 L321.0,99.3 L323.7,98.4 L326.4,98.5 L329.2,98.7 L331.7,99.1 L334.7,101.8 L333.8,105.3 L331.6,108.5 L334.2,110.6 L336.2,113.3 L338.6,114.8 L341.3,115.6 L344.2,117.2 L347.4,117.5 L349.8,116.5 L352.4,116.2 L354.7,115.2 L357.4,115.3 L359.8,114.4 L362.4,113.6 L365.2,113.4 L367.9,113.3 L370.8,113.1 L372.5,111.2 L374.5,109.5 L376.7,108.1 L379.7,106.3 L383.0,104.9 L385.8,105.5 L388.7,104.8 L391.5,104.9 L394.3,105.3 L397.2,104.7 L400.0,104.6 L402.9,104.6 L405.8,104.9 L408.7,104.9 L411.6,104.8 L414.5,104.1 L417.4,104.4" fill="none" stroke="#4a0806" stroke-width="1.0" stroke-linejoin="round"/>
<path d="M341.3,116.0 L341.8,118.6 L342.2,121.1 L342.9,123.7 L343.2,126.8 L343.9,129.9 L344.8,133.1 L344.0,136.5 L343.9,140.2 L343.0,142.6 L342.0,145.1 L340.4,147.3 L340.0,150.0 L339.0,152.5 L337.6,154.8 L336.6,157.4 L336.0,160.0" fill="none" stroke="#4a0806" stroke-width="1.0" stroke-linejoin="round"/>
<path d="M370.6,112.9 L370.5,115.5 L369.4,118.0 L369.3,120.6 L369.0,123.8 L370.2,126.8 L370.0,129.9 L370.9,133.0 L370.4,135.9 L370.7,138.7 L371.7,141.5 L371.4,144.3 L372.0,147.1 L372.0,150.0 L372.0,152.7 L373.1,155.2 L373.4,157.8 L373.9,160.4 L374.3,163.1 L374.3,165.7 L375.0,168.3 L375.0,171.0" fill="none" stroke="#4a0806" stroke-width="1.0" stroke-linejoin="round"/>
<path d="M472.2,168.6 L474.5,170.0 L477.1,170.8 L479.3,172.4 L481.9,173.2 L484.5,173.9 L487.0,174.9 L489.3,176.4" fill="none" stroke="#4a0806" stroke-width="1.0" stroke-linejoin="round"/>
<path d="M516.6,131.7 L516.2,134.3 L515.2,136.7 L514.9,139.3 L514.0,141.7" fill="none" stroke="#4a0806" stroke-width="1.0" stroke-linejoin="round"/>
<path d="M185.8,451.0 L186.7,454.9 L187.5,458.7 L189.9,461.6 L191.9,464.6 L195.2,466.8 L195.6,470.2 L197.2,473.0 L199.8,475.7 L198.4,479.0 L200.8,481.7 L196.9,485.3 L197.3,488.3 L200.6,490.9 L201.1,493.9 L199.3,497.2 L202.4,499.7 L203.1,502.7 L203.7,505.7 L203.5,508.9 L202.8,512.1 L201.9,515.7 L206.2,517.6 L203.8,521.6 L206.5,524.1 L205.9,527.6 L207.2,530.5 L211.2,532.5 L210.0,536.2 L213.4,538.4 L214.9,541.2 L214.1,544.8 L213.4,548.4 L215.4,551.1 L218.0,553.6 L216.0,557.5 L216.6,560.6 L220.6,562.5 L220.8,565.9 L221.6,569.3 L222.1,572.9 L226.7,573.7 L228.3,578.2 L230.8,582.8 L235.8,584.5 L239.0,586.5 L242.8,587.0" fill="none" stroke="#1a1a1a" stroke-width="1.2" stroke-linejoin="round"/>
<path d="M189.3,453.5 L193.0,455.4 L192.2,460.6 L194.4,463.5 L198.3,465.2 L199.6,468.6 L203.1,471.1 L203.5,474.1 L203.6,477.1 L202.1,480.4 L204.9,483.1 L201.7,486.6 L206.3,489.1 L206.1,492.1 L206.9,495.1 L204.0,498.5 L206.3,501.2 L206.2,504.3 L207.3,507.2 L206.2,510.4 L207.8,513.2 L209.5,515.9 L209.4,519.2 L210.9,522.0 L212.7,524.6 L210.6,528.9 L212.5,531.6 L213.7,534.6 L214.0,538.0 L217.4,540.1 L218.6,543.1 L219.7,546.2 L220.9,549.1 L220.8,552.6 L224.9,554.5 L223.9,558.2 L224.6,561.4 L226.4,564.0 L229.1,566.3 L227.6,570.7 L232.1,572.1 L231.5,576.5 L236.0,578.1 L239.2,580.5 L241.0,582.5 L242.4,585.3" fill="none" stroke="#1a1a1a" stroke-width="1.2" stroke-linejoin="round"/>
<path d="M196.3,453.6 L196.8,457.9 L200.7,459.7 L200.7,464.2 L203.2,466.9 L206.3,469.5 L205.9,472.7 L206.6,475.7 L209.6,478.2 L207.8,481.6 L207.9,484.7 L208.7,487.6 L207.2,490.8 L208.2,493.7 L210.2,496.5 L211.3,499.5 L211.9,502.5 L208.8,505.7 L209.6,508.7 L210.2,511.7 L211.6,514.5 L212.3,517.6 L214.5,520.2 L214.0,523.7 L216.8,525.9 L216.1,529.8 L217.5,532.9 L218.7,536.0 L222.0,538.1 L224.1,540.8 L224.4,544.3 L224.3,548.0 L226.4,550.6 L226.5,554.0 L229.2,556.5 L230.5,559.4 L229.2,563.2 L233.6,565.0 L234.7,568.0 L234.3,571.8 L235.6,574.9 L238.4,577.4 L240.4,580.8 L243.6,583.4 L245.2,585.8 L247.8,586.6" fill="none" stroke="#1a1a1a" stroke-width="1.2" stroke-linejoin="round"/>
<path d="M198.5,457.3 L202.8,458.8 L204.0,462.5 L206.0,465.5 L210.2,467.2 L212.7,470.5 L210.7,474.0 L213.6,476.6 L212.9,479.8 L211.0,483.2 L211.5,486.0 L215.4,488.7 L215.8,491.7 L215.4,494.8 L212.8,498.0 L216.8,500.9 L215.8,503.9 L216.3,506.9 L216.2,509.8 L214.5,512.9 L216.9,515.5 L216.8,518.8 L216.2,522.2 L217.3,525.4 L220.2,527.7 L220.2,531.5 L222.7,534.1 L223.2,537.7 L227.3,539.3 L228.4,542.6 L229.2,546.1 L229.1,549.8 L231.9,552.1 L233.9,554.8 L236.3,557.4 L237.4,560.6 L238.7,563.4 L236.3,567.7 L237.9,570.6 L239.1,573.7 L242.0,576.0 L243.1,579.4 L246.5,581.2 L248.9,584.8 L252.4,587.9" fill="none" stroke="#1a1a1a" stroke-width="1.2" stroke-linejoin="round"/>
<path d="M204.0,458.6 L206.7,461.2 L209.3,463.8 L213.4,465.5 L215.2,468.9 L214.4,472.4 L214.6,475.5 L218.9,477.7 L218.8,480.9 L216.0,484.4 L220.0,487.1 L217.6,490.2 L219.4,493.1 L218.0,496.2 L217.2,499.1 L218.4,502.2 L219.1,505.2 L219.2,508.3 L217.5,511.3 L218.1,514.4 L220.0,517.1 L220.7,520.2 L221.3,523.3 L223.7,525.6 L225.8,528.4 L226.0,532.4 L229.8,534.2 L229.6,538.4 L230.6,542.0 L232.3,545.0 L236.6,546.6 L237.5,550.0 L236.8,554.1 L240.7,555.9 L239.4,560.0 L244.1,561.7 L242.2,565.7 L246.8,567.5 L245.0,571.5 L245.5,574.7 L247.9,577.3 L248.7,580.5 L249.5,584.5 L253.5,586.2" fill="none" stroke="#1a1a1a" stroke-width="1.2" stroke-linejoin="round"/>
<path d="M202.3,494.5 L204.7,497.3 L201.3,498.5 L200.4,495.7 L202.3,494.5" fill="none" stroke="#1a1a1a" stroke-width="1.0" stroke-linejoin="round"/>
<path d="M197.8,458.2 L200.6,456.7 L201.8,460.9 L199.3,462.1 L197.8,458.2" fill="none" stroke="#1a1a1a" stroke-width="1.0" stroke-linejoin="round"/>
<path d="M221.2,565.4 L221.8,564.0 L223.0,562.8 L224.3,564.2 L223.6,566.0 L221.2,565.4" fill="none" stroke="#1a1a1a" stroke-width="1.0" stroke-linejoin="round"/>
<path d="M233.5,561.3 L235.2,559.6 L236.0,560.6 L237.4,561.8 L236.0,562.2 L234.5,563.1 L233.5,561.3" fill="none" stroke="#1a1a1a" stroke-width="1.0" stroke-linejoin="round"/>
<path d="M222.8,530.3 L224.3,528.7 L225.5,530.3 L224.8,532.1 L224.1,533.5 L222.3,531.6 L222.8,530.3" fill="none" stroke="#1a1a1a" stroke-width="1.0" stroke-linejoin="round"/>
<path d="M212.4,506.0 L212.4,505.2 L212.3,504.6 L213.4,504.3 L213.6,504.8 L213.8,505.5 L213.3,506.3 L212.4,506.0" fill="none" stroke="#1a1a1a" stroke-width="1.0" stroke-linejoin="round"/>
<path d="M238.7,549.1 L238.7,550.4 L237.5,552.0 L236.2,550.1 L235.4,549.1 L236.3,546.5 L238.5,547.4 L238.7,549.1" fill="none" stroke="#1a1a1a" stroke-width="1.0" stroke-linejoin="round"/>
<path d="M222.7,537.8 L222.6,537.1 L222.8,536.3 L223.7,536.2 L224.0,537.0 L224.3,538.3 L223.4,537.8 L222.7,537.8" fill="none" stroke="#1a1a1a" stroke-width="1.0" stroke-linejoin="round"/>
<path d="M202.9,480.0 L204.8,477.4 L206.5,480.0 L205.6,482.4 L204.3,482.8 L202.2,481.6 L202.9,480.0" fill="none" stroke="#1a1a1a" stroke-width="1.0" stroke-linejoin="round"/>
<path d="M217.1,478.4 L217.9,480.4 L216.9,482.7 L215.7,480.3 L217.1,478.4" fill="none" stroke="#1a1a1a" stroke-width="1.0" stroke-linejoin="round"/>
<path d="M215.9,524.1 L216.4,526.8 L215.4,527.7 L214.1,527.6 L213.6,525.1 L215.9,524.1" fill="none" stroke="#1a1a1a" stroke-width="1.0" stroke-linejoin="round"/>
<path d="M244.6,583.5 L243.7,585.2 L241.9,587.0 L238.5,585.1 L240.4,581.8 L243.2,582.6 L244.6,583.5" fill="none" stroke="#1a1a1a" stroke-width="1.0" stroke-linejoin="round"/>
<path d="M230.4,543.6 L231.1,540.2 L234.7,541.7 L233.9,544.9 L231.4,544.6 L230.4,543.6" fill="none" stroke="#1a1a1a" stroke-width="1.0" stroke-linejoin="round"/>
<path d="M195.6,467.9 L199.4,468.0 L200.7,469.6 L198.7,472.8 L196.6,471.4 L195.6,467.9" fill="none" stroke="#1a1a1a" stroke-width="1.0" stroke-linejoin="round"/>
<path d="M216.8,471.4 L216.2,472.3 L214.7,472.0 L215.5,470.0 L216.9,469.8 L216.8,471.4" fill="none" stroke="#1a1a1a" stroke-width="1.0" stroke-linejoin="round"/>
<path d="M229.1,564.3 L231.3,562.9 L232.6,563.1 L232.7,566.3 L230.1,566.8 L229.1,564.3" fill="none" stroke="#1a1a1a" stroke-width="1.0" stroke-linejoin="round"/>
<path d="M210.3,496.1 L210.2,497.8 L208.2,497.6 L207.6,496.3 L210.3,496.1" fill="none" stroke="#1a1a1a" stroke-width="1.0" stroke-linejoin="round"/>
<path d="M218.5,494.9 L220.8,494.9 L221.4,498.6 L218.4,498.4 L217.0,497.1 L218.5,494.9" fill="none" stroke="#1a1a1a" stroke-width="1.0" stroke-linejoin="round"/>
<path d="M222.6,568.9 L222.4,568.2 L222.6,567.0 L223.1,566.5 L223.9,567.4 L223.8,568.1 L223.9,568.5 L222.6,568.9" fill="none" stroke="#1a1a1a" stroke-width="1.0" stroke-linejoin="round"/>
<path d="M228.1,576.0 L225.9,575.2 L225.4,573.1 L227.1,571.8 L229.0,573.9 L228.1,576.0" fill="none" stroke="#1a1a1a" stroke-width="1.0" stroke-linejoin="round"/>
<path d="M214.1,498.6 L210.1,498.5 L210.8,495.9 L212.7,495.9 L214.1,498.6" fill="none" stroke="#1a1a1a" stroke-width="1.0" stroke-linejoin="round"/>
<path d="M238.8,566.4 L238.7,564.3 L240.6,562.1 L241.9,563.3 L242.2,565.6 L240.8,566.7 L238.8,566.4" fill="none" stroke="#1a1a1a" stroke-width="1.0" stroke-linejoin="round"/>
<path d="M212.2,536.4 L212.7,534.9 L214.1,535.5 L213.6,536.7 L212.2,536.4" fill="none" stroke="#1a1a1a" stroke-width="1.0" stroke-linejoin="round"/>
<path d="M195.7,473.6 L197.0,472.7 L197.6,473.9 L198.1,474.7 L196.5,475.6 L194.6,474.6 L195.7,473.6" fill="none" stroke="#1a1a1a" stroke-width="1.0" stroke-linejoin="round"/>
<path d="M205.6,483.3 L208.0,484.3 L208.3,485.4 L208.2,487.5 L207.3,487.2 L204.6,488.4 L203.9,485.8 L205.6,483.3" fill="none" stroke="#1a1a1a" stroke-width="1.0" stroke-linejoin="round"/>
<path d="M230.6,539.6 L227.4,539.5 L227.4,537.6 L229.3,537.4 L230.6,539.6" fill="none" stroke="#1a1a1a" stroke-width="1.0" stroke-linejoin="round"/>
<path d="M206.5,515.7 L204.4,514.1 L204.3,512.3 L206.3,511.7 L208.7,512.9 L208.2,514.2 L206.5,515.7" fill="none" stroke="#1a1a1a" stroke-width="1.0" stroke-linejoin="round"/>
<path d="M200.9,506.0 L201.6,506.6 L202.6,506.8 L202.0,508.1 L200.9,508.1 L200.5,507.4 L200.9,506.0" fill="none" stroke="#1a1a1a" stroke-width="1.0" stroke-linejoin="round"/>
<path d="M212.4,470.6 L214.4,470.3 L215.9,472.4 L214.4,474.1 L211.6,474.6 L210.0,472.5 L211.8,471.3 L212.4,470.6" fill="none" stroke="#1a1a1a" stroke-width="1.0" stroke-linejoin="round"/>
<path d="M199.5,499.6 L203.3,501.0 L203.9,504.1 L199.7,503.6 L199.5,499.6" fill="none" stroke="#1a1a1a" stroke-width="1.0" stroke-linejoin="round"/>
<path d="M213.7,541.5 L215.5,542.7 L214.2,544.7 L211.3,544.1 L209.1,543.3 L211.8,540.9 L213.7,541.5" fill="none" stroke="#1a1a1a" stroke-width="1.0" stroke-linejoin="round"/>
<path d="M208.6,478.3 L209.6,477.0 L210.0,479.1 L210.3,480.7 L208.9,480.8 L207.2,480.1 L208.6,478.3" fill="none" stroke="#1a1a1a" stroke-width="1.0" stroke-linejoin="round"/>
<path d="M212.8,527.9 L212.7,528.7 L211.5,528.5 L210.2,528.0 L210.7,527.4 L211.6,526.1 L212.2,526.7 L212.8,527.9" fill="none" stroke="#1a1a1a" stroke-width="1.0" stroke-linejoin="round"/>
<path d="M216.8,522.2 L219.7,518.9 L222.3,521.0 L222.5,523.4 L219.5,523.4 L216.8,522.2" fill="none" stroke="#1a1a1a" stroke-width="1.0" stroke-linejoin="round"/>
<path d="M207.3,499.1 L205.4,498.9 L204.4,498.5 L203.2,497.2 L205.1,496.4 L206.2,497.1 L206.4,497.4 L207.3,499.1" fill="none" stroke="#1a1a1a" stroke-width="1.0" stroke-linejoin="round"/>
<path d="M217.0,492.1 L216.5,490.6 L218.1,489.6 L219.2,490.6 L219.2,492.0 L217.9,493.5 L217.0,492.1" fill="none" stroke="#1a1a1a" stroke-width="1.0" stroke-linejoin="round"/>
<path d="M210.4,508.8 L211.7,507.8 L212.5,507.9 L213.7,508.6 L212.8,509.4 L211.6,510.0 L210.4,508.8" fill="none" stroke="#1a1a1a" stroke-width="1.0" stroke-linejoin="round"/>
<path d="M206.5,468.3 L207.0,467.6 L208.1,467.9 L208.1,468.4 L208.1,469.2 L207.3,469.2 L207.1,469.4 L206.5,468.3" fill="none" stroke="#1a1a1a" stroke-width="1.0" stroke-linejoin="round"/>
<path d="M214.3,505.7 L212.5,504.8 L214.0,503.5 L215.6,504.1 L215.6,504.9 L215.2,505.9 L214.3,505.7" fill="none" stroke="#1a1a1a" stroke-width="1.0" stroke-linejoin="round"/>
<path d="M251.2,586.1 L247.0,586.4 L247.7,582.7 L252.3,580.9 L251.2,586.1" fill="none" stroke="#1a1a1a" stroke-width="1.0" stroke-linejoin="round"/>
<path d="M213.6,527.6 L212.4,525.3 L213.1,522.4 L216.0,524.7 L213.6,527.6" fill="none" stroke="#1a1a1a" stroke-width="1.0" stroke-linejoin="round"/>
<path d="M215.7,558.7 L216.9,558.4 L217.1,559.7 L215.8,560.0 L215.7,558.7" fill="none" stroke="#1a1a1a" stroke-width="1.0" stroke-linejoin="round"/>
<path d="M216.3,532.5 L215.1,534.0 L213.3,532.4 L215.3,531.5 L216.3,532.5" fill="none" stroke="#1a1a1a" stroke-width="1.0" stroke-linejoin="round"/>
<path d="M248.6,586.3 L247.1,584.9 L247.4,583.3 L249.3,583.9 L248.6,586.3" fill="none" stroke="#1a1a1a" stroke-width="1.0" stroke-linejoin="round"/>
<path d="M223.3,549.5 L223.8,551.9 L222.3,553.4 L221.6,550.8 L223.3,549.5" fill="none" stroke="#1a1a1a" stroke-width="1.0" stroke-linejoin="round"/>
<path d="M220.1,555.2 L223.2,555.6 L225.6,554.4 L224.5,557.2 L224.5,559.2 L221.6,558.5 L220.6,557.7 L220.1,555.2" fill="none" stroke="#1a1a1a" stroke-width="1.0" stroke-linejoin="round"/>
<path d="M200.5,496.8 L199.4,495.3 L200.6,494.4 L201.6,495.0 L201.3,495.7 L200.5,496.8" fill="none" stroke="#1a1a1a" stroke-width="1.0" stroke-linejoin="round"/>
<path d="M202.0,489.7 L206.7,488.6 L208.8,491.2 L204.1,492.3 L202.0,489.7" fill="none" stroke="#1a1a1a" stroke-width="1.0" stroke-linejoin="round"/>
<path d="M215.2,527.1 L214.8,527.4 L213.5,527.4 L211.6,527.0 L212.2,525.4 L213.8,525.6 L215.7,525.6 L215.2,527.1" fill="none" stroke="#1a1a1a" stroke-width="1.0" stroke-linejoin="round"/>
<path d="M212.5,489.8 L211.0,488.7 L212.5,486.6 L213.3,486.3 L214.5,487.7 L214.5,489.9 L212.5,489.8" fill="none" stroke="#1a1a1a" stroke-width="1.0" stroke-linejoin="round"/>
<path d="M222.1,562.0 L223.7,565.1 L220.9,565.9 L219.9,563.6 L222.1,562.0" fill="none" stroke="#1a1a1a" stroke-width="1.0" stroke-linejoin="round"/>
<path d="M191.8,464.2 L192.2,462.0 L194.9,461.7 L195.4,463.0 L194.6,465.0 L191.8,464.2" fill="none" stroke="#1a1a1a" stroke-width="1.0" stroke-linejoin="round"/>
<path d="M254.4,589.2 L254.4,587.2 L256.3,587.7 L257.4,588.5 L255.9,589.5 L254.4,589.2" fill="none" stroke="#1a1a1a" stroke-width="1.0" stroke-linejoin="round"/>
<path d="M219.7,555.9 L218.8,554.1 L219.0,553.1 L220.4,552.4 L220.4,554.2 L219.7,555.9" fill="none" stroke="#1a1a1a" stroke-width="1.0" stroke-linejoin="round"/>
<path d="M188.2,456.1 L188.0,457.5 L186.2,461.2 L183.4,458.6 L184.6,454.2 L188.2,456.1" fill="none" stroke="#1a1a1a" stroke-width="1.0" stroke-linejoin="round"/>
<path d="M208.6,515.7 L205.4,515.6 L205.3,513.0 L207.5,511.8 L208.6,515.7" fill="none" stroke="#1a1a1a" stroke-width="1.0" stroke-linejoin="round"/>
<path d="M214.5,542.5 L214.8,541.7 L215.2,541.0 L216.0,541.2 L216.3,542.2 L215.3,543.1 L214.5,542.5" fill="none" stroke="#1a1a1a" stroke-width="1.0" stroke-linejoin="round"/>
<path d="M204.4,508.7 L202.0,505.6 L205.6,503.2 L208.9,505.3 L207.7,508.2 L205.5,509.5 L204.4,508.7" fill="none" stroke="#1a1a1a" stroke-width="1.0" stroke-linejoin="round"/>
<path d="M197.2,473.7 L197.1,472.7 L198.3,473.0 L199.1,473.4 L198.7,474.1 L197.7,474.7 L197.2,473.7" fill="none" stroke="#1a1a1a" stroke-width="1.0" stroke-linejoin="round"/>
<path d="M230.1,580.6 L228.2,579.7 L230.3,577.6 L231.8,578.4 L232.8,581.3 L230.1,580.6" fill="none" stroke="#1a1a1a" stroke-width="1.0" stroke-linejoin="round"/>
<path d="M229.8,539.1 L231.0,540.8 L229.4,541.6 L227.8,541.5 L227.0,539.6 L229.8,539.1" fill="none" stroke="#1a1a1a" stroke-width="1.0" stroke-linejoin="round"/>
<path d="M221.9,530.3 L220.8,530.4 L220.2,529.9 L220.4,528.8 L221.3,528.7 L221.5,529.3 L221.9,530.3" fill="none" stroke="#1a1a1a" stroke-width="1.0" stroke-linejoin="round"/>
<path d="M209.3,517.7 L208.8,519.3 L209.1,521.8 L207.4,522.4 L206.7,520.3 L204.2,519.0 L206.6,518.4 L209.3,517.7" fill="none" stroke="#1a1a1a" stroke-width="1.0" stroke-linejoin="round"/>
<path d="M239.3,556.2 L238.6,557.0 L237.1,557.2 L237.0,553.7 L239.5,553.4 L239.3,556.2" fill="none" stroke="#1a1a1a" stroke-width="1.0" stroke-linejoin="round"/>
<path d="M221.4,553.1 L217.8,552.8 L216.8,551.7 L218.4,550.0 L220.5,549.7 L220.5,551.4 L221.4,553.1" fill="none" stroke="#1a1a1a" stroke-width="1.0" stroke-linejoin="round"/>
<path d="M217.0,475.3 L214.6,476.7 L213.7,475.2 L213.5,472.8 L215.3,473.0 L218.1,472.5 L217.4,474.7 L217.0,475.3" fill="none" stroke="#1a1a1a" stroke-width="1.0" stroke-linejoin="round"/>
<path d="M218.5,489.8 L216.7,488.6 L218.2,486.7 L219.8,485.8 L222.0,488.5 L220.6,490.8 L218.5,489.8" fill="none" stroke="#1a1a1a" stroke-width="1.0" stroke-linejoin="round"/>
<path d="M219.5,555.5 L219.3,554.5 L220.4,554.4 L221.5,554.1 L222.2,555.0 L221.5,556.0 L220.5,556.4 L219.5,555.5" fill="none" stroke="#1a1a1a" stroke-width="1.0" stroke-linejoin="round"/>
<path d="M222.7,565.9 L223.4,565.7 L223.5,567.2 L222.4,566.8 L221.6,566.3 L222.7,565.9" fill="none" stroke="#1a1a1a" stroke-width="1.0" stroke-linejoin="round"/>
<path d="M219.9,535.1 L218.2,535.3 L218.4,533.9 L218.6,533.3 L220.8,531.2 L221.0,533.8 L221.7,535.4 L219.9,535.1" fill="none" stroke="#1a1a1a" stroke-width="1.0" stroke-linejoin="round"/>
<path d="M229.6,541.3 L228.5,541.8 L227.2,541.2 L227.2,539.8 L228.2,539.0 L228.9,539.3 L229.6,541.3" fill="none" stroke="#1a1a1a" stroke-width="1.0" stroke-linejoin="round"/>
<path d="M211.2,486.9 L212.2,487.0 L212.6,488.3 L211.8,489.8 L210.9,489.3 L210.9,487.8 L211.2,486.9" fill="none" stroke="#1a1a1a" stroke-width="1.0" stroke-linejoin="round"/>
<path d="M214.1,487.4 L211.8,487.6 L209.3,483.9 L211.9,481.9 L215.0,482.4 L214.5,484.8 L214.1,487.4" fill="none" stroke="#1a1a1a" stroke-width="1.0" stroke-linejoin="round"/>
<path d="M236.0,585.7 L236.9,583.2 L238.6,581.0 L239.8,583.7 L239.4,585.0 L236.0,585.7" fill="none" stroke="#1a1a1a" stroke-width="1.0" stroke-linejoin="round"/>
<path d="M208.7,470.0 L209.6,471.0 L208.8,472.6 L208.2,471.2 L208.7,470.0" fill="none" stroke="#1a1a1a" stroke-width="1.0" stroke-linejoin="round"/>
<path d="M248.4,579.9 L246.8,579.0 L247.7,577.3 L248.6,577.1 L248.9,578.2 L248.4,579.9" fill="none" stroke="#1a1a1a" stroke-width="1.0" stroke-linejoin="round"/>
<path d="M218.1,541.3 L217.8,542.4 L216.2,543.1 L215.4,540.9 L216.3,540.5 L217.9,540.0 L218.1,541.3" fill="none" stroke="#1a1a1a" stroke-width="1.0" stroke-linejoin="round"/>
<path d="M224.5,556.3 L226.6,557.6 L226.9,559.8 L224.0,559.7 L223.3,558.6 L224.5,556.3" fill="none" stroke="#1a1a1a" stroke-width="1.0" stroke-linejoin="round"/>
<path d="M235.4,547.1 L233.9,550.6 L231.7,549.8 L231.1,549.1 L230.1,546.0 L233.8,545.0 L235.4,547.1" fill="none" stroke="#1a1a1a" stroke-width="1.0" stroke-linejoin="round"/>
<path d="M200.5,465.8 L200.7,466.6 L199.7,467.4 L198.9,467.1 L197.6,466.7 L198.0,466.0 L199.3,465.1 L200.5,465.8" fill="none" stroke="#1a1a1a" stroke-width="1.0" stroke-linejoin="round"/>
<path d="M210.5,533.9 L210.7,536.3 L208.9,537.0 L207.8,535.9 L208.0,533.3 L210.5,533.9" fill="none" stroke="#1a1a1a" stroke-width="1.0" stroke-linejoin="round"/>
<path d="M208.3,519.1 L211.3,521.1 L210.2,524.6 L208.2,525.3 L205.3,521.9 L208.3,519.1" fill="none" stroke="#1a1a1a" stroke-width="1.0" stroke-linejoin="round"/>
<path d="M215.8,541.7 L216.2,542.7 L215.6,543.6 L214.5,543.1 L214.5,541.9 L215.8,541.7" fill="none" stroke="#1a1a1a" stroke-width="1.0" stroke-linejoin="round"/>
<path d="M226.2,548.1 L225.2,549.0 L223.6,550.2 L222.4,548.5 L222.2,546.3 L224.5,544.6 L226.5,546.1 L226.2,548.1" fill="none" stroke="#1a1a1a" stroke-width="1.0" stroke-linejoin="round"/>
<path d="M200.3,484.1 L199.7,484.0 L199.6,482.8 L200.7,482.5 L201.6,482.6 L201.8,483.8 L201.6,484.2 L200.3,484.1" fill="none" stroke="#1a1a1a" stroke-width="1.0" stroke-linejoin="round"/>
<path d="M229.2,541.7 L229.5,543.0 L229.4,543.4 L227.7,544.3 L226.9,542.5 L227.3,541.8 L228.7,540.9 L229.2,541.7" fill="none" stroke="#1a1a1a" stroke-width="1.0" stroke-linejoin="round"/>
<path d="M212.7,500.0 L212.2,498.5 L214.8,498.0 L216.1,499.3 L215.1,500.9 L212.7,500.0" fill="none" stroke="#1a1a1a" stroke-width="1.0" stroke-linejoin="round"/>
<path d="M221.0,550.5 L219.1,548.3 L220.7,547.0 L222.1,547.1 L222.0,549.5 L221.0,550.5" fill="none" stroke="#1a1a1a" stroke-width="1.0" stroke-linejoin="round"/>
<path d="M208.4,481.2 L207.0,477.9 L210.0,476.2 L211.3,477.7 L211.1,481.3 L208.4,481.2" fill="none" stroke="#1a1a1a" stroke-width="1.0" stroke-linejoin="round"/>
<path d="M205.1,487.2 L206.5,487.8 L207.3,488.7 L206.8,489.9 L205.7,491.0 L205.0,489.6 L204.5,488.7 L205.1,487.2" fill="none" stroke="#1a1a1a" stroke-width="1.0" stroke-linejoin="round"/>
<path d="M244.1,584.3 L246.6,582.9 L249.0,581.2 L252.0,581.5 L254.4,583.2 L257.0,582.3 L259.5,583.0 L262.3,582.0 L264.6,583.5 L267.1,584.1 L269.8,584.2 L272.1,585.2 L275.1,585.0 L277.9,587.6 L281.0,586.8 L284.0,587.0 L286.9,588.3 L289.9,588.6 L293.1,587.9 L295.5,588.0 L292.9,590.3 L290.1,590.6 L287.5,592.5 L285.0,592.1 L282.4,592.8 L280.1,590.4 L277.5,590.8 L275.1,590.1 L272.5,591.2 L270.1,589.4 L267.6,589.7 L265.1,589.4 L262.4,591.6 L260.2,589.0 L257.2,588.2 L254.1,588.3 L251.0,588.7 L248.3,587.7 L245.5,586.5 L244.0,584.0" fill="none" stroke="#1a1a1a" stroke-width="1.3" stroke-linejoin="round"/>
<path d="M248.0,585.7 L250.9,587.1 L254.0,586.5 L257.0,586.6 L260.1,586.2 L262.5,587.7 L265.0,586.6 L267.4,588.9 L270.1,586.9 L272.4,589.2 L275.2,586.8 L277.5,588.2 L280.0,588.8 L282.3,590.3 L284.9,590.4 L287.6,589.1 L290.0,590.0" fill="none" stroke="#1a1a1a" stroke-width="1.3" stroke-linejoin="round"/>
<path d="M245.9,589.4 L248.7,588.3 L251.3,588.5 L254.0,588.4 L256.7,587.7 L259.4,587.4 L262.0,588.7 L264.6,589.3 L267.1,590.4 L269.8,589.4 L272.1,591.5 L275.0,589.3 L277.4,591.2 L280.0,591.0" fill="none" stroke="#1a1a1a" stroke-width="1.3" stroke-linejoin="round"/>
<path d="M240.0,578.6 L242.5,581.4 L245.0,579.1 L247.5,581.5 L249.9,581.3 L253.1,579.5 L256.0,580.5 L259.0,580.4 L262.0,580.7 L264.5,582.4 L267.2,583.0 L270.1,581.8 L272.6,583.1 L275.2,584.0 L278.0,584.3 L280.8,583.3 L283.2,584.5 L285.7,585.3 L288.1,587.0 L290.7,587.1 L293.3,587.1 L296.0,587.0" fill="none" stroke="#1a1a1a" stroke-width="1.3" stroke-linejoin="round"/>
<path d="M221.6,559.0 L224.4,558.8 L227.4,559.0 L229.4,556.9 L232.5,555.4 L233.7,557.9 L236.3,558.5 L237.8,560.7 L240.7,562.4 L238.0,564.3 L238.5,567.9 L235.9,570.6 L233.8,568.2 L230.8,570.2 L228.4,568.8 L225.2,568.4 L224.3,565.5 L223.5,562.6 L222.0,560.0" fill="none" stroke="#1a1a1a" stroke-width="1.3" stroke-linejoin="round"/>
<path d="M235.7,571.1 L238.5,571.4 L240.9,570.8 L243.0,569.0 L245.3,567.9 L247.6,568.7 L250.3,569.8 L253.5,570.2 L255.4,572.7 L257.6,573.6 L255.6,575.6 L253.3,577.3 L252.0,578.6 L249.0,579.5 L246.0,578.6 L243.0,580.0 L239.4,580.3 L239.8,576.8 L236.7,575.0 L236.0,572.0" fill="none" stroke="#1a1a1a" stroke-width="1.3" stroke-linejoin="round"/>
<path d="M427.5,545.6 L428.5,542.7 L430.8,540.7 L432.9,538.1 L434.3,535.9 L438.9,535.2 L443.5,535.8 L446.6,534.0 L449.1,536.4 L452.0,535.8 L455.6,534.2 L456.7,535.8 L454.7,538.3 L453.2,541.7 L449.6,541.5 L447.4,543.3 L443.0,544.9 L439.5,547.7 L435.4,547.4 L433.4,548.2 L430.8,546.4 L427.5,545.6" fill="none" stroke="#1a1a1a" stroke-width="1.3" stroke-linejoin="round"/>
<path d="M460.7,537.1 L463.8,531.8 L466.9,533.6 L470.1,532.8 L473.1,534.2 L476.4,534.7 L479.5,535.7 L481.9,537.0 L482.8,539.0 L480.0,542.0 L476.0,541.1 L473.7,542.4 L471.3,543.6 L468.3,544.1 L467.4,546.1 L464.9,546.7 L462.5,547.7 L459.4,547.2 L457.0,549.0 L454.9,551.3 L452.3,549.5 L450.8,545.9 L452.6,543.6 L454.8,541.6 L458.2,541.5 L458.8,538.8 L460.0,536.3" fill="none" stroke="#1a1a1a" stroke-width="1.3" stroke-linejoin="round"/>
<path d="M464.9,536.6 L467.4,536.0 L469.9,535.9 L472.3,536.9 L474.3,536.6 L473.0,540.1 L470.0,540.8 L467.7,540.7 L465.0,537.0" fill="none" stroke="#1a1a1a" stroke-width="1.0" stroke-linejoin="round"/>
<path d="M430.1,544.5 L432.2,542.1 L435.3,543.4 L437.5,541.9 L439.9,540.6 L442.7,541.0 L445.2,540.0 L447.5,538.8 L450.0,538.0" fill="none" stroke="#1a1a1a" stroke-width="1.0" stroke-linejoin="round"/>
<path d="M456.1,545.9 L459.0,544.3 L462.4,545.3 L464.8,542.3 L468.0,542.0" fill="none" stroke="#1a1a1a" stroke-width="1.0" stroke-linejoin="round"/>
<path d="M206.0,379.0 L209.0,379.8 L213.2,379.7 L213.6,382.4 L213.1,385.4 L214.4,388.1 L213.2,390.8 L212.9,393.7 L210.5,395.2 L208.3,397.2 L206.0,399.0 L205.4,396.0 L203.9,393.2 L204.2,390.0 L205.1,387.6 L204.3,384.9 L204.7,382.3 L206.0,380.0" fill="none" stroke="#1a1a1a" stroke-width="1.0" stroke-linejoin="round"/>
<path d="M234.1,370.0 L231.3,372.5 L232.0,375.0 L231.7,377.5 L231.7,379.8 L231.9,383.0 L231.2,386.1 L232.3,389.7 L230.5,392.2 L229.1,394.8 L229.2,398.0 L228.3,400.8 L227.0,403.4 L227.6,406.2 L225.7,408.7 L225.2,411.4 L225.4,413.7 L227.8,415.5 L228.5,418.8 L230.7,419.9 L229.7,423.0 L227.3,424.9 L225.2,427.2 L223.5,429.6 L221.0,431.3 L221.4,434.4 L219.5,436.3 L218.2,438.7 L218.3,441.7 L216.8,444.2 L216.3,447.0 L215.4,449.5 L213.9,452.7 L211.0,454.4" fill="none" stroke="#1a1a1a" stroke-width="1.0" stroke-linejoin="round"/>
<path d="M200.0,441.8 L203.5,440.8 L207.2,439.9 L209.3,442.8 L211.5,446.5 L209.2,449.2 L205.8,451.7 L203.2,449.3 L199.6,449.0 L199.2,445.5 L200.0,442.0" fill="none" stroke="#1a1a1a" stroke-width="1.0" stroke-linejoin="round"/>
<path d="M204.7,399.8 L203.5,402.7 L204.7,405.9 L205.6,409.2 L202.9,411.8 L204.0,415.1 L201.7,417.8 L203.2,421.1 L201.7,423.9 L199.7,425.8 L201.5,429.7 L199.1,431.5 L197.6,433.8 L196.8,436.4 L193.2,437.6 L195.3,441.6 L192.6,443.3 L192.0,446.0 L191.3,448.9 L189.9,451.2 L185.6,451.5 L186.0,455.1 L184.0,457.0" fill="none" stroke="#1a1a1a" stroke-width="1.1" stroke-linejoin="round"/>
<path d="M427.4,545.4 L429.9,542.9 L433.3,541.4 L435.9,540.2 L438.0,538.3 L440.9,537.0 L444.0,537.0" fill="none" stroke="#1a1a1a" stroke-width="1.1" stroke-linejoin="round"/>
<path d="M431.3,548.6 L434.0,546.5 L436.5,544.1 L440.1,543.6 L442.7,541.4 L445.4,541.1 L448.2,541.2 L450.0,539.0" fill="none" stroke="#1a1a1a" stroke-width="1.1" stroke-linejoin="round"/>
<path d="M455.5,549.5 L457.5,547.5 L458.2,544.4 L461.3,543.6 L462.0,541.0" fill="none" stroke="#1a1a1a" stroke-width="1.1" stroke-linejoin="round"/>
<path d="M457.4,549.0 L460.0,547.7 L463.7,548.0 L464.6,545.0 L467.0,544.0" fill="none" stroke="#1a1a1a" stroke-width="1.1" stroke-linejoin="round"/>
<path d="M476.2,539.9 L478.4,538.2 L480.7,538.5 L484.0,540.0" fill="none" stroke="#1a1a1a" stroke-width="1.1" stroke-linejoin="round"/>
<path d="M463.1,535.7 L465.2,533.2 L468.1,533.5 L472.0,535.0" fill="none" stroke="#1a1a1a" stroke-width="1.1" stroke-linejoin="round"/>
<path d="M363.1,593.8 L365.6,593.7 L367.9,591.8 L370.5,592.1 L373.0,591.8 L375.5,591.1 L377.9,590.3 L381.0,590.5" fill="none" stroke="#1a1a1a" stroke-width="1.2" stroke-linejoin="round"/>
<path d="M363.9,593.9 L367.0,593.9 L370.1,594.3 L373.0,593.4 L376.0,593.0 L380.0,592.0" fill="none" stroke="#1a1a1a" stroke-width="1.2" stroke-linejoin="round"/>
<path d="M329.3,53.8 L330.0,51.3 L331.3,49.0 L333.1,47.4 L334.5,45.4 L336.7,44.7 L338.7,43.6 L340.6,42.6 L343.2,42.5 L345.5,43.8 L348.0,44.3 L350.4,45.4 L353.0,44.8 L356.1,46.1 L359.4,45.1 L361.6,46.9 L364.4,47.6 L367.2,49.0 L368.7,47.1 L370.7,46.1 L372.5,44.7 L374.8,44.4 L377.1,43.5 L379.4,42.6 L381.9,42.7 L384.3,42.7 L386.7,43.0 L389.1,43.7 L391.5,43.6 L394.0,44.1 L396.7,43.5 L398.1,45.6 L400.0,46.9 L402.1,47.7 L403.9,48.8 L405.4,50.8 L407.8,52.0 L408.9,54.2 L410.9,55.7 L411.7,58.3 L413.8,59.9 L416.1,61.3 L417.6,63.5 L419.1,65.6 L421.2,67.3 L423.3,68.1 L424.4,70.3 L426.9,70.7 L428.0,72.9 L429.7,74.4 L431.6,75.5 L433.4,77.1 L436.1,77.2 L438.7,77.4 L441.0,78.3 L443.4,79.3 L445.9,80.0 L448.3,80.2 L450.2,81.7 L452.8,81.2 L454.8,82.6 L457.3,82.8 L459.1,84.4 L460.6,86.4 L463.3,86.6 L464.6,88.9 L466.7,90.1 L468.9,90.8 L471.2,91.0 L473.0,92.5 L474.8,93.8 L477.3,94.1 L479.0,96.2 L481.1,97.8 L482.2,100.5 L483.8,101.8 L483.0,104.3 L482.4,106.8 L481.8,109.3 L480.9,111.8 L478.9,113.4 L477.1,115.1 L475.6,117.1 L475.0,119.5 L474.2,121.6 L473.3,123.6 L471.5,125.8 L473.7,127.1 L474.4,129.1 L476.9,129.7 L479.3,130.8 L481.9,130.2 L484.4,130.9 L486.7,132.1 L489.4,131.6 L491.9,132.2 L494.4,132.5 L496.7,134.3 L499.3,133.8 L501.8,134.2 L504.2,134.0 L506.7,134.9 L509.3,134.5 L511.7,133.5 L514.1,132.5 L516.5,131.4 L519.3,130.9 L521.3,128.7 L524.1,128.1 L525.7,126.2 L527.6,124.7 L529.6,123.3 L531.1,121.7 L532.4,119.4 L532.4,116.7 L533.1,114.2 L534.0,111.7 L534.7,109.1 L536.9,107.1 L537.7,104.4 L540.8,104.0 L543.7,103.5 L546.7,104.7 L548.3,107.0 L549.4,109.4 L549.6,111.8 L549.8,114.3 L549.8,116.8 L549.4,119.3 L549.9,121.9 L548.7,124.2 L549.0,126.9 L547.2,128.3 L544.9,128.8 L543.0,130.0 L541.3,131.2 L539.0,132.6 L536.3,132.4 L533.9,133.2 L531.1,133.7 L529.4,135.2 L527.4,136.1 L525.9,138.0 L523.8,138.9 L521.9,140.1 L520.3,141.6 L518.4,142.9 L516.7,144.2 L515.2,145.9 L514.8,148.2 L513.4,149.9 L512.6,152.1 L511.5,153.9 L510.4,156.2 L509.2,158.4 L507.0,159.9 L506.1,162.3 L504.3,164.1 L502.3,165.4 L501.3,167.7 L498.8,168.5 L497.5,170.5 L495.9,172.2 L494.1,173.7 L492.9,176.3 L491.1,178.4 L488.6,179.8 L486.9,181.9 L485.4,183.9 L483.8,185.7 L483.1,188.2 L481.8,190.3 L479.4,191.8 L480.0,194.7 L478.7,197.1 L478.0,199.6 L476.9,202.1 L477.5,204.9 L476.2,207.2 L476.6,209.9 L475.7,212.3 L475.1,214.7 L474.3,217.1 L475.0,219.8 L473.5,222.1 L473.7,224.8 L472.7,227.2 L471.3,229.4 L470.9,232.0 L471.3,234.7 L470.8,237.3 L470.1,239.5 L469.5,242.1 L470.9,244.4 L470.3,247.2 L471.5,249.7 L472.8,252.1 L474.1,254.9 L476.3,255.6 L478.2,256.8 L480.4,257.5 L482.3,258.6 L484.8,259.0 L486.4,261.5 L488.0,264.0 L490.7,265.5 L491.5,268.2 L493.4,270.7 L492.4,273.1 L491.8,275.5 L493.2,277.4 L495.3,278.7 L496.8,280.5 L499.0,282.0 L500.4,284.2 L499.9,286.7 L500.7,289.1 L500.3,291.6 L500.4,294.1 L500.1,296.7 L498.6,299.0 L498.3,301.9 L496.3,303.3 L494.4,304.9 L493.6,307.3 L491.7,308.8 L489.9,310.4 L487.7,311.3 L486.1,313.1 L483.9,314.0 L481.8,314.8 L479.5,316.3 L477.0,316.9 L474.6,317.8 L472.1,318.7 L469.4,318.8 L466.9,319.2 L464.5,320.2 L462.1,320.9 L459.6,321.7 L457.2,322.4 L454.5,322.1 L452.1,323.1 L449.6,323.2 L447.2,324.1 L444.7,324.6 L442.3,325.2 L439.7,325.1 L437.2,325.3 L434.7,325.4 L432.2,325.5 L429.7,325.7 L427.2,325.6 L424.7,326.0 L422.3,326.4 L419.8,326.6 L417.4,327.2 L414.9,327.6 L412.3,327.5 L409.8,327.9 L407.5,329.0 L405.7,331.1 L405.1,333.8 L405.0,336.7 L406.4,339.6 L405.6,342.1 L405.1,344.6 L405.8,347.0 L405.3,349.1 L403.9,351.0 L402.9,353.3 L401.2,354.9 L399.3,356.3 L397.0,357.3 L395.8,359.2 L393.3,359.6 L390.8,359.6 L388.4,360.7 L385.9,361.3 L383.4,361.3 L380.8,361.0 L378.3,362.4 L375.9,361.5 L373.4,361.4 L370.9,360.8 L368.4,360.8 L366.1,359.3 L363.7,359.7 L361.3,360.4 L359.9,361.9 L360.1,364.3 L361.2,366.5 L360.6,369.2 L361.0,371.8 L361.4,374.4 L360.8,378.0 L362.3,380.0 L364.6,380.8 L366.9,382.7 L369.8,382.9 L372.2,382.3 L374.5,381.3 L376.5,379.6 L379.3,378.4 L381.3,380.1 L383.8,380.6 L384.8,383.2 L385.2,386.0 L384.0,388.6 L383.8,391.4 L381.0,392.2 L378.3,392.9 L374.9,391.0 L372.6,390.5 L370.7,388.5 L368.2,387.5 L366.2,388.9 L364.5,391.2 L361.7,391.7 L362.7,392.6 L365.6,392.7 L368.2,394.4 L370.7,393.5 L372.9,394.4 L371.0,395.8 L368.9,396.5 L366.6,396.7 L364.2,397.8 L362.0,399.2 L360.0,401.6 L358.1,405.0 L356.6,408.0 L357.0,410.9 L357.2,413.8 L357.4,416.7 L356.2,419.6 L355.1,422.7 L352.8,424.2 L351.2,426.0 L350.9,427.5 L348.1,427.3 L345.2,427.6 L342.9,428.8 L340.4,429.2 L337.8,429.5 L335.6,431.1 L332.8,431.3 L330.9,433.1 L328.2,433.6 L326.7,435.6 L324.6,436.9 L322.9,439.0 L320.8,440.6 L319.4,442.9 L317.9,445.4 L318.4,447.7 L318.3,450.0 L318.9,452.6 L321.9,453.7 L324.0,455.8 L326.1,458.0 L328.6,459.2 L331.3,459.5 L333.7,460.6 L336.5,460.1 L339.1,460.8 L341.1,461.8 L343.3,462.3 L345.3,463.6 L347.6,463.6 L348.4,466.7 L349.3,469.9 L347.6,472.1 L347.8,474.9 L346.6,477.9 L344.0,478.0 L341.3,478.0 L339.1,479.4 L336.5,479.7 L334.8,481.2 L332.7,482.0 L330.3,482.2 L328.4,483.3 L326.9,485.2 L324.4,485.4 L322.9,487.2 L321.3,488.8 L319.3,489.7 L317.3,491.8 L317.0,494.8 L315.2,496.8 L312.9,497.8 L310.8,499.0 L308.7,500.5 L306.4,501.5 L305.2,503.7 L302.8,504.3 L300.8,505.2 L299.3,507.0 L298.1,509.1 L296.2,510.5 L294.4,512.0 L293.2,514.5 L291.6,516.8 L291.0,519.5 L290.4,522.1 L288.7,524.3 L287.4,526.9 L288.5,529.3 L288.6,531.8 L289.1,534.5 L290.4,536.3 L291.5,538.2 L293.6,539.5 L294.1,541.9 L296.0,543.3 L297.7,544.9 L299.0,547.0 L302.1,548.1 L304.3,549.8 L302.1,549.5 L299.9,549.0 L297.8,548.4 L295.4,548.9 L293.4,548.0 L291.3,547.1 L289.0,547.1 L286.8,546.4 L284.3,547.2 L281.9,546.3 L279.4,547.1 L276.9,546.4 L274.4,547.0 L272.0,546.5 L269.5,546.7 L267.3,546.4 L265.1,546.6 L262.9,545.7 L260.7,545.9 L258.5,545.4 L256.2,545.3 L254.0,545.4 L251.8,545.4 L249.7,545.4 L244.9,541.2 L240.5,534.4 L239.6,530.0 L239.1,525.8 L236.5,522.1 L231.8,519.8 L227.9,516.5 L223.1,512.4 L219.5,506.9 L219.4,499.1 L222.8,496.3 L228.5,496.4 L232.0,493.5 L233.9,489.3 L239.5,482.8 L238.9,477.4 L240.9,473.1 L240.5,467.4 L247.3,465.2 L245.7,457.3 L247.6,449.4 L248.4,445.5 L247.3,438.9 L248.1,434.2 L253.7,430.4 L254.5,425.3 L252.3,420.5 L250.6,416.3 L252.1,410.9 L246.6,406.2 L248.5,399.3 L245.9,393.0 L243.5,387.2 L243.8,381.3 L244.6,376.6 L245.5,371.9 L248.6,367.4 L248.4,361.2 L250.2,355.6 L246.3,349.5 L248.4,344.8 L250.4,340.5 L252.4,336.9 L255.9,333.5 L256.6,328.6 L257.1,325.3 L260.2,324.5 L260.8,322.1 L260.9,319.5 L259.7,317.2 L259.2,314.7 L259.8,312.0 L260.8,309.5 L259.1,307.2 L258.2,304.9 L259.8,302.4 L258.5,299.9 L258.9,296.2 L260.1,293.9 L262.7,292.0 L263.7,289.5 L263.6,286.7 L264.8,284.2 L266.6,282.0 L267.0,279.3 L267.4,276.8 L268.7,274.4 L268.7,271.9 L269.6,269.5 L269.4,266.9 L270.7,264.6 L271.3,262.1 L270.5,259.1 L272.4,257.6 L273.2,255.5 L273.2,253.1 L274.4,251.2 L275.7,249.5 L277.4,247.1 L275.3,244.4 L278.0,242.1 L278.2,239.6 L277.0,237.0 L277.4,234.5 L276.3,232.1 L275.3,229.7 L275.0,227.3 L276.6,224.6 L275.1,222.3 L275.5,219.7 L274.7,217.3 L273.8,214.9 L274.5,212.4 L273.9,209.8 L274.3,206.9 L272.3,204.8 L272.7,202.0 L270.5,199.9 L270.7,197.8 L271.2,194.9 L271.3,191.9 L274.6,190.3 L275.0,187.6 L275.6,185.0 L276.2,182.4 L276.0,179.7 L278.8,177.7 L277.2,174.8 L277.8,172.3 L280.0,170.3 L280.0,166.8 L281.3,163.9 L281.6,161.4 L282.6,159.0 L283.9,156.7 L283.3,154.0 L283.3,151.2 L285.2,149.6 L285.5,147.3 L287.7,145.8 L286.5,142.9 L288.2,141.2 L289.0,139.1 L291.3,137.7 L291.5,134.8 L294.2,133.7 L295.2,131.4 L297.0,129.6 L298.5,127.7 L299.7,125.6 L301.5,123.9 L302.3,121.7 L303.5,119.4 L303.0,116.8 L303.8,114.4 L303.5,112.0 L304.1,109.3 L302.9,107.0 L302.8,104.4 L302.1,102.0 L301.9,99.5 L301.4,97.2 L302.5,95.1 L302.2,92.8 L302.8,90.6 L303.2,88.7 L305.0,86.4 L307.2,84.4 L309.0,82.1 L311.0,81.1 L313.3,80.6 L315.0,79.1 L316.7,77.5 L318.8,77.0 L320.2,75.0 L320.9,72.6 L322.2,70.6 L324.0,68.9 L324.8,66.5 L327.0,64.8 L326.4,62.4 L327.1,60.2 L327.3,57.9 L328.2,55.8 L328.9,53.6 Z" fill="none" stroke="#111" stroke-width="1.5" stroke-linejoin="round"/>
<path d="M300.5,555.4 L304.2,561.6 L311.7,569.0 L324.1,576.5 L336.5,583.9 L348.9,588.9 L358.8,591.4 L357.0,594.2 L345.0,594.5 L330.0,594.8 L315.0,594.5 L300.5,594.5 Z" fill="none" stroke="#111" stroke-width="1.1"/>
</g>
</g>
<rect x="703.3" y="29.3" width="380.0" height="567.2" fill="none" stroke="#555" stroke-width="1.3"/>
<line x1="715.2" y1="29.3" x2="715.2" y2="25.3" stroke="#555" stroke-width="1.2"/>
<line x1="715.2" y1="596.5" x2="715.2" y2="600.5" stroke="#555" stroke-width="1.2"/>
<line x1="799" y1="29.3" x2="799" y2="25.3" stroke="#555" stroke-width="1.2"/>
<line x1="799" y1="596.5" x2="799" y2="600.5" stroke="#555" stroke-width="1.2"/>
<line x1="882.8" y1="29.3" x2="882.8" y2="25.3" stroke="#555" stroke-width="1.2"/>
<line x1="882.8" y1="596.5" x2="882.8" y2="600.5" stroke="#555" stroke-width="1.2"/>
<line x1="966.6" y1="29.3" x2="966.6" y2="25.3" stroke="#555" stroke-width="1.2"/>
<line x1="966.6" y1="596.5" x2="966.6" y2="600.5" stroke="#555" stroke-width="1.2"/>
<line x1="1050.4" y1="29.3" x2="1050.4" y2="25.3" stroke="#555" stroke-width="1.2"/>
<line x1="1050.4" y1="596.5" x2="1050.4" y2="600.5" stroke="#555" stroke-width="1.2"/>
<line x1="703.3" y1="91.6" x2="699.3" y2="91.6" stroke="#555" stroke-width="1.2"/>
<line x1="1083.3" y1="91.6" x2="1087.3" y2="91.6" stroke="#555" stroke-width="1.2"/>
<line x1="703.3" y1="175.3" x2="699.3" y2="175.3" stroke="#555" stroke-width="1.2"/>
<line x1="1083.3" y1="175.3" x2="1087.3" y2="175.3" stroke="#555" stroke-width="1.2"/>
<line x1="703.3" y1="258.9" x2="699.3" y2="258.9" stroke="#555" stroke-width="1.2"/>
<line x1="1083.3" y1="258.9" x2="1087.3" y2="258.9" stroke="#555" stroke-width="1.2"/>
<line x1="703.3" y1="342.6" x2="699.3" y2="342.6" stroke="#555" stroke-width="1.2"/>
<line x1="1083.3" y1="342.6" x2="1087.3" y2="342.6" stroke="#555" stroke-width="1.2"/>
<line x1="703.3" y1="426.3" x2="699.3" y2="426.3" stroke="#555" stroke-width="1.2"/>
<line x1="1083.3" y1="426.3" x2="1087.3" y2="426.3" stroke="#555" stroke-width="1.2"/>
<line x1="703.3" y1="509.9" x2="699.3" y2="509.9" stroke="#555" stroke-width="1.2"/>
<line x1="1083.3" y1="509.9" x2="1087.3" y2="509.9" stroke="#555" stroke-width="1.2"/>
<line x1="703.3" y1="593.6" x2="699.3" y2="593.6" stroke="#555" stroke-width="1.2"/>
<line x1="1083.3" y1="593.6" x2="1087.3" y2="593.6" stroke="#555" stroke-width="1.2"/>
<text x="715.8000000000001" y="614.9" text-anchor="middle" font-size="16" fill="#454545">75ºO</text>
<text x="799.6" y="614.9" text-anchor="middle" font-size="16" fill="#454545">70ºO</text>
<text x="883.4" y="614.9" text-anchor="middle" font-size="16" fill="#454545">65ºO</text>
<text x="967.2" y="614.9" text-anchor="middle" font-size="16" fill="#454545">60ºO</text>
<text x="1051.0" y="614.9" text-anchor="middle" font-size="16" fill="#454545">55ºO</text>
<text x="699.6999999999999" y="97.0" text-anchor="end" font-size="16" fill="#454545">25ºS</text>
<text x="699.6999999999999" y="180.70000000000002" text-anchor="end" font-size="16" fill="#454545">30ºS</text>
<text x="699.6999999999999" y="264.29999999999995" text-anchor="end" font-size="16" fill="#454545">35ºS</text>
<text x="699.6999999999999" y="348.0" text-anchor="end" font-size="16" fill="#454545">40ºS</text>
<text x="699.6999999999999" y="431.7" text-anchor="end" font-size="16" fill="#454545">45ºS</text>
<text x="699.6999999999999" y="515.3" text-anchor="end" font-size="16" fill="#454545">50ºS</text>
<text x="699.6999999999999" y="599.0" text-anchor="end" font-size="16" fill="#454545">55ºS</text>
<path d="M766.8,57.1 A20.0,20.0 0 1 0 766.4,77.1" fill="none" stroke="#f2b21e" stroke-width="10.0"/>
<path d="M746.3,62.8 C758.3,60.8 768.3,64.8 783.3,60.5 L783.3,69.3 C768.3,73.3 758.3,69.3 746.3,71.3 Z" fill="#b4eef9"/>
<path d="M746.3,58.5 C758.3,56.5 768.3,60.5 783.3,56.2 L783.3,63.099999999999994 C768.3,67.1 758.3,63.099999999999994 746.3,65.1 Z" fill="#2383bd"/>
<path d="M746.3,69.6 C758.3,67.6 768.3,71.6 783.3,67.3 L783.3,75.0 C768.3,79.0 758.3,75.0 746.3,77.0 Z" fill="#2383bd"/>
<text x="722.6999999999999" y="118.8" font-size="27" fill="#4a4a4a" letter-spacing="-1.2">SMN</text>
<rect x="567" y="237.0" width="23.4" height="20.1" fill="#f03c1c"/>
<rect x="567" y="256.8" width="23.4" height="20.1" fill="#f45a28"/>
<rect x="567" y="276.5" width="23.4" height="20.1" fill="#f57838"/>
<rect x="567" y="296.3" width="23.4" height="20.1" fill="#f89050"/>
<rect x="567" y="316.0" width="23.4" height="20.1" fill="#f7a850"/>
<rect x="567" y="335.8" width="23.4" height="20.1" fill="#f5c050"/>
<rect x="567" y="355.6" width="23.4" height="20.1" fill="#f7e0a0"/>
<rect x="567" y="375.3" width="23.4" height="20.1" fill="#e8f08a"/>
<rect x="567" y="395.1" width="23.4" height="20.1" fill="#c8f070"/>
<rect x="567" y="414.8" width="23.4" height="20.1" fill="#90f070"/>
<rect x="567" y="434.6" width="23.4" height="20.1" fill="#80dca8"/>
<rect x="567" y="454.4" width="23.4" height="20.1" fill="#c8f4f4"/>
<rect x="567" y="474.1" width="23.4" height="20.6" fill="#a8e8f4"/>
<defs><linearGradient id="cbg" x1="0" y1="0" x2="0" y2="1"><stop offset="0" stop-color="#260404"/><stop offset="0.15" stop-color="#300505"/><stop offset="0.33" stop-color="#540606"/><stop offset="0.5" stop-color="#7c0606"/><stop offset="0.67" stop-color="#b00606"/><stop offset="0.8" stop-color="#d80606"/><stop offset="1" stop-color="#e80808"/></linearGradient></defs>
<rect x="567" y="119.1" width="23.4" height="118.2" fill="url(#cbg)"/>
<text x="594.6" y="143.6" font-size="15.3" fill="#333">44</text>
<text x="594.6" y="163.4" font-size="15.3" fill="#333">42</text>
<text x="594.6" y="183.1" font-size="15.3" fill="#333">40</text>
<text x="594.6" y="202.9" font-size="15.3" fill="#333">38</text>
<text x="594.6" y="222.6" font-size="15.3" fill="#333">36</text>
<text x="594.6" y="242.4" font-size="15.3" fill="#333">34</text>
<text x="594.6" y="262.2" font-size="15.3" fill="#333">32</text>
<text x="594.6" y="281.9" font-size="15.3" fill="#333">30</text>
<text x="594.6" y="301.7" font-size="15.3" fill="#333">28</text>
<text x="594.6" y="321.4" font-size="15.3" fill="#333">26</text>
<text x="594.6" y="341.2" font-size="15.3" fill="#333">24</text>
<text x="594.6" y="361.0" font-size="15.3" fill="#333">22</text>
<text x="594.6" y="380.7" font-size="15.3" fill="#333">20</text>
<text x="594.6" y="400.5" font-size="15.3" fill="#333">18</text>
<text x="594.6" y="420.2" font-size="15.3" fill="#333">16</text>
<text x="594.6" y="440.0" font-size="15.3" fill="#333">14</text>
<text x="594.6" y="459.8" font-size="15.3" fill="#333">12</text>
<text x="594.6" y="479.5" font-size="15.3" fill="#333">10</text>
<rect x="1091.2" y="133.5" width="22.9" height="26.8" fill="#363636"/>
<rect x="1091.2" y="160.0" width="22.9" height="27.5" fill="#4e4e4e"/>
<rect x="1091.2" y="187.2" width="22.9" height="27.5" fill="#960402"/>
<rect x="1091.2" y="214.3" width="22.9" height="27.5" fill="#9c0604"/>
<rect x="1091.2" y="241.5" width="22.9" height="27.5" fill="#d23c0a"/>
<rect x="1091.2" y="268.7" width="22.9" height="27.5" fill="#f56464"/>
<rect x="1091.2" y="295.9" width="22.9" height="27.5" fill="#f9a4ac"/>
<rect x="1091.2" y="323.0" width="22.9" height="27.5" fill="#fde6e6"/>
<rect x="1091.2" y="350.2" width="22.9" height="27.5" fill="#eeeefa"/>
<rect x="1091.2" y="377.4" width="22.9" height="27.5" fill="#d0d4f8"/>
<rect x="1091.2" y="404.5" width="22.9" height="27.5" fill="#9898f0"/>
<rect x="1091.2" y="431.7" width="22.9" height="27.5" fill="#6464cc"/>
<rect x="1091.2" y="458.9" width="22.9" height="27.5" fill="#1438a0"/>
<rect x="1091.2" y="486.0" width="22.9" height="25.9" fill="#000070"/>
<text x="1118.3" y="165.6" font-size="15.8" fill="#333">8</text>
<text x="1118.3" y="192.8" font-size="15.8" fill="#333">6</text>
<text x="1118.3" y="219.9" font-size="15.8" fill="#333">4</text>
<text x="1118.3" y="247.1" font-size="15.8" fill="#333">3</text>
<text x="1118.3" y="274.3" font-size="15.8" fill="#333">2</text>
<text x="1118.3" y="301.5" font-size="15.8" fill="#333">1</text>
<text x="1118.3" y="328.6" font-size="15.8" fill="#333">0.5</text>
<text x="1118.3" y="355.8" font-size="15.8" fill="#333">0</text>
<text x="1118.3" y="383.0" font-size="15.8" fill="#333">-0.5</text>
<text x="1118.3" y="410.1" font-size="15.8" fill="#333">-1</text>
<text x="1118.3" y="437.3" font-size="15.8" fill="#333">-2</text>
<text x="1118.3" y="464.5" font-size="15.8" fill="#333">-3</text>
<text x="1118.3" y="491.6" font-size="15.8" fill="#333">-4</text>
<text x="449.8" y="427" text-anchor="middle" font-size="13.5" fill="#333">Temperatura máxima</text>
<text x="450.2" y="440.6" text-anchor="middle" font-size="13.5" fill="#333">media (ºC)</text>
<text x="450.4" y="469.2" text-anchor="middle" font-size="13.5" fill="#333">1 al 7 de marzo</text>
<text x="449.2" y="483.1" text-anchor="middle" font-size="13.5" fill="#333">2023</text>
<text x="975" y="422.1" text-anchor="middle" font-size="13.5" fill="#333">Anomalía de temperatura</text>
<text x="977.6" y="438.6" text-anchor="middle" font-size="13.5" fill="#333">máxima media (°C)</text>
<text x="977.2" y="471.4" text-anchor="middle" font-size="13.5" fill="#333">1 al 7 de marzo</text>
<text x="976.8" y="487.6" text-anchor="middle" font-size="13.5" fill="#333">2023</text>
</svg></body></html>
